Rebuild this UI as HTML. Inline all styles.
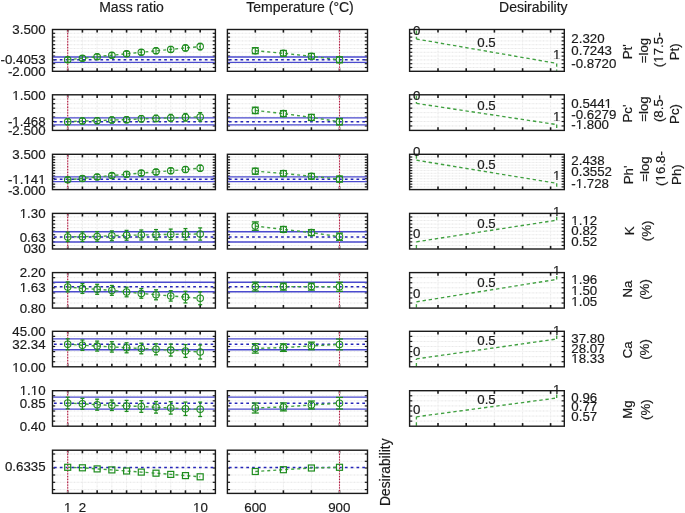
<!DOCTYPE html>
<html><head><meta charset="utf-8"><style>
html,body{margin:0;padding:0;background:#fff;width:685px;height:513px;overflow:hidden}
svg{display:block;will-change:transform;filter:blur(0.3px)}
text{font-family:"Liberation Sans", sans-serif;stroke:#1a1a1a;stroke-width:0.18px}
</style></head><body>
<svg width="685" height="513" viewBox="0 0 685 513" font-family='"Liberation Sans", sans-serif' fill="#1a1a1a">
<rect width="685" height="513" fill="#ffffff"/>
<text x="131.50" y="11.60" text-anchor="middle" font-size="14">Mass ratio</text>
<text x="300.00" y="11.60" text-anchor="middle" font-size="14">Temperature (°C)</text>
<text x="533.30" y="11.60" text-anchor="middle" font-size="14">Desirability</text>
<line x1="53.00" y1="33.30" x2="214.90" y2="33.30" stroke="#f5f5f5" stroke-width="1"/>
<line x1="53.00" y1="33.30" x2="214.90" y2="33.30" stroke="#e8e8e8" stroke-width="1" stroke-dasharray="1,2.5"/>
<line x1="53.00" y1="37.10" x2="214.90" y2="37.10" stroke="#f5f5f5" stroke-width="1"/>
<line x1="53.00" y1="37.10" x2="214.90" y2="37.10" stroke="#e8e8e8" stroke-width="1" stroke-dasharray="1,2.5"/>
<line x1="53.00" y1="40.90" x2="214.90" y2="40.90" stroke="#f5f5f5" stroke-width="1"/>
<line x1="53.00" y1="40.90" x2="214.90" y2="40.90" stroke="#e8e8e8" stroke-width="1" stroke-dasharray="1,2.5"/>
<line x1="53.00" y1="44.70" x2="214.90" y2="44.70" stroke="#f5f5f5" stroke-width="1"/>
<line x1="53.00" y1="44.70" x2="214.90" y2="44.70" stroke="#e8e8e8" stroke-width="1" stroke-dasharray="1,2.5"/>
<line x1="53.00" y1="48.50" x2="214.90" y2="48.50" stroke="#f5f5f5" stroke-width="1"/>
<line x1="53.00" y1="48.50" x2="214.90" y2="48.50" stroke="#e8e8e8" stroke-width="1" stroke-dasharray="1,2.5"/>
<line x1="53.00" y1="52.30" x2="214.90" y2="52.30" stroke="#f5f5f5" stroke-width="1"/>
<line x1="53.00" y1="52.30" x2="214.90" y2="52.30" stroke="#e8e8e8" stroke-width="1" stroke-dasharray="1,2.5"/>
<line x1="53.00" y1="56.10" x2="214.90" y2="56.10" stroke="#f5f5f5" stroke-width="1"/>
<line x1="53.00" y1="56.10" x2="214.90" y2="56.10" stroke="#e8e8e8" stroke-width="1" stroke-dasharray="1,2.5"/>
<line x1="53.00" y1="59.90" x2="214.90" y2="59.90" stroke="#f5f5f5" stroke-width="1"/>
<line x1="53.00" y1="59.90" x2="214.90" y2="59.90" stroke="#e8e8e8" stroke-width="1" stroke-dasharray="1,2.5"/>
<line x1="53.00" y1="63.70" x2="214.90" y2="63.70" stroke="#f5f5f5" stroke-width="1"/>
<line x1="53.00" y1="63.70" x2="214.90" y2="63.70" stroke="#e8e8e8" stroke-width="1" stroke-dasharray="1,2.5"/>
<line x1="53.00" y1="67.50" x2="214.90" y2="67.50" stroke="#f5f5f5" stroke-width="1"/>
<line x1="53.00" y1="67.50" x2="214.90" y2="67.50" stroke="#e8e8e8" stroke-width="1" stroke-dasharray="1,2.5"/>
<line x1="67.70" y1="30.00" x2="67.70" y2="70.80" stroke="#f5f5f5" stroke-width="1"/>
<line x1="67.70" y1="30.00" x2="67.70" y2="70.80" stroke="#e8e8e8" stroke-width="1" stroke-dasharray="1,2.5"/>
<line x1="82.42" y1="30.00" x2="82.42" y2="70.80" stroke="#f5f5f5" stroke-width="1"/>
<line x1="82.42" y1="30.00" x2="82.42" y2="70.80" stroke="#e8e8e8" stroke-width="1" stroke-dasharray="1,2.5"/>
<line x1="97.14" y1="30.00" x2="97.14" y2="70.80" stroke="#f5f5f5" stroke-width="1"/>
<line x1="97.14" y1="30.00" x2="97.14" y2="70.80" stroke="#e8e8e8" stroke-width="1" stroke-dasharray="1,2.5"/>
<line x1="111.86" y1="30.00" x2="111.86" y2="70.80" stroke="#f5f5f5" stroke-width="1"/>
<line x1="111.86" y1="30.00" x2="111.86" y2="70.80" stroke="#e8e8e8" stroke-width="1" stroke-dasharray="1,2.5"/>
<line x1="126.58" y1="30.00" x2="126.58" y2="70.80" stroke="#f5f5f5" stroke-width="1"/>
<line x1="126.58" y1="30.00" x2="126.58" y2="70.80" stroke="#e8e8e8" stroke-width="1" stroke-dasharray="1,2.5"/>
<line x1="141.30" y1="30.00" x2="141.30" y2="70.80" stroke="#f5f5f5" stroke-width="1"/>
<line x1="141.30" y1="30.00" x2="141.30" y2="70.80" stroke="#e8e8e8" stroke-width="1" stroke-dasharray="1,2.5"/>
<line x1="156.02" y1="30.00" x2="156.02" y2="70.80" stroke="#f5f5f5" stroke-width="1"/>
<line x1="156.02" y1="30.00" x2="156.02" y2="70.80" stroke="#e8e8e8" stroke-width="1" stroke-dasharray="1,2.5"/>
<line x1="170.74" y1="30.00" x2="170.74" y2="70.80" stroke="#f5f5f5" stroke-width="1"/>
<line x1="170.74" y1="30.00" x2="170.74" y2="70.80" stroke="#e8e8e8" stroke-width="1" stroke-dasharray="1,2.5"/>
<line x1="185.46" y1="30.00" x2="185.46" y2="70.80" stroke="#f5f5f5" stroke-width="1"/>
<line x1="185.46" y1="30.00" x2="185.46" y2="70.80" stroke="#e8e8e8" stroke-width="1" stroke-dasharray="1,2.5"/>
<line x1="200.18" y1="30.00" x2="200.18" y2="70.80" stroke="#f5f5f5" stroke-width="1"/>
<line x1="200.18" y1="30.00" x2="200.18" y2="70.80" stroke="#e8e8e8" stroke-width="1" stroke-dasharray="1,2.5"/>
<line x1="52.50" y1="33.30" x2="55.20" y2="33.30" stroke="#1a1a1a" stroke-width="1.2"/>
<line x1="212.70" y1="33.30" x2="215.40" y2="33.30" stroke="#1a1a1a" stroke-width="1.2"/>
<line x1="52.50" y1="37.10" x2="55.20" y2="37.10" stroke="#1a1a1a" stroke-width="1.2"/>
<line x1="212.70" y1="37.10" x2="215.40" y2="37.10" stroke="#1a1a1a" stroke-width="1.2"/>
<line x1="52.50" y1="40.90" x2="55.20" y2="40.90" stroke="#1a1a1a" stroke-width="1.2"/>
<line x1="212.70" y1="40.90" x2="215.40" y2="40.90" stroke="#1a1a1a" stroke-width="1.2"/>
<line x1="52.50" y1="44.70" x2="55.20" y2="44.70" stroke="#1a1a1a" stroke-width="1.2"/>
<line x1="212.70" y1="44.70" x2="215.40" y2="44.70" stroke="#1a1a1a" stroke-width="1.2"/>
<line x1="52.50" y1="48.50" x2="55.20" y2="48.50" stroke="#1a1a1a" stroke-width="1.2"/>
<line x1="212.70" y1="48.50" x2="215.40" y2="48.50" stroke="#1a1a1a" stroke-width="1.2"/>
<line x1="52.50" y1="52.30" x2="55.20" y2="52.30" stroke="#1a1a1a" stroke-width="1.2"/>
<line x1="212.70" y1="52.30" x2="215.40" y2="52.30" stroke="#1a1a1a" stroke-width="1.2"/>
<line x1="52.50" y1="56.10" x2="55.20" y2="56.10" stroke="#1a1a1a" stroke-width="1.2"/>
<line x1="212.70" y1="56.10" x2="215.40" y2="56.10" stroke="#1a1a1a" stroke-width="1.2"/>
<line x1="52.50" y1="59.90" x2="55.20" y2="59.90" stroke="#1a1a1a" stroke-width="1.2"/>
<line x1="212.70" y1="59.90" x2="215.40" y2="59.90" stroke="#1a1a1a" stroke-width="1.2"/>
<line x1="52.50" y1="63.70" x2="55.20" y2="63.70" stroke="#1a1a1a" stroke-width="1.2"/>
<line x1="212.70" y1="63.70" x2="215.40" y2="63.70" stroke="#1a1a1a" stroke-width="1.2"/>
<line x1="52.50" y1="67.50" x2="55.20" y2="67.50" stroke="#1a1a1a" stroke-width="1.2"/>
<line x1="212.70" y1="67.50" x2="215.40" y2="67.50" stroke="#1a1a1a" stroke-width="1.2"/>
<line x1="67.70" y1="29.50" x2="67.70" y2="32.60" stroke="#1a1a1a" stroke-width="1.6"/>
<line x1="67.70" y1="68.20" x2="67.70" y2="71.30" stroke="#1a1a1a" stroke-width="1.6"/>
<line x1="82.42" y1="29.50" x2="82.42" y2="32.60" stroke="#1a1a1a" stroke-width="1.6"/>
<line x1="82.42" y1="68.20" x2="82.42" y2="71.30" stroke="#1a1a1a" stroke-width="1.6"/>
<line x1="97.14" y1="29.50" x2="97.14" y2="32.60" stroke="#1a1a1a" stroke-width="1.6"/>
<line x1="97.14" y1="68.20" x2="97.14" y2="71.30" stroke="#1a1a1a" stroke-width="1.6"/>
<line x1="111.86" y1="29.50" x2="111.86" y2="32.60" stroke="#1a1a1a" stroke-width="1.6"/>
<line x1="111.86" y1="68.20" x2="111.86" y2="71.30" stroke="#1a1a1a" stroke-width="1.6"/>
<line x1="126.58" y1="29.50" x2="126.58" y2="32.60" stroke="#1a1a1a" stroke-width="1.6"/>
<line x1="126.58" y1="68.20" x2="126.58" y2="71.30" stroke="#1a1a1a" stroke-width="1.6"/>
<line x1="141.30" y1="29.50" x2="141.30" y2="32.60" stroke="#1a1a1a" stroke-width="1.6"/>
<line x1="141.30" y1="68.20" x2="141.30" y2="71.30" stroke="#1a1a1a" stroke-width="1.6"/>
<line x1="156.02" y1="29.50" x2="156.02" y2="32.60" stroke="#1a1a1a" stroke-width="1.6"/>
<line x1="156.02" y1="68.20" x2="156.02" y2="71.30" stroke="#1a1a1a" stroke-width="1.6"/>
<line x1="170.74" y1="29.50" x2="170.74" y2="32.60" stroke="#1a1a1a" stroke-width="1.6"/>
<line x1="170.74" y1="68.20" x2="170.74" y2="71.30" stroke="#1a1a1a" stroke-width="1.6"/>
<line x1="185.46" y1="29.50" x2="185.46" y2="32.60" stroke="#1a1a1a" stroke-width="1.6"/>
<line x1="185.46" y1="68.20" x2="185.46" y2="71.30" stroke="#1a1a1a" stroke-width="1.6"/>
<line x1="200.18" y1="29.50" x2="200.18" y2="32.60" stroke="#1a1a1a" stroke-width="1.6"/>
<line x1="200.18" y1="68.20" x2="200.18" y2="71.30" stroke="#1a1a1a" stroke-width="1.6"/>
<line x1="53.10" y1="57.00" x2="214.80" y2="57.00" stroke="#4a4ace" stroke-width="1.35"/>
<line x1="53.10" y1="62.40" x2="214.80" y2="62.40" stroke="#4a4ace" stroke-width="1.35"/>
<line x1="54.00" y1="59.70" x2="214.80" y2="59.70" stroke="#2525b8" stroke-width="1.6" stroke-dasharray="2.7,3.1"/>
<line x1="67.70" y1="30.10" x2="67.70" y2="70.70" stroke="#e9b9c6" stroke-width="1.0"/>
<line x1="67.70" y1="30.10" x2="67.70" y2="70.70" stroke="#b01c40" stroke-width="1.1" stroke-dasharray="1.3,1.5"/>
<polyline points="67.70,59.70 82.42,58.30 97.14,56.70 111.86,55.20 126.58,53.80 141.30,52.30 156.02,50.80 170.74,49.40 185.46,47.90 200.18,46.60" fill="none" stroke="#40a040" stroke-width="1.4" stroke-dasharray="3,3"/>
<circle cx="67.70" cy="59.70" r="3.25" fill="none" stroke="#1e8c1e" stroke-width="1.05"/>
<line x1="67.70" y1="57.10" x2="67.70" y2="62.30" stroke="#1e8c1e" stroke-width="1.1"/>
<line x1="65.70" y1="57.10" x2="69.70" y2="57.10" stroke="#1e8c1e" stroke-width="1.3"/>
<line x1="65.70" y1="62.30" x2="69.70" y2="62.30" stroke="#1e8c1e" stroke-width="1.3"/>
<circle cx="82.42" cy="58.30" r="3.25" fill="none" stroke="#1e8c1e" stroke-width="1.05"/>
<line x1="82.42" y1="55.70" x2="82.42" y2="60.90" stroke="#1e8c1e" stroke-width="1.1"/>
<line x1="80.42" y1="55.70" x2="84.42" y2="55.70" stroke="#1e8c1e" stroke-width="1.3"/>
<line x1="80.42" y1="60.90" x2="84.42" y2="60.90" stroke="#1e8c1e" stroke-width="1.3"/>
<circle cx="97.14" cy="56.70" r="3.25" fill="none" stroke="#1e8c1e" stroke-width="1.05"/>
<line x1="97.14" y1="54.10" x2="97.14" y2="59.30" stroke="#1e8c1e" stroke-width="1.1"/>
<line x1="95.14" y1="54.10" x2="99.14" y2="54.10" stroke="#1e8c1e" stroke-width="1.3"/>
<line x1="95.14" y1="59.30" x2="99.14" y2="59.30" stroke="#1e8c1e" stroke-width="1.3"/>
<circle cx="111.86" cy="55.20" r="3.25" fill="none" stroke="#1e8c1e" stroke-width="1.05"/>
<line x1="111.86" y1="52.60" x2="111.86" y2="57.80" stroke="#1e8c1e" stroke-width="1.1"/>
<line x1="109.86" y1="52.60" x2="113.86" y2="52.60" stroke="#1e8c1e" stroke-width="1.3"/>
<line x1="109.86" y1="57.80" x2="113.86" y2="57.80" stroke="#1e8c1e" stroke-width="1.3"/>
<circle cx="126.58" cy="53.80" r="3.25" fill="none" stroke="#1e8c1e" stroke-width="1.05"/>
<line x1="126.58" y1="51.20" x2="126.58" y2="56.40" stroke="#1e8c1e" stroke-width="1.1"/>
<line x1="124.58" y1="51.20" x2="128.58" y2="51.20" stroke="#1e8c1e" stroke-width="1.3"/>
<line x1="124.58" y1="56.40" x2="128.58" y2="56.40" stroke="#1e8c1e" stroke-width="1.3"/>
<circle cx="141.30" cy="52.30" r="3.25" fill="none" stroke="#1e8c1e" stroke-width="1.05"/>
<line x1="141.30" y1="49.60" x2="141.30" y2="55.00" stroke="#1e8c1e" stroke-width="1.1"/>
<line x1="139.30" y1="49.60" x2="143.30" y2="49.60" stroke="#1e8c1e" stroke-width="1.3"/>
<line x1="139.30" y1="55.00" x2="143.30" y2="55.00" stroke="#1e8c1e" stroke-width="1.3"/>
<circle cx="156.02" cy="50.80" r="3.25" fill="none" stroke="#1e8c1e" stroke-width="1.05"/>
<line x1="156.02" y1="48.00" x2="156.02" y2="53.60" stroke="#1e8c1e" stroke-width="1.1"/>
<line x1="154.02" y1="48.00" x2="158.02" y2="48.00" stroke="#1e8c1e" stroke-width="1.3"/>
<line x1="154.02" y1="53.60" x2="158.02" y2="53.60" stroke="#1e8c1e" stroke-width="1.3"/>
<circle cx="170.74" cy="49.40" r="3.25" fill="none" stroke="#1e8c1e" stroke-width="1.05"/>
<line x1="170.74" y1="46.50" x2="170.74" y2="52.30" stroke="#1e8c1e" stroke-width="1.1"/>
<line x1="168.74" y1="46.50" x2="172.74" y2="46.50" stroke="#1e8c1e" stroke-width="1.3"/>
<line x1="168.74" y1="52.30" x2="172.74" y2="52.30" stroke="#1e8c1e" stroke-width="1.3"/>
<circle cx="185.46" cy="47.90" r="3.25" fill="none" stroke="#1e8c1e" stroke-width="1.05"/>
<line x1="185.46" y1="44.90" x2="185.46" y2="50.90" stroke="#1e8c1e" stroke-width="1.1"/>
<line x1="183.46" y1="44.90" x2="187.46" y2="44.90" stroke="#1e8c1e" stroke-width="1.3"/>
<line x1="183.46" y1="50.90" x2="187.46" y2="50.90" stroke="#1e8c1e" stroke-width="1.3"/>
<circle cx="200.18" cy="46.60" r="3.25" fill="none" stroke="#1e8c1e" stroke-width="1.05"/>
<line x1="200.18" y1="43.40" x2="200.18" y2="49.80" stroke="#1e8c1e" stroke-width="1.1"/>
<line x1="198.18" y1="43.40" x2="202.18" y2="43.40" stroke="#1e8c1e" stroke-width="1.3"/>
<line x1="198.18" y1="49.80" x2="202.18" y2="49.80" stroke="#1e8c1e" stroke-width="1.3"/>
<rect x="52.50" y="29.50" width="162.90" height="41.80" fill="none" stroke="#1a1a1a" stroke-width="1.4"/>
<line x1="227.90" y1="33.30" x2="367.00" y2="33.30" stroke="#f5f5f5" stroke-width="1"/>
<line x1="227.90" y1="33.30" x2="367.00" y2="33.30" stroke="#e8e8e8" stroke-width="1" stroke-dasharray="1,2.5"/>
<line x1="227.90" y1="37.10" x2="367.00" y2="37.10" stroke="#f5f5f5" stroke-width="1"/>
<line x1="227.90" y1="37.10" x2="367.00" y2="37.10" stroke="#e8e8e8" stroke-width="1" stroke-dasharray="1,2.5"/>
<line x1="227.90" y1="40.90" x2="367.00" y2="40.90" stroke="#f5f5f5" stroke-width="1"/>
<line x1="227.90" y1="40.90" x2="367.00" y2="40.90" stroke="#e8e8e8" stroke-width="1" stroke-dasharray="1,2.5"/>
<line x1="227.90" y1="44.70" x2="367.00" y2="44.70" stroke="#f5f5f5" stroke-width="1"/>
<line x1="227.90" y1="44.70" x2="367.00" y2="44.70" stroke="#e8e8e8" stroke-width="1" stroke-dasharray="1,2.5"/>
<line x1="227.90" y1="48.50" x2="367.00" y2="48.50" stroke="#f5f5f5" stroke-width="1"/>
<line x1="227.90" y1="48.50" x2="367.00" y2="48.50" stroke="#e8e8e8" stroke-width="1" stroke-dasharray="1,2.5"/>
<line x1="227.90" y1="52.30" x2="367.00" y2="52.30" stroke="#f5f5f5" stroke-width="1"/>
<line x1="227.90" y1="52.30" x2="367.00" y2="52.30" stroke="#e8e8e8" stroke-width="1" stroke-dasharray="1,2.5"/>
<line x1="227.90" y1="56.10" x2="367.00" y2="56.10" stroke="#f5f5f5" stroke-width="1"/>
<line x1="227.90" y1="56.10" x2="367.00" y2="56.10" stroke="#e8e8e8" stroke-width="1" stroke-dasharray="1,2.5"/>
<line x1="227.90" y1="59.90" x2="367.00" y2="59.90" stroke="#f5f5f5" stroke-width="1"/>
<line x1="227.90" y1="59.90" x2="367.00" y2="59.90" stroke="#e8e8e8" stroke-width="1" stroke-dasharray="1,2.5"/>
<line x1="227.90" y1="63.70" x2="367.00" y2="63.70" stroke="#f5f5f5" stroke-width="1"/>
<line x1="227.90" y1="63.70" x2="367.00" y2="63.70" stroke="#e8e8e8" stroke-width="1" stroke-dasharray="1,2.5"/>
<line x1="227.90" y1="67.50" x2="367.00" y2="67.50" stroke="#f5f5f5" stroke-width="1"/>
<line x1="227.90" y1="67.50" x2="367.00" y2="67.50" stroke="#e8e8e8" stroke-width="1" stroke-dasharray="1,2.5"/>
<line x1="255.30" y1="30.00" x2="255.30" y2="70.80" stroke="#f5f5f5" stroke-width="1"/>
<line x1="255.30" y1="30.00" x2="255.30" y2="70.80" stroke="#e8e8e8" stroke-width="1" stroke-dasharray="1,2.5"/>
<line x1="283.40" y1="30.00" x2="283.40" y2="70.80" stroke="#f5f5f5" stroke-width="1"/>
<line x1="283.40" y1="30.00" x2="283.40" y2="70.80" stroke="#e8e8e8" stroke-width="1" stroke-dasharray="1,2.5"/>
<line x1="311.40" y1="30.00" x2="311.40" y2="70.80" stroke="#f5f5f5" stroke-width="1"/>
<line x1="311.40" y1="30.00" x2="311.40" y2="70.80" stroke="#e8e8e8" stroke-width="1" stroke-dasharray="1,2.5"/>
<line x1="339.50" y1="30.00" x2="339.50" y2="70.80" stroke="#f5f5f5" stroke-width="1"/>
<line x1="339.50" y1="30.00" x2="339.50" y2="70.80" stroke="#e8e8e8" stroke-width="1" stroke-dasharray="1,2.5"/>
<line x1="227.40" y1="33.30" x2="230.10" y2="33.30" stroke="#1a1a1a" stroke-width="1.2"/>
<line x1="364.80" y1="33.30" x2="367.50" y2="33.30" stroke="#1a1a1a" stroke-width="1.2"/>
<line x1="227.40" y1="37.10" x2="230.10" y2="37.10" stroke="#1a1a1a" stroke-width="1.2"/>
<line x1="364.80" y1="37.10" x2="367.50" y2="37.10" stroke="#1a1a1a" stroke-width="1.2"/>
<line x1="227.40" y1="40.90" x2="230.10" y2="40.90" stroke="#1a1a1a" stroke-width="1.2"/>
<line x1="364.80" y1="40.90" x2="367.50" y2="40.90" stroke="#1a1a1a" stroke-width="1.2"/>
<line x1="227.40" y1="44.70" x2="230.10" y2="44.70" stroke="#1a1a1a" stroke-width="1.2"/>
<line x1="364.80" y1="44.70" x2="367.50" y2="44.70" stroke="#1a1a1a" stroke-width="1.2"/>
<line x1="227.40" y1="48.50" x2="230.10" y2="48.50" stroke="#1a1a1a" stroke-width="1.2"/>
<line x1="364.80" y1="48.50" x2="367.50" y2="48.50" stroke="#1a1a1a" stroke-width="1.2"/>
<line x1="227.40" y1="52.30" x2="230.10" y2="52.30" stroke="#1a1a1a" stroke-width="1.2"/>
<line x1="364.80" y1="52.30" x2="367.50" y2="52.30" stroke="#1a1a1a" stroke-width="1.2"/>
<line x1="227.40" y1="56.10" x2="230.10" y2="56.10" stroke="#1a1a1a" stroke-width="1.2"/>
<line x1="364.80" y1="56.10" x2="367.50" y2="56.10" stroke="#1a1a1a" stroke-width="1.2"/>
<line x1="227.40" y1="59.90" x2="230.10" y2="59.90" stroke="#1a1a1a" stroke-width="1.2"/>
<line x1="364.80" y1="59.90" x2="367.50" y2="59.90" stroke="#1a1a1a" stroke-width="1.2"/>
<line x1="227.40" y1="63.70" x2="230.10" y2="63.70" stroke="#1a1a1a" stroke-width="1.2"/>
<line x1="364.80" y1="63.70" x2="367.50" y2="63.70" stroke="#1a1a1a" stroke-width="1.2"/>
<line x1="227.40" y1="67.50" x2="230.10" y2="67.50" stroke="#1a1a1a" stroke-width="1.2"/>
<line x1="364.80" y1="67.50" x2="367.50" y2="67.50" stroke="#1a1a1a" stroke-width="1.2"/>
<line x1="255.30" y1="29.50" x2="255.30" y2="32.60" stroke="#1a1a1a" stroke-width="1.6"/>
<line x1="255.30" y1="68.20" x2="255.30" y2="71.30" stroke="#1a1a1a" stroke-width="1.6"/>
<line x1="283.40" y1="29.50" x2="283.40" y2="32.60" stroke="#1a1a1a" stroke-width="1.6"/>
<line x1="283.40" y1="68.20" x2="283.40" y2="71.30" stroke="#1a1a1a" stroke-width="1.6"/>
<line x1="311.40" y1="29.50" x2="311.40" y2="32.60" stroke="#1a1a1a" stroke-width="1.6"/>
<line x1="311.40" y1="68.20" x2="311.40" y2="71.30" stroke="#1a1a1a" stroke-width="1.6"/>
<line x1="339.50" y1="29.50" x2="339.50" y2="32.60" stroke="#1a1a1a" stroke-width="1.6"/>
<line x1="339.50" y1="68.20" x2="339.50" y2="71.30" stroke="#1a1a1a" stroke-width="1.6"/>
<line x1="228.00" y1="57.00" x2="366.90" y2="57.00" stroke="#4a4ace" stroke-width="1.35"/>
<line x1="228.00" y1="62.40" x2="366.90" y2="62.40" stroke="#4a4ace" stroke-width="1.35"/>
<line x1="228.90" y1="59.70" x2="366.90" y2="59.70" stroke="#2525b8" stroke-width="1.6" stroke-dasharray="2.7,3.1"/>
<line x1="339.50" y1="30.10" x2="339.50" y2="70.70" stroke="#e9b9c6" stroke-width="1.0"/>
<line x1="339.50" y1="30.10" x2="339.50" y2="70.70" stroke="#b01c40" stroke-width="1.1" stroke-dasharray="1.3,1.5"/>
<polyline points="255.30,50.70 283.40,53.30 311.40,56.30 339.50,59.80" fill="none" stroke="#40a040" stroke-width="1.4" stroke-dasharray="3,3"/>
<circle cx="255.30" cy="50.70" r="3.25" fill="none" stroke="#1e8c1e" stroke-width="1.05"/>
<line x1="255.30" y1="47.70" x2="255.30" y2="53.70" stroke="#1e8c1e" stroke-width="1.1"/>
<line x1="251.80" y1="47.70" x2="258.80" y2="47.70" stroke="#1e8c1e" stroke-width="1.3"/>
<line x1="251.80" y1="53.70" x2="258.80" y2="53.70" stroke="#1e8c1e" stroke-width="1.3"/>
<circle cx="283.40" cy="53.30" r="3.25" fill="none" stroke="#1e8c1e" stroke-width="1.05"/>
<line x1="283.40" y1="50.50" x2="283.40" y2="56.10" stroke="#1e8c1e" stroke-width="1.1"/>
<line x1="279.90" y1="50.50" x2="286.90" y2="50.50" stroke="#1e8c1e" stroke-width="1.3"/>
<line x1="279.90" y1="56.10" x2="286.90" y2="56.10" stroke="#1e8c1e" stroke-width="1.3"/>
<circle cx="311.40" cy="56.30" r="3.25" fill="none" stroke="#1e8c1e" stroke-width="1.05"/>
<line x1="311.40" y1="53.50" x2="311.40" y2="59.10" stroke="#1e8c1e" stroke-width="1.1"/>
<line x1="307.90" y1="53.50" x2="314.90" y2="53.50" stroke="#1e8c1e" stroke-width="1.3"/>
<line x1="307.90" y1="59.10" x2="314.90" y2="59.10" stroke="#1e8c1e" stroke-width="1.3"/>
<circle cx="339.50" cy="59.80" r="3.25" fill="none" stroke="#1e8c1e" stroke-width="1.05"/>
<line x1="339.50" y1="56.80" x2="339.50" y2="62.80" stroke="#1e8c1e" stroke-width="1.1"/>
<line x1="336.00" y1="56.80" x2="343.00" y2="56.80" stroke="#1e8c1e" stroke-width="1.3"/>
<line x1="336.00" y1="62.80" x2="343.00" y2="62.80" stroke="#1e8c1e" stroke-width="1.3"/>
<rect x="227.40" y="29.50" width="140.10" height="41.80" fill="none" stroke="#1a1a1a" stroke-width="1.4"/>
<text x="45.60" y="34.45" text-anchor="end" font-size="13.3">3.500</text>
<text x="45.60" y="64.15" text-anchor="end" font-size="13.3">-0.4053</text>
<text x="45.60" y="76.35" text-anchor="end" font-size="13.3">-2.000</text>
<line x1="410.10" y1="33.30" x2="563.80" y2="33.30" stroke="#f5f5f5" stroke-width="1"/>
<line x1="410.10" y1="33.30" x2="563.80" y2="33.30" stroke="#e8e8e8" stroke-width="1" stroke-dasharray="1,2.5"/>
<line x1="410.10" y1="37.10" x2="563.80" y2="37.10" stroke="#f5f5f5" stroke-width="1"/>
<line x1="410.10" y1="37.10" x2="563.80" y2="37.10" stroke="#e8e8e8" stroke-width="1" stroke-dasharray="1,2.5"/>
<line x1="410.10" y1="40.90" x2="563.80" y2="40.90" stroke="#f5f5f5" stroke-width="1"/>
<line x1="410.10" y1="40.90" x2="563.80" y2="40.90" stroke="#e8e8e8" stroke-width="1" stroke-dasharray="1,2.5"/>
<line x1="410.10" y1="44.70" x2="563.80" y2="44.70" stroke="#f5f5f5" stroke-width="1"/>
<line x1="410.10" y1="44.70" x2="563.80" y2="44.70" stroke="#e8e8e8" stroke-width="1" stroke-dasharray="1,2.5"/>
<line x1="410.10" y1="48.50" x2="563.80" y2="48.50" stroke="#f5f5f5" stroke-width="1"/>
<line x1="410.10" y1="48.50" x2="563.80" y2="48.50" stroke="#e8e8e8" stroke-width="1" stroke-dasharray="1,2.5"/>
<line x1="410.10" y1="52.30" x2="563.80" y2="52.30" stroke="#f5f5f5" stroke-width="1"/>
<line x1="410.10" y1="52.30" x2="563.80" y2="52.30" stroke="#e8e8e8" stroke-width="1" stroke-dasharray="1,2.5"/>
<line x1="410.10" y1="56.10" x2="563.80" y2="56.10" stroke="#f5f5f5" stroke-width="1"/>
<line x1="410.10" y1="56.10" x2="563.80" y2="56.10" stroke="#e8e8e8" stroke-width="1" stroke-dasharray="1,2.5"/>
<line x1="410.10" y1="59.90" x2="563.80" y2="59.90" stroke="#f5f5f5" stroke-width="1"/>
<line x1="410.10" y1="59.90" x2="563.80" y2="59.90" stroke="#e8e8e8" stroke-width="1" stroke-dasharray="1,2.5"/>
<line x1="410.10" y1="63.70" x2="563.80" y2="63.70" stroke="#f5f5f5" stroke-width="1"/>
<line x1="410.10" y1="63.70" x2="563.80" y2="63.70" stroke="#e8e8e8" stroke-width="1" stroke-dasharray="1,2.5"/>
<line x1="410.10" y1="67.50" x2="563.80" y2="67.50" stroke="#f5f5f5" stroke-width="1"/>
<line x1="410.10" y1="67.50" x2="563.80" y2="67.50" stroke="#e8e8e8" stroke-width="1" stroke-dasharray="1,2.5"/>
<line x1="438.00" y1="30.00" x2="438.00" y2="70.80" stroke="#f5f5f5" stroke-width="1"/>
<line x1="438.00" y1="30.00" x2="438.00" y2="70.80" stroke="#e8e8e8" stroke-width="1" stroke-dasharray="1,2.5"/>
<line x1="466.20" y1="30.00" x2="466.20" y2="70.80" stroke="#f5f5f5" stroke-width="1"/>
<line x1="466.20" y1="30.00" x2="466.20" y2="70.80" stroke="#e8e8e8" stroke-width="1" stroke-dasharray="1,2.5"/>
<line x1="494.40" y1="30.00" x2="494.40" y2="70.80" stroke="#f5f5f5" stroke-width="1"/>
<line x1="494.40" y1="30.00" x2="494.40" y2="70.80" stroke="#e8e8e8" stroke-width="1" stroke-dasharray="1,2.5"/>
<line x1="522.60" y1="30.00" x2="522.60" y2="70.80" stroke="#f5f5f5" stroke-width="1"/>
<line x1="522.60" y1="30.00" x2="522.60" y2="70.80" stroke="#e8e8e8" stroke-width="1" stroke-dasharray="1,2.5"/>
<line x1="550.60" y1="30.00" x2="550.60" y2="70.80" stroke="#f5f5f5" stroke-width="1"/>
<line x1="550.60" y1="30.00" x2="550.60" y2="70.80" stroke="#e8e8e8" stroke-width="1" stroke-dasharray="1,2.5"/>
<line x1="409.60" y1="33.30" x2="412.30" y2="33.30" stroke="#1a1a1a" stroke-width="1.2"/>
<line x1="561.60" y1="33.30" x2="564.30" y2="33.30" stroke="#1a1a1a" stroke-width="1.2"/>
<line x1="409.60" y1="37.10" x2="412.30" y2="37.10" stroke="#1a1a1a" stroke-width="1.2"/>
<line x1="561.60" y1="37.10" x2="564.30" y2="37.10" stroke="#1a1a1a" stroke-width="1.2"/>
<line x1="409.60" y1="40.90" x2="412.30" y2="40.90" stroke="#1a1a1a" stroke-width="1.2"/>
<line x1="561.60" y1="40.90" x2="564.30" y2="40.90" stroke="#1a1a1a" stroke-width="1.2"/>
<line x1="409.60" y1="44.70" x2="412.30" y2="44.70" stroke="#1a1a1a" stroke-width="1.2"/>
<line x1="561.60" y1="44.70" x2="564.30" y2="44.70" stroke="#1a1a1a" stroke-width="1.2"/>
<line x1="409.60" y1="48.50" x2="412.30" y2="48.50" stroke="#1a1a1a" stroke-width="1.2"/>
<line x1="561.60" y1="48.50" x2="564.30" y2="48.50" stroke="#1a1a1a" stroke-width="1.2"/>
<line x1="409.60" y1="52.30" x2="412.30" y2="52.30" stroke="#1a1a1a" stroke-width="1.2"/>
<line x1="561.60" y1="52.30" x2="564.30" y2="52.30" stroke="#1a1a1a" stroke-width="1.2"/>
<line x1="409.60" y1="56.10" x2="412.30" y2="56.10" stroke="#1a1a1a" stroke-width="1.2"/>
<line x1="561.60" y1="56.10" x2="564.30" y2="56.10" stroke="#1a1a1a" stroke-width="1.2"/>
<line x1="409.60" y1="59.90" x2="412.30" y2="59.90" stroke="#1a1a1a" stroke-width="1.2"/>
<line x1="561.60" y1="59.90" x2="564.30" y2="59.90" stroke="#1a1a1a" stroke-width="1.2"/>
<line x1="409.60" y1="63.70" x2="412.30" y2="63.70" stroke="#1a1a1a" stroke-width="1.2"/>
<line x1="561.60" y1="63.70" x2="564.30" y2="63.70" stroke="#1a1a1a" stroke-width="1.2"/>
<line x1="409.60" y1="67.50" x2="412.30" y2="67.50" stroke="#1a1a1a" stroke-width="1.2"/>
<line x1="561.60" y1="67.50" x2="564.30" y2="67.50" stroke="#1a1a1a" stroke-width="1.2"/>
<line x1="438.00" y1="29.50" x2="438.00" y2="32.60" stroke="#1a1a1a" stroke-width="1.6"/>
<line x1="438.00" y1="68.20" x2="438.00" y2="71.30" stroke="#1a1a1a" stroke-width="1.6"/>
<line x1="466.20" y1="29.50" x2="466.20" y2="32.60" stroke="#1a1a1a" stroke-width="1.6"/>
<line x1="466.20" y1="68.20" x2="466.20" y2="71.30" stroke="#1a1a1a" stroke-width="1.6"/>
<line x1="494.40" y1="29.50" x2="494.40" y2="32.60" stroke="#1a1a1a" stroke-width="1.6"/>
<line x1="494.40" y1="68.20" x2="494.40" y2="71.30" stroke="#1a1a1a" stroke-width="1.6"/>
<line x1="522.60" y1="29.50" x2="522.60" y2="32.60" stroke="#1a1a1a" stroke-width="1.6"/>
<line x1="522.60" y1="68.20" x2="522.60" y2="71.30" stroke="#1a1a1a" stroke-width="1.6"/>
<line x1="550.60" y1="29.50" x2="550.60" y2="32.60" stroke="#1a1a1a" stroke-width="1.6"/>
<line x1="550.60" y1="68.20" x2="550.60" y2="71.30" stroke="#1a1a1a" stroke-width="1.6"/>
<line x1="416.40" y1="30.50" x2="416.40" y2="39.00" stroke="#40a040" stroke-width="1.35" stroke-dasharray="3.4,2.8"/>
<line x1="416.40" y1="39.00" x2="556.70" y2="63.40" stroke="#40a040" stroke-width="1.35" stroke-dasharray="3.4,2.8"/>
<line x1="556.70" y1="63.40" x2="556.70" y2="70.80" stroke="#40a040" stroke-width="1.35" stroke-dasharray="3.4,2.8"/>
<rect x="409.60" y="29.50" width="154.70" height="41.80" fill="none" stroke="#1a1a1a" stroke-width="1.4"/>
<text x="416.80" y="35.40" text-anchor="middle" font-size="13.3">0</text>
<text x="486.50" y="47.00" text-anchor="middle" font-size="13.3">0.5</text>
<text x="556.70" y="59.40" text-anchor="middle" font-size="13.3" clip-path="url(#c8)">1</text>
<text x="571.30" y="43.35" text-anchor="start" font-size="13.3">2.320</text>
<text x="571.30" y="55.45" text-anchor="start" font-size="13.3">0.7243</text>
<text x="571.30" y="67.95" text-anchor="start" font-size="13.3">-0.8720</text>
<text transform="translate(632.00,51.80) rotate(-90)" text-anchor="middle" font-size="13.3">Pt'</text>
<text transform="translate(647.90,50.50) rotate(-90)" text-anchor="middle" font-size="13.3">=log</text>
<text transform="translate(663.30,49.80) rotate(-90)" text-anchor="middle" font-size="13.3" clip-path="url(#c14)">(17.5-</text>
<text transform="translate(678.90,51.80) rotate(-90)" text-anchor="middle" font-size="13.3">Pt)</text>
<line x1="53.00" y1="99.25" x2="214.90" y2="99.25" stroke="#f5f5f5" stroke-width="1"/>
<line x1="53.00" y1="99.25" x2="214.90" y2="99.25" stroke="#e8e8e8" stroke-width="1" stroke-dasharray="1,2.5"/>
<line x1="53.00" y1="103.70" x2="214.90" y2="103.70" stroke="#f5f5f5" stroke-width="1"/>
<line x1="53.00" y1="103.70" x2="214.90" y2="103.70" stroke="#e8e8e8" stroke-width="1" stroke-dasharray="1,2.5"/>
<line x1="53.00" y1="108.15" x2="214.90" y2="108.15" stroke="#f5f5f5" stroke-width="1"/>
<line x1="53.00" y1="108.15" x2="214.90" y2="108.15" stroke="#e8e8e8" stroke-width="1" stroke-dasharray="1,2.5"/>
<line x1="53.00" y1="112.60" x2="214.90" y2="112.60" stroke="#f5f5f5" stroke-width="1"/>
<line x1="53.00" y1="112.60" x2="214.90" y2="112.60" stroke="#e8e8e8" stroke-width="1" stroke-dasharray="1,2.5"/>
<line x1="53.00" y1="117.05" x2="214.90" y2="117.05" stroke="#f5f5f5" stroke-width="1"/>
<line x1="53.00" y1="117.05" x2="214.90" y2="117.05" stroke="#e8e8e8" stroke-width="1" stroke-dasharray="1,2.5"/>
<line x1="53.00" y1="121.50" x2="214.90" y2="121.50" stroke="#f5f5f5" stroke-width="1"/>
<line x1="53.00" y1="121.50" x2="214.90" y2="121.50" stroke="#e8e8e8" stroke-width="1" stroke-dasharray="1,2.5"/>
<line x1="53.00" y1="125.95" x2="214.90" y2="125.95" stroke="#f5f5f5" stroke-width="1"/>
<line x1="53.00" y1="125.95" x2="214.90" y2="125.95" stroke="#e8e8e8" stroke-width="1" stroke-dasharray="1,2.5"/>
<line x1="67.70" y1="95.30" x2="67.70" y2="129.90" stroke="#f5f5f5" stroke-width="1"/>
<line x1="67.70" y1="95.30" x2="67.70" y2="129.90" stroke="#e8e8e8" stroke-width="1" stroke-dasharray="1,2.5"/>
<line x1="82.42" y1="95.30" x2="82.42" y2="129.90" stroke="#f5f5f5" stroke-width="1"/>
<line x1="82.42" y1="95.30" x2="82.42" y2="129.90" stroke="#e8e8e8" stroke-width="1" stroke-dasharray="1,2.5"/>
<line x1="97.14" y1="95.30" x2="97.14" y2="129.90" stroke="#f5f5f5" stroke-width="1"/>
<line x1="97.14" y1="95.30" x2="97.14" y2="129.90" stroke="#e8e8e8" stroke-width="1" stroke-dasharray="1,2.5"/>
<line x1="111.86" y1="95.30" x2="111.86" y2="129.90" stroke="#f5f5f5" stroke-width="1"/>
<line x1="111.86" y1="95.30" x2="111.86" y2="129.90" stroke="#e8e8e8" stroke-width="1" stroke-dasharray="1,2.5"/>
<line x1="126.58" y1="95.30" x2="126.58" y2="129.90" stroke="#f5f5f5" stroke-width="1"/>
<line x1="126.58" y1="95.30" x2="126.58" y2="129.90" stroke="#e8e8e8" stroke-width="1" stroke-dasharray="1,2.5"/>
<line x1="141.30" y1="95.30" x2="141.30" y2="129.90" stroke="#f5f5f5" stroke-width="1"/>
<line x1="141.30" y1="95.30" x2="141.30" y2="129.90" stroke="#e8e8e8" stroke-width="1" stroke-dasharray="1,2.5"/>
<line x1="156.02" y1="95.30" x2="156.02" y2="129.90" stroke="#f5f5f5" stroke-width="1"/>
<line x1="156.02" y1="95.30" x2="156.02" y2="129.90" stroke="#e8e8e8" stroke-width="1" stroke-dasharray="1,2.5"/>
<line x1="170.74" y1="95.30" x2="170.74" y2="129.90" stroke="#f5f5f5" stroke-width="1"/>
<line x1="170.74" y1="95.30" x2="170.74" y2="129.90" stroke="#e8e8e8" stroke-width="1" stroke-dasharray="1,2.5"/>
<line x1="185.46" y1="95.30" x2="185.46" y2="129.90" stroke="#f5f5f5" stroke-width="1"/>
<line x1="185.46" y1="95.30" x2="185.46" y2="129.90" stroke="#e8e8e8" stroke-width="1" stroke-dasharray="1,2.5"/>
<line x1="200.18" y1="95.30" x2="200.18" y2="129.90" stroke="#f5f5f5" stroke-width="1"/>
<line x1="200.18" y1="95.30" x2="200.18" y2="129.90" stroke="#e8e8e8" stroke-width="1" stroke-dasharray="1,2.5"/>
<line x1="52.50" y1="99.25" x2="55.20" y2="99.25" stroke="#1a1a1a" stroke-width="1.2"/>
<line x1="212.70" y1="99.25" x2="215.40" y2="99.25" stroke="#1a1a1a" stroke-width="1.2"/>
<line x1="52.50" y1="103.70" x2="55.20" y2="103.70" stroke="#1a1a1a" stroke-width="1.2"/>
<line x1="212.70" y1="103.70" x2="215.40" y2="103.70" stroke="#1a1a1a" stroke-width="1.2"/>
<line x1="52.50" y1="108.15" x2="55.20" y2="108.15" stroke="#1a1a1a" stroke-width="1.2"/>
<line x1="212.70" y1="108.15" x2="215.40" y2="108.15" stroke="#1a1a1a" stroke-width="1.2"/>
<line x1="52.50" y1="112.60" x2="55.20" y2="112.60" stroke="#1a1a1a" stroke-width="1.2"/>
<line x1="212.70" y1="112.60" x2="215.40" y2="112.60" stroke="#1a1a1a" stroke-width="1.2"/>
<line x1="52.50" y1="117.05" x2="55.20" y2="117.05" stroke="#1a1a1a" stroke-width="1.2"/>
<line x1="212.70" y1="117.05" x2="215.40" y2="117.05" stroke="#1a1a1a" stroke-width="1.2"/>
<line x1="52.50" y1="121.50" x2="55.20" y2="121.50" stroke="#1a1a1a" stroke-width="1.2"/>
<line x1="212.70" y1="121.50" x2="215.40" y2="121.50" stroke="#1a1a1a" stroke-width="1.2"/>
<line x1="52.50" y1="125.95" x2="55.20" y2="125.95" stroke="#1a1a1a" stroke-width="1.2"/>
<line x1="212.70" y1="125.95" x2="215.40" y2="125.95" stroke="#1a1a1a" stroke-width="1.2"/>
<line x1="67.70" y1="94.80" x2="67.70" y2="97.90" stroke="#1a1a1a" stroke-width="1.6"/>
<line x1="67.70" y1="127.30" x2="67.70" y2="130.40" stroke="#1a1a1a" stroke-width="1.6"/>
<line x1="82.42" y1="94.80" x2="82.42" y2="97.90" stroke="#1a1a1a" stroke-width="1.6"/>
<line x1="82.42" y1="127.30" x2="82.42" y2="130.40" stroke="#1a1a1a" stroke-width="1.6"/>
<line x1="97.14" y1="94.80" x2="97.14" y2="97.90" stroke="#1a1a1a" stroke-width="1.6"/>
<line x1="97.14" y1="127.30" x2="97.14" y2="130.40" stroke="#1a1a1a" stroke-width="1.6"/>
<line x1="111.86" y1="94.80" x2="111.86" y2="97.90" stroke="#1a1a1a" stroke-width="1.6"/>
<line x1="111.86" y1="127.30" x2="111.86" y2="130.40" stroke="#1a1a1a" stroke-width="1.6"/>
<line x1="126.58" y1="94.80" x2="126.58" y2="97.90" stroke="#1a1a1a" stroke-width="1.6"/>
<line x1="126.58" y1="127.30" x2="126.58" y2="130.40" stroke="#1a1a1a" stroke-width="1.6"/>
<line x1="141.30" y1="94.80" x2="141.30" y2="97.90" stroke="#1a1a1a" stroke-width="1.6"/>
<line x1="141.30" y1="127.30" x2="141.30" y2="130.40" stroke="#1a1a1a" stroke-width="1.6"/>
<line x1="156.02" y1="94.80" x2="156.02" y2="97.90" stroke="#1a1a1a" stroke-width="1.6"/>
<line x1="156.02" y1="127.30" x2="156.02" y2="130.40" stroke="#1a1a1a" stroke-width="1.6"/>
<line x1="170.74" y1="94.80" x2="170.74" y2="97.90" stroke="#1a1a1a" stroke-width="1.6"/>
<line x1="170.74" y1="127.30" x2="170.74" y2="130.40" stroke="#1a1a1a" stroke-width="1.6"/>
<line x1="185.46" y1="94.80" x2="185.46" y2="97.90" stroke="#1a1a1a" stroke-width="1.6"/>
<line x1="185.46" y1="127.30" x2="185.46" y2="130.40" stroke="#1a1a1a" stroke-width="1.6"/>
<line x1="200.18" y1="94.80" x2="200.18" y2="97.90" stroke="#1a1a1a" stroke-width="1.6"/>
<line x1="200.18" y1="127.30" x2="200.18" y2="130.40" stroke="#1a1a1a" stroke-width="1.6"/>
<line x1="53.10" y1="117.90" x2="214.80" y2="117.90" stroke="#4a4ace" stroke-width="1.35"/>
<line x1="53.10" y1="124.90" x2="214.80" y2="124.90" stroke="#4a4ace" stroke-width="1.35"/>
<line x1="54.00" y1="121.70" x2="214.80" y2="121.70" stroke="#2525b8" stroke-width="1.6" stroke-dasharray="2.7,3.1"/>
<line x1="67.70" y1="95.40" x2="67.70" y2="129.80" stroke="#e9b9c6" stroke-width="1.0"/>
<line x1="67.70" y1="95.40" x2="67.70" y2="129.80" stroke="#b01c40" stroke-width="1.1" stroke-dasharray="1.3,1.5"/>
<polyline points="67.70,121.80 82.42,121.00 97.14,120.70 111.86,120.00 126.58,119.70 141.30,118.80 156.02,118.40 170.74,117.90 185.46,117.30 200.18,116.90" fill="none" stroke="#40a040" stroke-width="1.4" stroke-dasharray="3,3"/>
<circle cx="67.70" cy="121.80" r="3.25" fill="none" stroke="#1e8c1e" stroke-width="1.05"/>
<line x1="67.70" y1="118.80" x2="67.70" y2="124.80" stroke="#1e8c1e" stroke-width="1.1"/>
<line x1="65.70" y1="118.80" x2="69.70" y2="118.80" stroke="#1e8c1e" stroke-width="1.3"/>
<line x1="65.70" y1="124.80" x2="69.70" y2="124.80" stroke="#1e8c1e" stroke-width="1.3"/>
<circle cx="82.42" cy="121.00" r="3.25" fill="none" stroke="#1e8c1e" stroke-width="1.05"/>
<line x1="82.42" y1="118.00" x2="82.42" y2="124.00" stroke="#1e8c1e" stroke-width="1.1"/>
<line x1="80.42" y1="118.00" x2="84.42" y2="118.00" stroke="#1e8c1e" stroke-width="1.3"/>
<line x1="80.42" y1="124.00" x2="84.42" y2="124.00" stroke="#1e8c1e" stroke-width="1.3"/>
<circle cx="97.14" cy="120.70" r="3.25" fill="none" stroke="#1e8c1e" stroke-width="1.05"/>
<line x1="97.14" y1="117.70" x2="97.14" y2="123.70" stroke="#1e8c1e" stroke-width="1.1"/>
<line x1="95.14" y1="117.70" x2="99.14" y2="117.70" stroke="#1e8c1e" stroke-width="1.3"/>
<line x1="95.14" y1="123.70" x2="99.14" y2="123.70" stroke="#1e8c1e" stroke-width="1.3"/>
<circle cx="111.86" cy="120.00" r="3.25" fill="none" stroke="#1e8c1e" stroke-width="1.05"/>
<line x1="111.86" y1="117.00" x2="111.86" y2="123.00" stroke="#1e8c1e" stroke-width="1.1"/>
<line x1="109.86" y1="117.00" x2="113.86" y2="117.00" stroke="#1e8c1e" stroke-width="1.3"/>
<line x1="109.86" y1="123.00" x2="113.86" y2="123.00" stroke="#1e8c1e" stroke-width="1.3"/>
<circle cx="126.58" cy="119.70" r="3.25" fill="none" stroke="#1e8c1e" stroke-width="1.05"/>
<line x1="126.58" y1="116.70" x2="126.58" y2="122.70" stroke="#1e8c1e" stroke-width="1.1"/>
<line x1="124.58" y1="116.70" x2="128.58" y2="116.70" stroke="#1e8c1e" stroke-width="1.3"/>
<line x1="124.58" y1="122.70" x2="128.58" y2="122.70" stroke="#1e8c1e" stroke-width="1.3"/>
<circle cx="141.30" cy="118.80" r="3.25" fill="none" stroke="#1e8c1e" stroke-width="1.05"/>
<line x1="141.30" y1="115.60" x2="141.30" y2="122.00" stroke="#1e8c1e" stroke-width="1.1"/>
<line x1="139.30" y1="115.60" x2="143.30" y2="115.60" stroke="#1e8c1e" stroke-width="1.3"/>
<line x1="139.30" y1="122.00" x2="143.30" y2="122.00" stroke="#1e8c1e" stroke-width="1.3"/>
<circle cx="156.02" cy="118.40" r="3.25" fill="none" stroke="#1e8c1e" stroke-width="1.05"/>
<line x1="156.02" y1="115.20" x2="156.02" y2="121.60" stroke="#1e8c1e" stroke-width="1.1"/>
<line x1="154.02" y1="115.20" x2="158.02" y2="115.20" stroke="#1e8c1e" stroke-width="1.3"/>
<line x1="154.02" y1="121.60" x2="158.02" y2="121.60" stroke="#1e8c1e" stroke-width="1.3"/>
<circle cx="170.74" cy="117.90" r="3.25" fill="none" stroke="#1e8c1e" stroke-width="1.05"/>
<line x1="170.74" y1="114.40" x2="170.74" y2="121.40" stroke="#1e8c1e" stroke-width="1.1"/>
<line x1="168.74" y1="114.40" x2="172.74" y2="114.40" stroke="#1e8c1e" stroke-width="1.3"/>
<line x1="168.74" y1="121.40" x2="172.74" y2="121.40" stroke="#1e8c1e" stroke-width="1.3"/>
<circle cx="185.46" cy="117.30" r="3.25" fill="none" stroke="#1e8c1e" stroke-width="1.05"/>
<line x1="185.46" y1="113.50" x2="185.46" y2="121.10" stroke="#1e8c1e" stroke-width="1.1"/>
<line x1="183.46" y1="113.50" x2="187.46" y2="113.50" stroke="#1e8c1e" stroke-width="1.3"/>
<line x1="183.46" y1="121.10" x2="187.46" y2="121.10" stroke="#1e8c1e" stroke-width="1.3"/>
<circle cx="200.18" cy="116.90" r="3.25" fill="none" stroke="#1e8c1e" stroke-width="1.05"/>
<line x1="200.18" y1="112.60" x2="200.18" y2="121.20" stroke="#1e8c1e" stroke-width="1.1"/>
<line x1="198.18" y1="112.60" x2="202.18" y2="112.60" stroke="#1e8c1e" stroke-width="1.3"/>
<line x1="198.18" y1="121.20" x2="202.18" y2="121.20" stroke="#1e8c1e" stroke-width="1.3"/>
<rect x="52.50" y="94.80" width="162.90" height="35.60" fill="none" stroke="#1a1a1a" stroke-width="1.4"/>
<line x1="227.90" y1="99.25" x2="367.00" y2="99.25" stroke="#f5f5f5" stroke-width="1"/>
<line x1="227.90" y1="99.25" x2="367.00" y2="99.25" stroke="#e8e8e8" stroke-width="1" stroke-dasharray="1,2.5"/>
<line x1="227.90" y1="103.70" x2="367.00" y2="103.70" stroke="#f5f5f5" stroke-width="1"/>
<line x1="227.90" y1="103.70" x2="367.00" y2="103.70" stroke="#e8e8e8" stroke-width="1" stroke-dasharray="1,2.5"/>
<line x1="227.90" y1="108.15" x2="367.00" y2="108.15" stroke="#f5f5f5" stroke-width="1"/>
<line x1="227.90" y1="108.15" x2="367.00" y2="108.15" stroke="#e8e8e8" stroke-width="1" stroke-dasharray="1,2.5"/>
<line x1="227.90" y1="112.60" x2="367.00" y2="112.60" stroke="#f5f5f5" stroke-width="1"/>
<line x1="227.90" y1="112.60" x2="367.00" y2="112.60" stroke="#e8e8e8" stroke-width="1" stroke-dasharray="1,2.5"/>
<line x1="227.90" y1="117.05" x2="367.00" y2="117.05" stroke="#f5f5f5" stroke-width="1"/>
<line x1="227.90" y1="117.05" x2="367.00" y2="117.05" stroke="#e8e8e8" stroke-width="1" stroke-dasharray="1,2.5"/>
<line x1="227.90" y1="121.50" x2="367.00" y2="121.50" stroke="#f5f5f5" stroke-width="1"/>
<line x1="227.90" y1="121.50" x2="367.00" y2="121.50" stroke="#e8e8e8" stroke-width="1" stroke-dasharray="1,2.5"/>
<line x1="227.90" y1="125.95" x2="367.00" y2="125.95" stroke="#f5f5f5" stroke-width="1"/>
<line x1="227.90" y1="125.95" x2="367.00" y2="125.95" stroke="#e8e8e8" stroke-width="1" stroke-dasharray="1,2.5"/>
<line x1="255.30" y1="95.30" x2="255.30" y2="129.90" stroke="#f5f5f5" stroke-width="1"/>
<line x1="255.30" y1="95.30" x2="255.30" y2="129.90" stroke="#e8e8e8" stroke-width="1" stroke-dasharray="1,2.5"/>
<line x1="283.40" y1="95.30" x2="283.40" y2="129.90" stroke="#f5f5f5" stroke-width="1"/>
<line x1="283.40" y1="95.30" x2="283.40" y2="129.90" stroke="#e8e8e8" stroke-width="1" stroke-dasharray="1,2.5"/>
<line x1="311.40" y1="95.30" x2="311.40" y2="129.90" stroke="#f5f5f5" stroke-width="1"/>
<line x1="311.40" y1="95.30" x2="311.40" y2="129.90" stroke="#e8e8e8" stroke-width="1" stroke-dasharray="1,2.5"/>
<line x1="339.50" y1="95.30" x2="339.50" y2="129.90" stroke="#f5f5f5" stroke-width="1"/>
<line x1="339.50" y1="95.30" x2="339.50" y2="129.90" stroke="#e8e8e8" stroke-width="1" stroke-dasharray="1,2.5"/>
<line x1="227.40" y1="99.25" x2="230.10" y2="99.25" stroke="#1a1a1a" stroke-width="1.2"/>
<line x1="364.80" y1="99.25" x2="367.50" y2="99.25" stroke="#1a1a1a" stroke-width="1.2"/>
<line x1="227.40" y1="103.70" x2="230.10" y2="103.70" stroke="#1a1a1a" stroke-width="1.2"/>
<line x1="364.80" y1="103.70" x2="367.50" y2="103.70" stroke="#1a1a1a" stroke-width="1.2"/>
<line x1="227.40" y1="108.15" x2="230.10" y2="108.15" stroke="#1a1a1a" stroke-width="1.2"/>
<line x1="364.80" y1="108.15" x2="367.50" y2="108.15" stroke="#1a1a1a" stroke-width="1.2"/>
<line x1="227.40" y1="112.60" x2="230.10" y2="112.60" stroke="#1a1a1a" stroke-width="1.2"/>
<line x1="364.80" y1="112.60" x2="367.50" y2="112.60" stroke="#1a1a1a" stroke-width="1.2"/>
<line x1="227.40" y1="117.05" x2="230.10" y2="117.05" stroke="#1a1a1a" stroke-width="1.2"/>
<line x1="364.80" y1="117.05" x2="367.50" y2="117.05" stroke="#1a1a1a" stroke-width="1.2"/>
<line x1="227.40" y1="121.50" x2="230.10" y2="121.50" stroke="#1a1a1a" stroke-width="1.2"/>
<line x1="364.80" y1="121.50" x2="367.50" y2="121.50" stroke="#1a1a1a" stroke-width="1.2"/>
<line x1="227.40" y1="125.95" x2="230.10" y2="125.95" stroke="#1a1a1a" stroke-width="1.2"/>
<line x1="364.80" y1="125.95" x2="367.50" y2="125.95" stroke="#1a1a1a" stroke-width="1.2"/>
<line x1="255.30" y1="94.80" x2="255.30" y2="97.90" stroke="#1a1a1a" stroke-width="1.6"/>
<line x1="255.30" y1="127.30" x2="255.30" y2="130.40" stroke="#1a1a1a" stroke-width="1.6"/>
<line x1="283.40" y1="94.80" x2="283.40" y2="97.90" stroke="#1a1a1a" stroke-width="1.6"/>
<line x1="283.40" y1="127.30" x2="283.40" y2="130.40" stroke="#1a1a1a" stroke-width="1.6"/>
<line x1="311.40" y1="94.80" x2="311.40" y2="97.90" stroke="#1a1a1a" stroke-width="1.6"/>
<line x1="311.40" y1="127.30" x2="311.40" y2="130.40" stroke="#1a1a1a" stroke-width="1.6"/>
<line x1="339.50" y1="94.80" x2="339.50" y2="97.90" stroke="#1a1a1a" stroke-width="1.6"/>
<line x1="339.50" y1="127.30" x2="339.50" y2="130.40" stroke="#1a1a1a" stroke-width="1.6"/>
<line x1="228.00" y1="117.90" x2="366.90" y2="117.90" stroke="#4a4ace" stroke-width="1.35"/>
<line x1="228.00" y1="124.90" x2="366.90" y2="124.90" stroke="#4a4ace" stroke-width="1.35"/>
<line x1="228.90" y1="121.70" x2="366.90" y2="121.70" stroke="#2525b8" stroke-width="1.6" stroke-dasharray="2.7,3.1"/>
<line x1="339.50" y1="95.40" x2="339.50" y2="129.80" stroke="#e9b9c6" stroke-width="1.0"/>
<line x1="339.50" y1="95.40" x2="339.50" y2="129.80" stroke="#b01c40" stroke-width="1.1" stroke-dasharray="1.3,1.5"/>
<polyline points="255.30,110.40 283.40,113.60 311.40,117.40 339.50,121.70" fill="none" stroke="#40a040" stroke-width="1.4" stroke-dasharray="3,3"/>
<circle cx="255.30" cy="110.40" r="3.25" fill="none" stroke="#1e8c1e" stroke-width="1.05"/>
<line x1="255.30" y1="107.20" x2="255.30" y2="113.60" stroke="#1e8c1e" stroke-width="1.1"/>
<line x1="251.80" y1="107.20" x2="258.80" y2="107.20" stroke="#1e8c1e" stroke-width="1.3"/>
<line x1="251.80" y1="113.60" x2="258.80" y2="113.60" stroke="#1e8c1e" stroke-width="1.3"/>
<circle cx="283.40" cy="113.60" r="3.25" fill="none" stroke="#1e8c1e" stroke-width="1.05"/>
<line x1="283.40" y1="110.60" x2="283.40" y2="116.60" stroke="#1e8c1e" stroke-width="1.1"/>
<line x1="279.90" y1="110.60" x2="286.90" y2="110.60" stroke="#1e8c1e" stroke-width="1.3"/>
<line x1="279.90" y1="116.60" x2="286.90" y2="116.60" stroke="#1e8c1e" stroke-width="1.3"/>
<circle cx="311.40" cy="117.40" r="3.25" fill="none" stroke="#1e8c1e" stroke-width="1.05"/>
<line x1="311.40" y1="114.40" x2="311.40" y2="120.40" stroke="#1e8c1e" stroke-width="1.1"/>
<line x1="307.90" y1="114.40" x2="314.90" y2="114.40" stroke="#1e8c1e" stroke-width="1.3"/>
<line x1="307.90" y1="120.40" x2="314.90" y2="120.40" stroke="#1e8c1e" stroke-width="1.3"/>
<circle cx="339.50" cy="121.70" r="3.25" fill="none" stroke="#1e8c1e" stroke-width="1.05"/>
<line x1="339.50" y1="118.50" x2="339.50" y2="124.90" stroke="#1e8c1e" stroke-width="1.1"/>
<line x1="336.00" y1="118.50" x2="343.00" y2="118.50" stroke="#1e8c1e" stroke-width="1.3"/>
<line x1="336.00" y1="124.90" x2="343.00" y2="124.90" stroke="#1e8c1e" stroke-width="1.3"/>
<rect x="227.40" y="94.80" width="140.10" height="35.60" fill="none" stroke="#1a1a1a" stroke-width="1.4"/>
<text x="45.60" y="99.95" text-anchor="end" font-size="13.3" clip-path="url(#c16)">1.500</text>
<text x="45.60" y="125.65" text-anchor="end" font-size="13.3" clip-path="url(#c17)">-1.468</text>
<text x="45.60" y="135.15" text-anchor="end" font-size="13.3">-2.500</text>
<line x1="410.10" y1="99.25" x2="563.80" y2="99.25" stroke="#f5f5f5" stroke-width="1"/>
<line x1="410.10" y1="99.25" x2="563.80" y2="99.25" stroke="#e8e8e8" stroke-width="1" stroke-dasharray="1,2.5"/>
<line x1="410.10" y1="103.70" x2="563.80" y2="103.70" stroke="#f5f5f5" stroke-width="1"/>
<line x1="410.10" y1="103.70" x2="563.80" y2="103.70" stroke="#e8e8e8" stroke-width="1" stroke-dasharray="1,2.5"/>
<line x1="410.10" y1="108.15" x2="563.80" y2="108.15" stroke="#f5f5f5" stroke-width="1"/>
<line x1="410.10" y1="108.15" x2="563.80" y2="108.15" stroke="#e8e8e8" stroke-width="1" stroke-dasharray="1,2.5"/>
<line x1="410.10" y1="112.60" x2="563.80" y2="112.60" stroke="#f5f5f5" stroke-width="1"/>
<line x1="410.10" y1="112.60" x2="563.80" y2="112.60" stroke="#e8e8e8" stroke-width="1" stroke-dasharray="1,2.5"/>
<line x1="410.10" y1="117.05" x2="563.80" y2="117.05" stroke="#f5f5f5" stroke-width="1"/>
<line x1="410.10" y1="117.05" x2="563.80" y2="117.05" stroke="#e8e8e8" stroke-width="1" stroke-dasharray="1,2.5"/>
<line x1="410.10" y1="121.50" x2="563.80" y2="121.50" stroke="#f5f5f5" stroke-width="1"/>
<line x1="410.10" y1="121.50" x2="563.80" y2="121.50" stroke="#e8e8e8" stroke-width="1" stroke-dasharray="1,2.5"/>
<line x1="410.10" y1="125.95" x2="563.80" y2="125.95" stroke="#f5f5f5" stroke-width="1"/>
<line x1="410.10" y1="125.95" x2="563.80" y2="125.95" stroke="#e8e8e8" stroke-width="1" stroke-dasharray="1,2.5"/>
<line x1="438.00" y1="95.30" x2="438.00" y2="129.90" stroke="#f5f5f5" stroke-width="1"/>
<line x1="438.00" y1="95.30" x2="438.00" y2="129.90" stroke="#e8e8e8" stroke-width="1" stroke-dasharray="1,2.5"/>
<line x1="466.20" y1="95.30" x2="466.20" y2="129.90" stroke="#f5f5f5" stroke-width="1"/>
<line x1="466.20" y1="95.30" x2="466.20" y2="129.90" stroke="#e8e8e8" stroke-width="1" stroke-dasharray="1,2.5"/>
<line x1="494.40" y1="95.30" x2="494.40" y2="129.90" stroke="#f5f5f5" stroke-width="1"/>
<line x1="494.40" y1="95.30" x2="494.40" y2="129.90" stroke="#e8e8e8" stroke-width="1" stroke-dasharray="1,2.5"/>
<line x1="522.60" y1="95.30" x2="522.60" y2="129.90" stroke="#f5f5f5" stroke-width="1"/>
<line x1="522.60" y1="95.30" x2="522.60" y2="129.90" stroke="#e8e8e8" stroke-width="1" stroke-dasharray="1,2.5"/>
<line x1="550.60" y1="95.30" x2="550.60" y2="129.90" stroke="#f5f5f5" stroke-width="1"/>
<line x1="550.60" y1="95.30" x2="550.60" y2="129.90" stroke="#e8e8e8" stroke-width="1" stroke-dasharray="1,2.5"/>
<line x1="409.60" y1="99.25" x2="412.30" y2="99.25" stroke="#1a1a1a" stroke-width="1.2"/>
<line x1="561.60" y1="99.25" x2="564.30" y2="99.25" stroke="#1a1a1a" stroke-width="1.2"/>
<line x1="409.60" y1="103.70" x2="412.30" y2="103.70" stroke="#1a1a1a" stroke-width="1.2"/>
<line x1="561.60" y1="103.70" x2="564.30" y2="103.70" stroke="#1a1a1a" stroke-width="1.2"/>
<line x1="409.60" y1="108.15" x2="412.30" y2="108.15" stroke="#1a1a1a" stroke-width="1.2"/>
<line x1="561.60" y1="108.15" x2="564.30" y2="108.15" stroke="#1a1a1a" stroke-width="1.2"/>
<line x1="409.60" y1="112.60" x2="412.30" y2="112.60" stroke="#1a1a1a" stroke-width="1.2"/>
<line x1="561.60" y1="112.60" x2="564.30" y2="112.60" stroke="#1a1a1a" stroke-width="1.2"/>
<line x1="409.60" y1="117.05" x2="412.30" y2="117.05" stroke="#1a1a1a" stroke-width="1.2"/>
<line x1="561.60" y1="117.05" x2="564.30" y2="117.05" stroke="#1a1a1a" stroke-width="1.2"/>
<line x1="409.60" y1="121.50" x2="412.30" y2="121.50" stroke="#1a1a1a" stroke-width="1.2"/>
<line x1="561.60" y1="121.50" x2="564.30" y2="121.50" stroke="#1a1a1a" stroke-width="1.2"/>
<line x1="409.60" y1="125.95" x2="412.30" y2="125.95" stroke="#1a1a1a" stroke-width="1.2"/>
<line x1="561.60" y1="125.95" x2="564.30" y2="125.95" stroke="#1a1a1a" stroke-width="1.2"/>
<line x1="438.00" y1="94.80" x2="438.00" y2="97.90" stroke="#1a1a1a" stroke-width="1.6"/>
<line x1="438.00" y1="127.30" x2="438.00" y2="130.40" stroke="#1a1a1a" stroke-width="1.6"/>
<line x1="466.20" y1="94.80" x2="466.20" y2="97.90" stroke="#1a1a1a" stroke-width="1.6"/>
<line x1="466.20" y1="127.30" x2="466.20" y2="130.40" stroke="#1a1a1a" stroke-width="1.6"/>
<line x1="494.40" y1="94.80" x2="494.40" y2="97.90" stroke="#1a1a1a" stroke-width="1.6"/>
<line x1="494.40" y1="127.30" x2="494.40" y2="130.40" stroke="#1a1a1a" stroke-width="1.6"/>
<line x1="522.60" y1="94.80" x2="522.60" y2="97.90" stroke="#1a1a1a" stroke-width="1.6"/>
<line x1="522.60" y1="127.30" x2="522.60" y2="130.40" stroke="#1a1a1a" stroke-width="1.6"/>
<line x1="550.60" y1="94.80" x2="550.60" y2="97.90" stroke="#1a1a1a" stroke-width="1.6"/>
<line x1="550.60" y1="127.30" x2="550.60" y2="130.40" stroke="#1a1a1a" stroke-width="1.6"/>
<line x1="416.40" y1="95.80" x2="416.40" y2="103.40" stroke="#40a040" stroke-width="1.35" stroke-dasharray="3.4,2.8"/>
<line x1="416.40" y1="103.40" x2="556.70" y2="124.60" stroke="#40a040" stroke-width="1.35" stroke-dasharray="3.4,2.8"/>
<line x1="556.70" y1="124.60" x2="556.70" y2="129.90" stroke="#40a040" stroke-width="1.35" stroke-dasharray="3.4,2.8"/>
<rect x="409.60" y="94.80" width="154.70" height="35.60" fill="none" stroke="#1a1a1a" stroke-width="1.4"/>
<text x="416.80" y="100.10" text-anchor="middle" font-size="13.3">0</text>
<text x="486.50" y="110.00" text-anchor="middle" font-size="13.3">0.5</text>
<text x="556.70" y="121.40" text-anchor="middle" font-size="13.3" clip-path="url(#c21)">1</text>
<text x="571.30" y="107.75" text-anchor="start" font-size="13.3" clip-path="url(#c22)">0.5441</text>
<text x="571.30" y="119.05" text-anchor="start" font-size="13.3">-0.6279</text>
<text x="571.30" y="129.05" text-anchor="start" font-size="13.3" clip-path="url(#c24)">-1.800</text>
<text transform="translate(632.00,113.50) rotate(-90)" text-anchor="middle" font-size="13.3">Pc'</text>
<text transform="translate(647.90,109.00) rotate(-90)" text-anchor="middle" font-size="13.3">=log</text>
<text transform="translate(663.30,108.40) rotate(-90)" text-anchor="middle" font-size="13.3">(8.5-</text>
<text transform="translate(678.90,114.00) rotate(-90)" text-anchor="middle" font-size="13.3">Pc)</text>
<line x1="53.00" y1="157.02" x2="214.90" y2="157.02" stroke="#f5f5f5" stroke-width="1"/>
<line x1="53.00" y1="157.02" x2="214.90" y2="157.02" stroke="#e8e8e8" stroke-width="1" stroke-dasharray="1,2.5"/>
<line x1="53.00" y1="159.73" x2="214.90" y2="159.73" stroke="#f5f5f5" stroke-width="1"/>
<line x1="53.00" y1="159.73" x2="214.90" y2="159.73" stroke="#e8e8e8" stroke-width="1" stroke-dasharray="1,2.5"/>
<line x1="53.00" y1="162.45" x2="214.90" y2="162.45" stroke="#f5f5f5" stroke-width="1"/>
<line x1="53.00" y1="162.45" x2="214.90" y2="162.45" stroke="#e8e8e8" stroke-width="1" stroke-dasharray="1,2.5"/>
<line x1="53.00" y1="165.16" x2="214.90" y2="165.16" stroke="#f5f5f5" stroke-width="1"/>
<line x1="53.00" y1="165.16" x2="214.90" y2="165.16" stroke="#e8e8e8" stroke-width="1" stroke-dasharray="1,2.5"/>
<line x1="53.00" y1="167.88" x2="214.90" y2="167.88" stroke="#f5f5f5" stroke-width="1"/>
<line x1="53.00" y1="167.88" x2="214.90" y2="167.88" stroke="#e8e8e8" stroke-width="1" stroke-dasharray="1,2.5"/>
<line x1="53.00" y1="170.59" x2="214.90" y2="170.59" stroke="#f5f5f5" stroke-width="1"/>
<line x1="53.00" y1="170.59" x2="214.90" y2="170.59" stroke="#e8e8e8" stroke-width="1" stroke-dasharray="1,2.5"/>
<line x1="53.00" y1="173.31" x2="214.90" y2="173.31" stroke="#f5f5f5" stroke-width="1"/>
<line x1="53.00" y1="173.31" x2="214.90" y2="173.31" stroke="#e8e8e8" stroke-width="1" stroke-dasharray="1,2.5"/>
<line x1="53.00" y1="176.02" x2="214.90" y2="176.02" stroke="#f5f5f5" stroke-width="1"/>
<line x1="53.00" y1="176.02" x2="214.90" y2="176.02" stroke="#e8e8e8" stroke-width="1" stroke-dasharray="1,2.5"/>
<line x1="53.00" y1="178.74" x2="214.90" y2="178.74" stroke="#f5f5f5" stroke-width="1"/>
<line x1="53.00" y1="178.74" x2="214.90" y2="178.74" stroke="#e8e8e8" stroke-width="1" stroke-dasharray="1,2.5"/>
<line x1="53.00" y1="181.45" x2="214.90" y2="181.45" stroke="#f5f5f5" stroke-width="1"/>
<line x1="53.00" y1="181.45" x2="214.90" y2="181.45" stroke="#e8e8e8" stroke-width="1" stroke-dasharray="1,2.5"/>
<line x1="53.00" y1="184.17" x2="214.90" y2="184.17" stroke="#f5f5f5" stroke-width="1"/>
<line x1="53.00" y1="184.17" x2="214.90" y2="184.17" stroke="#e8e8e8" stroke-width="1" stroke-dasharray="1,2.5"/>
<line x1="53.00" y1="186.88" x2="214.90" y2="186.88" stroke="#f5f5f5" stroke-width="1"/>
<line x1="53.00" y1="186.88" x2="214.90" y2="186.88" stroke="#e8e8e8" stroke-width="1" stroke-dasharray="1,2.5"/>
<line x1="67.70" y1="154.80" x2="67.70" y2="189.10" stroke="#f5f5f5" stroke-width="1"/>
<line x1="67.70" y1="154.80" x2="67.70" y2="189.10" stroke="#e8e8e8" stroke-width="1" stroke-dasharray="1,2.5"/>
<line x1="82.42" y1="154.80" x2="82.42" y2="189.10" stroke="#f5f5f5" stroke-width="1"/>
<line x1="82.42" y1="154.80" x2="82.42" y2="189.10" stroke="#e8e8e8" stroke-width="1" stroke-dasharray="1,2.5"/>
<line x1="97.14" y1="154.80" x2="97.14" y2="189.10" stroke="#f5f5f5" stroke-width="1"/>
<line x1="97.14" y1="154.80" x2="97.14" y2="189.10" stroke="#e8e8e8" stroke-width="1" stroke-dasharray="1,2.5"/>
<line x1="111.86" y1="154.80" x2="111.86" y2="189.10" stroke="#f5f5f5" stroke-width="1"/>
<line x1="111.86" y1="154.80" x2="111.86" y2="189.10" stroke="#e8e8e8" stroke-width="1" stroke-dasharray="1,2.5"/>
<line x1="126.58" y1="154.80" x2="126.58" y2="189.10" stroke="#f5f5f5" stroke-width="1"/>
<line x1="126.58" y1="154.80" x2="126.58" y2="189.10" stroke="#e8e8e8" stroke-width="1" stroke-dasharray="1,2.5"/>
<line x1="141.30" y1="154.80" x2="141.30" y2="189.10" stroke="#f5f5f5" stroke-width="1"/>
<line x1="141.30" y1="154.80" x2="141.30" y2="189.10" stroke="#e8e8e8" stroke-width="1" stroke-dasharray="1,2.5"/>
<line x1="156.02" y1="154.80" x2="156.02" y2="189.10" stroke="#f5f5f5" stroke-width="1"/>
<line x1="156.02" y1="154.80" x2="156.02" y2="189.10" stroke="#e8e8e8" stroke-width="1" stroke-dasharray="1,2.5"/>
<line x1="170.74" y1="154.80" x2="170.74" y2="189.10" stroke="#f5f5f5" stroke-width="1"/>
<line x1="170.74" y1="154.80" x2="170.74" y2="189.10" stroke="#e8e8e8" stroke-width="1" stroke-dasharray="1,2.5"/>
<line x1="185.46" y1="154.80" x2="185.46" y2="189.10" stroke="#f5f5f5" stroke-width="1"/>
<line x1="185.46" y1="154.80" x2="185.46" y2="189.10" stroke="#e8e8e8" stroke-width="1" stroke-dasharray="1,2.5"/>
<line x1="200.18" y1="154.80" x2="200.18" y2="189.10" stroke="#f5f5f5" stroke-width="1"/>
<line x1="200.18" y1="154.80" x2="200.18" y2="189.10" stroke="#e8e8e8" stroke-width="1" stroke-dasharray="1,2.5"/>
<line x1="52.50" y1="157.02" x2="55.20" y2="157.02" stroke="#1a1a1a" stroke-width="1.2"/>
<line x1="212.70" y1="157.02" x2="215.40" y2="157.02" stroke="#1a1a1a" stroke-width="1.2"/>
<line x1="52.50" y1="159.73" x2="55.20" y2="159.73" stroke="#1a1a1a" stroke-width="1.2"/>
<line x1="212.70" y1="159.73" x2="215.40" y2="159.73" stroke="#1a1a1a" stroke-width="1.2"/>
<line x1="52.50" y1="162.45" x2="55.20" y2="162.45" stroke="#1a1a1a" stroke-width="1.2"/>
<line x1="212.70" y1="162.45" x2="215.40" y2="162.45" stroke="#1a1a1a" stroke-width="1.2"/>
<line x1="52.50" y1="165.16" x2="55.20" y2="165.16" stroke="#1a1a1a" stroke-width="1.2"/>
<line x1="212.70" y1="165.16" x2="215.40" y2="165.16" stroke="#1a1a1a" stroke-width="1.2"/>
<line x1="52.50" y1="167.88" x2="55.20" y2="167.88" stroke="#1a1a1a" stroke-width="1.2"/>
<line x1="212.70" y1="167.88" x2="215.40" y2="167.88" stroke="#1a1a1a" stroke-width="1.2"/>
<line x1="52.50" y1="170.59" x2="55.20" y2="170.59" stroke="#1a1a1a" stroke-width="1.2"/>
<line x1="212.70" y1="170.59" x2="215.40" y2="170.59" stroke="#1a1a1a" stroke-width="1.2"/>
<line x1="52.50" y1="173.31" x2="55.20" y2="173.31" stroke="#1a1a1a" stroke-width="1.2"/>
<line x1="212.70" y1="173.31" x2="215.40" y2="173.31" stroke="#1a1a1a" stroke-width="1.2"/>
<line x1="52.50" y1="176.02" x2="55.20" y2="176.02" stroke="#1a1a1a" stroke-width="1.2"/>
<line x1="212.70" y1="176.02" x2="215.40" y2="176.02" stroke="#1a1a1a" stroke-width="1.2"/>
<line x1="52.50" y1="178.74" x2="55.20" y2="178.74" stroke="#1a1a1a" stroke-width="1.2"/>
<line x1="212.70" y1="178.74" x2="215.40" y2="178.74" stroke="#1a1a1a" stroke-width="1.2"/>
<line x1="52.50" y1="181.45" x2="55.20" y2="181.45" stroke="#1a1a1a" stroke-width="1.2"/>
<line x1="212.70" y1="181.45" x2="215.40" y2="181.45" stroke="#1a1a1a" stroke-width="1.2"/>
<line x1="52.50" y1="184.17" x2="55.20" y2="184.17" stroke="#1a1a1a" stroke-width="1.2"/>
<line x1="212.70" y1="184.17" x2="215.40" y2="184.17" stroke="#1a1a1a" stroke-width="1.2"/>
<line x1="52.50" y1="186.88" x2="55.20" y2="186.88" stroke="#1a1a1a" stroke-width="1.2"/>
<line x1="212.70" y1="186.88" x2="215.40" y2="186.88" stroke="#1a1a1a" stroke-width="1.2"/>
<line x1="67.70" y1="154.30" x2="67.70" y2="157.40" stroke="#1a1a1a" stroke-width="1.6"/>
<line x1="67.70" y1="186.50" x2="67.70" y2="189.60" stroke="#1a1a1a" stroke-width="1.6"/>
<line x1="82.42" y1="154.30" x2="82.42" y2="157.40" stroke="#1a1a1a" stroke-width="1.6"/>
<line x1="82.42" y1="186.50" x2="82.42" y2="189.60" stroke="#1a1a1a" stroke-width="1.6"/>
<line x1="97.14" y1="154.30" x2="97.14" y2="157.40" stroke="#1a1a1a" stroke-width="1.6"/>
<line x1="97.14" y1="186.50" x2="97.14" y2="189.60" stroke="#1a1a1a" stroke-width="1.6"/>
<line x1="111.86" y1="154.30" x2="111.86" y2="157.40" stroke="#1a1a1a" stroke-width="1.6"/>
<line x1="111.86" y1="186.50" x2="111.86" y2="189.60" stroke="#1a1a1a" stroke-width="1.6"/>
<line x1="126.58" y1="154.30" x2="126.58" y2="157.40" stroke="#1a1a1a" stroke-width="1.6"/>
<line x1="126.58" y1="186.50" x2="126.58" y2="189.60" stroke="#1a1a1a" stroke-width="1.6"/>
<line x1="141.30" y1="154.30" x2="141.30" y2="157.40" stroke="#1a1a1a" stroke-width="1.6"/>
<line x1="141.30" y1="186.50" x2="141.30" y2="189.60" stroke="#1a1a1a" stroke-width="1.6"/>
<line x1="156.02" y1="154.30" x2="156.02" y2="157.40" stroke="#1a1a1a" stroke-width="1.6"/>
<line x1="156.02" y1="186.50" x2="156.02" y2="189.60" stroke="#1a1a1a" stroke-width="1.6"/>
<line x1="170.74" y1="154.30" x2="170.74" y2="157.40" stroke="#1a1a1a" stroke-width="1.6"/>
<line x1="170.74" y1="186.50" x2="170.74" y2="189.60" stroke="#1a1a1a" stroke-width="1.6"/>
<line x1="185.46" y1="154.30" x2="185.46" y2="157.40" stroke="#1a1a1a" stroke-width="1.6"/>
<line x1="185.46" y1="186.50" x2="185.46" y2="189.60" stroke="#1a1a1a" stroke-width="1.6"/>
<line x1="200.18" y1="154.30" x2="200.18" y2="157.40" stroke="#1a1a1a" stroke-width="1.6"/>
<line x1="200.18" y1="186.50" x2="200.18" y2="189.60" stroke="#1a1a1a" stroke-width="1.6"/>
<line x1="53.10" y1="176.90" x2="214.80" y2="176.90" stroke="#4a4ace" stroke-width="1.35"/>
<line x1="53.10" y1="181.60" x2="214.80" y2="181.60" stroke="#4a4ace" stroke-width="1.35"/>
<line x1="54.00" y1="179.30" x2="214.80" y2="179.30" stroke="#2525b8" stroke-width="1.6" stroke-dasharray="2.7,3.1"/>
<line x1="67.70" y1="154.90" x2="67.70" y2="189.00" stroke="#e9b9c6" stroke-width="1.0"/>
<line x1="67.70" y1="154.90" x2="67.70" y2="189.00" stroke="#b01c40" stroke-width="1.1" stroke-dasharray="1.3,1.5"/>
<polyline points="67.70,179.80 82.42,178.50 97.14,176.90 111.86,175.60 126.58,174.30 141.30,173.10 156.02,172.00 170.74,170.80 185.46,169.50 200.18,168.20" fill="none" stroke="#40a040" stroke-width="1.4" stroke-dasharray="3,3"/>
<circle cx="67.70" cy="179.80" r="3.25" fill="none" stroke="#1e8c1e" stroke-width="1.05"/>
<line x1="67.70" y1="177.20" x2="67.70" y2="182.40" stroke="#1e8c1e" stroke-width="1.1"/>
<line x1="65.70" y1="177.20" x2="69.70" y2="177.20" stroke="#1e8c1e" stroke-width="1.3"/>
<line x1="65.70" y1="182.40" x2="69.70" y2="182.40" stroke="#1e8c1e" stroke-width="1.3"/>
<circle cx="82.42" cy="178.50" r="3.25" fill="none" stroke="#1e8c1e" stroke-width="1.05"/>
<line x1="82.42" y1="175.90" x2="82.42" y2="181.10" stroke="#1e8c1e" stroke-width="1.1"/>
<line x1="80.42" y1="175.90" x2="84.42" y2="175.90" stroke="#1e8c1e" stroke-width="1.3"/>
<line x1="80.42" y1="181.10" x2="84.42" y2="181.10" stroke="#1e8c1e" stroke-width="1.3"/>
<circle cx="97.14" cy="176.90" r="3.25" fill="none" stroke="#1e8c1e" stroke-width="1.05"/>
<line x1="97.14" y1="174.30" x2="97.14" y2="179.50" stroke="#1e8c1e" stroke-width="1.1"/>
<line x1="95.14" y1="174.30" x2="99.14" y2="174.30" stroke="#1e8c1e" stroke-width="1.3"/>
<line x1="95.14" y1="179.50" x2="99.14" y2="179.50" stroke="#1e8c1e" stroke-width="1.3"/>
<circle cx="111.86" cy="175.60" r="3.25" fill="none" stroke="#1e8c1e" stroke-width="1.05"/>
<line x1="111.86" y1="173.00" x2="111.86" y2="178.20" stroke="#1e8c1e" stroke-width="1.1"/>
<line x1="109.86" y1="173.00" x2="113.86" y2="173.00" stroke="#1e8c1e" stroke-width="1.3"/>
<line x1="109.86" y1="178.20" x2="113.86" y2="178.20" stroke="#1e8c1e" stroke-width="1.3"/>
<circle cx="126.58" cy="174.30" r="3.25" fill="none" stroke="#1e8c1e" stroke-width="1.05"/>
<line x1="126.58" y1="171.70" x2="126.58" y2="176.90" stroke="#1e8c1e" stroke-width="1.1"/>
<line x1="124.58" y1="171.70" x2="128.58" y2="171.70" stroke="#1e8c1e" stroke-width="1.3"/>
<line x1="124.58" y1="176.90" x2="128.58" y2="176.90" stroke="#1e8c1e" stroke-width="1.3"/>
<circle cx="141.30" cy="173.10" r="3.25" fill="none" stroke="#1e8c1e" stroke-width="1.05"/>
<line x1="141.30" y1="170.50" x2="141.30" y2="175.70" stroke="#1e8c1e" stroke-width="1.1"/>
<line x1="139.30" y1="170.50" x2="143.30" y2="170.50" stroke="#1e8c1e" stroke-width="1.3"/>
<line x1="139.30" y1="175.70" x2="143.30" y2="175.70" stroke="#1e8c1e" stroke-width="1.3"/>
<circle cx="156.02" cy="172.00" r="3.25" fill="none" stroke="#1e8c1e" stroke-width="1.05"/>
<line x1="156.02" y1="169.30" x2="156.02" y2="174.70" stroke="#1e8c1e" stroke-width="1.1"/>
<line x1="154.02" y1="169.30" x2="158.02" y2="169.30" stroke="#1e8c1e" stroke-width="1.3"/>
<line x1="154.02" y1="174.70" x2="158.02" y2="174.70" stroke="#1e8c1e" stroke-width="1.3"/>
<circle cx="170.74" cy="170.80" r="3.25" fill="none" stroke="#1e8c1e" stroke-width="1.05"/>
<line x1="170.74" y1="168.00" x2="170.74" y2="173.60" stroke="#1e8c1e" stroke-width="1.1"/>
<line x1="168.74" y1="168.00" x2="172.74" y2="168.00" stroke="#1e8c1e" stroke-width="1.3"/>
<line x1="168.74" y1="173.60" x2="172.74" y2="173.60" stroke="#1e8c1e" stroke-width="1.3"/>
<circle cx="185.46" cy="169.50" r="3.25" fill="none" stroke="#1e8c1e" stroke-width="1.05"/>
<line x1="185.46" y1="166.60" x2="185.46" y2="172.40" stroke="#1e8c1e" stroke-width="1.1"/>
<line x1="183.46" y1="166.60" x2="187.46" y2="166.60" stroke="#1e8c1e" stroke-width="1.3"/>
<line x1="183.46" y1="172.40" x2="187.46" y2="172.40" stroke="#1e8c1e" stroke-width="1.3"/>
<circle cx="200.18" cy="168.20" r="3.25" fill="none" stroke="#1e8c1e" stroke-width="1.05"/>
<line x1="200.18" y1="165.20" x2="200.18" y2="171.20" stroke="#1e8c1e" stroke-width="1.1"/>
<line x1="198.18" y1="165.20" x2="202.18" y2="165.20" stroke="#1e8c1e" stroke-width="1.3"/>
<line x1="198.18" y1="171.20" x2="202.18" y2="171.20" stroke="#1e8c1e" stroke-width="1.3"/>
<rect x="52.50" y="154.30" width="162.90" height="35.30" fill="none" stroke="#1a1a1a" stroke-width="1.4"/>
<line x1="227.90" y1="157.02" x2="367.00" y2="157.02" stroke="#f5f5f5" stroke-width="1"/>
<line x1="227.90" y1="157.02" x2="367.00" y2="157.02" stroke="#e8e8e8" stroke-width="1" stroke-dasharray="1,2.5"/>
<line x1="227.90" y1="159.73" x2="367.00" y2="159.73" stroke="#f5f5f5" stroke-width="1"/>
<line x1="227.90" y1="159.73" x2="367.00" y2="159.73" stroke="#e8e8e8" stroke-width="1" stroke-dasharray="1,2.5"/>
<line x1="227.90" y1="162.45" x2="367.00" y2="162.45" stroke="#f5f5f5" stroke-width="1"/>
<line x1="227.90" y1="162.45" x2="367.00" y2="162.45" stroke="#e8e8e8" stroke-width="1" stroke-dasharray="1,2.5"/>
<line x1="227.90" y1="165.16" x2="367.00" y2="165.16" stroke="#f5f5f5" stroke-width="1"/>
<line x1="227.90" y1="165.16" x2="367.00" y2="165.16" stroke="#e8e8e8" stroke-width="1" stroke-dasharray="1,2.5"/>
<line x1="227.90" y1="167.88" x2="367.00" y2="167.88" stroke="#f5f5f5" stroke-width="1"/>
<line x1="227.90" y1="167.88" x2="367.00" y2="167.88" stroke="#e8e8e8" stroke-width="1" stroke-dasharray="1,2.5"/>
<line x1="227.90" y1="170.59" x2="367.00" y2="170.59" stroke="#f5f5f5" stroke-width="1"/>
<line x1="227.90" y1="170.59" x2="367.00" y2="170.59" stroke="#e8e8e8" stroke-width="1" stroke-dasharray="1,2.5"/>
<line x1="227.90" y1="173.31" x2="367.00" y2="173.31" stroke="#f5f5f5" stroke-width="1"/>
<line x1="227.90" y1="173.31" x2="367.00" y2="173.31" stroke="#e8e8e8" stroke-width="1" stroke-dasharray="1,2.5"/>
<line x1="227.90" y1="176.02" x2="367.00" y2="176.02" stroke="#f5f5f5" stroke-width="1"/>
<line x1="227.90" y1="176.02" x2="367.00" y2="176.02" stroke="#e8e8e8" stroke-width="1" stroke-dasharray="1,2.5"/>
<line x1="227.90" y1="178.74" x2="367.00" y2="178.74" stroke="#f5f5f5" stroke-width="1"/>
<line x1="227.90" y1="178.74" x2="367.00" y2="178.74" stroke="#e8e8e8" stroke-width="1" stroke-dasharray="1,2.5"/>
<line x1="227.90" y1="181.45" x2="367.00" y2="181.45" stroke="#f5f5f5" stroke-width="1"/>
<line x1="227.90" y1="181.45" x2="367.00" y2="181.45" stroke="#e8e8e8" stroke-width="1" stroke-dasharray="1,2.5"/>
<line x1="227.90" y1="184.17" x2="367.00" y2="184.17" stroke="#f5f5f5" stroke-width="1"/>
<line x1="227.90" y1="184.17" x2="367.00" y2="184.17" stroke="#e8e8e8" stroke-width="1" stroke-dasharray="1,2.5"/>
<line x1="227.90" y1="186.88" x2="367.00" y2="186.88" stroke="#f5f5f5" stroke-width="1"/>
<line x1="227.90" y1="186.88" x2="367.00" y2="186.88" stroke="#e8e8e8" stroke-width="1" stroke-dasharray="1,2.5"/>
<line x1="255.30" y1="154.80" x2="255.30" y2="189.10" stroke="#f5f5f5" stroke-width="1"/>
<line x1="255.30" y1="154.80" x2="255.30" y2="189.10" stroke="#e8e8e8" stroke-width="1" stroke-dasharray="1,2.5"/>
<line x1="283.40" y1="154.80" x2="283.40" y2="189.10" stroke="#f5f5f5" stroke-width="1"/>
<line x1="283.40" y1="154.80" x2="283.40" y2="189.10" stroke="#e8e8e8" stroke-width="1" stroke-dasharray="1,2.5"/>
<line x1="311.40" y1="154.80" x2="311.40" y2="189.10" stroke="#f5f5f5" stroke-width="1"/>
<line x1="311.40" y1="154.80" x2="311.40" y2="189.10" stroke="#e8e8e8" stroke-width="1" stroke-dasharray="1,2.5"/>
<line x1="339.50" y1="154.80" x2="339.50" y2="189.10" stroke="#f5f5f5" stroke-width="1"/>
<line x1="339.50" y1="154.80" x2="339.50" y2="189.10" stroke="#e8e8e8" stroke-width="1" stroke-dasharray="1,2.5"/>
<line x1="227.40" y1="157.02" x2="230.10" y2="157.02" stroke="#1a1a1a" stroke-width="1.2"/>
<line x1="364.80" y1="157.02" x2="367.50" y2="157.02" stroke="#1a1a1a" stroke-width="1.2"/>
<line x1="227.40" y1="159.73" x2="230.10" y2="159.73" stroke="#1a1a1a" stroke-width="1.2"/>
<line x1="364.80" y1="159.73" x2="367.50" y2="159.73" stroke="#1a1a1a" stroke-width="1.2"/>
<line x1="227.40" y1="162.45" x2="230.10" y2="162.45" stroke="#1a1a1a" stroke-width="1.2"/>
<line x1="364.80" y1="162.45" x2="367.50" y2="162.45" stroke="#1a1a1a" stroke-width="1.2"/>
<line x1="227.40" y1="165.16" x2="230.10" y2="165.16" stroke="#1a1a1a" stroke-width="1.2"/>
<line x1="364.80" y1="165.16" x2="367.50" y2="165.16" stroke="#1a1a1a" stroke-width="1.2"/>
<line x1="227.40" y1="167.88" x2="230.10" y2="167.88" stroke="#1a1a1a" stroke-width="1.2"/>
<line x1="364.80" y1="167.88" x2="367.50" y2="167.88" stroke="#1a1a1a" stroke-width="1.2"/>
<line x1="227.40" y1="170.59" x2="230.10" y2="170.59" stroke="#1a1a1a" stroke-width="1.2"/>
<line x1="364.80" y1="170.59" x2="367.50" y2="170.59" stroke="#1a1a1a" stroke-width="1.2"/>
<line x1="227.40" y1="173.31" x2="230.10" y2="173.31" stroke="#1a1a1a" stroke-width="1.2"/>
<line x1="364.80" y1="173.31" x2="367.50" y2="173.31" stroke="#1a1a1a" stroke-width="1.2"/>
<line x1="227.40" y1="176.02" x2="230.10" y2="176.02" stroke="#1a1a1a" stroke-width="1.2"/>
<line x1="364.80" y1="176.02" x2="367.50" y2="176.02" stroke="#1a1a1a" stroke-width="1.2"/>
<line x1="227.40" y1="178.74" x2="230.10" y2="178.74" stroke="#1a1a1a" stroke-width="1.2"/>
<line x1="364.80" y1="178.74" x2="367.50" y2="178.74" stroke="#1a1a1a" stroke-width="1.2"/>
<line x1="227.40" y1="181.45" x2="230.10" y2="181.45" stroke="#1a1a1a" stroke-width="1.2"/>
<line x1="364.80" y1="181.45" x2="367.50" y2="181.45" stroke="#1a1a1a" stroke-width="1.2"/>
<line x1="227.40" y1="184.17" x2="230.10" y2="184.17" stroke="#1a1a1a" stroke-width="1.2"/>
<line x1="364.80" y1="184.17" x2="367.50" y2="184.17" stroke="#1a1a1a" stroke-width="1.2"/>
<line x1="227.40" y1="186.88" x2="230.10" y2="186.88" stroke="#1a1a1a" stroke-width="1.2"/>
<line x1="364.80" y1="186.88" x2="367.50" y2="186.88" stroke="#1a1a1a" stroke-width="1.2"/>
<line x1="255.30" y1="154.30" x2="255.30" y2="157.40" stroke="#1a1a1a" stroke-width="1.6"/>
<line x1="255.30" y1="186.50" x2="255.30" y2="189.60" stroke="#1a1a1a" stroke-width="1.6"/>
<line x1="283.40" y1="154.30" x2="283.40" y2="157.40" stroke="#1a1a1a" stroke-width="1.6"/>
<line x1="283.40" y1="186.50" x2="283.40" y2="189.60" stroke="#1a1a1a" stroke-width="1.6"/>
<line x1="311.40" y1="154.30" x2="311.40" y2="157.40" stroke="#1a1a1a" stroke-width="1.6"/>
<line x1="311.40" y1="186.50" x2="311.40" y2="189.60" stroke="#1a1a1a" stroke-width="1.6"/>
<line x1="339.50" y1="154.30" x2="339.50" y2="157.40" stroke="#1a1a1a" stroke-width="1.6"/>
<line x1="339.50" y1="186.50" x2="339.50" y2="189.60" stroke="#1a1a1a" stroke-width="1.6"/>
<line x1="228.00" y1="176.90" x2="366.90" y2="176.90" stroke="#4a4ace" stroke-width="1.35"/>
<line x1="228.00" y1="181.60" x2="366.90" y2="181.60" stroke="#4a4ace" stroke-width="1.35"/>
<line x1="228.90" y1="179.30" x2="366.90" y2="179.30" stroke="#2525b8" stroke-width="1.6" stroke-dasharray="2.7,3.1"/>
<line x1="339.50" y1="154.90" x2="339.50" y2="189.00" stroke="#e9b9c6" stroke-width="1.0"/>
<line x1="339.50" y1="154.90" x2="339.50" y2="189.00" stroke="#b01c40" stroke-width="1.1" stroke-dasharray="1.3,1.5"/>
<polyline points="255.30,171.20 283.40,173.40 311.40,176.30 339.50,179.10" fill="none" stroke="#40a040" stroke-width="1.4" stroke-dasharray="3,3"/>
<circle cx="255.30" cy="171.20" r="3.25" fill="none" stroke="#1e8c1e" stroke-width="1.05"/>
<line x1="255.30" y1="168.20" x2="255.30" y2="174.20" stroke="#1e8c1e" stroke-width="1.1"/>
<line x1="251.80" y1="168.20" x2="258.80" y2="168.20" stroke="#1e8c1e" stroke-width="1.3"/>
<line x1="251.80" y1="174.20" x2="258.80" y2="174.20" stroke="#1e8c1e" stroke-width="1.3"/>
<circle cx="283.40" cy="173.40" r="3.25" fill="none" stroke="#1e8c1e" stroke-width="1.05"/>
<line x1="283.40" y1="170.60" x2="283.40" y2="176.20" stroke="#1e8c1e" stroke-width="1.1"/>
<line x1="279.90" y1="170.60" x2="286.90" y2="170.60" stroke="#1e8c1e" stroke-width="1.3"/>
<line x1="279.90" y1="176.20" x2="286.90" y2="176.20" stroke="#1e8c1e" stroke-width="1.3"/>
<circle cx="311.40" cy="176.30" r="3.25" fill="none" stroke="#1e8c1e" stroke-width="1.05"/>
<line x1="311.40" y1="173.50" x2="311.40" y2="179.10" stroke="#1e8c1e" stroke-width="1.1"/>
<line x1="307.90" y1="173.50" x2="314.90" y2="173.50" stroke="#1e8c1e" stroke-width="1.3"/>
<line x1="307.90" y1="179.10" x2="314.90" y2="179.10" stroke="#1e8c1e" stroke-width="1.3"/>
<circle cx="339.50" cy="179.10" r="3.25" fill="none" stroke="#1e8c1e" stroke-width="1.05"/>
<line x1="339.50" y1="176.10" x2="339.50" y2="182.10" stroke="#1e8c1e" stroke-width="1.1"/>
<line x1="336.00" y1="176.10" x2="343.00" y2="176.10" stroke="#1e8c1e" stroke-width="1.3"/>
<line x1="336.00" y1="182.10" x2="343.00" y2="182.10" stroke="#1e8c1e" stroke-width="1.3"/>
<rect x="227.40" y="154.30" width="140.10" height="35.30" fill="none" stroke="#1a1a1a" stroke-width="1.4"/>
<text x="45.60" y="159.05" text-anchor="end" font-size="13.3">3.500</text>
<text x="45.60" y="184.15" text-anchor="end" font-size="13.3" clip-path="url(#c30)">-1.141</text>
<text x="45.60" y="194.75" text-anchor="end" font-size="13.3">-3.000</text>
<line x1="410.10" y1="157.02" x2="563.80" y2="157.02" stroke="#f5f5f5" stroke-width="1"/>
<line x1="410.10" y1="157.02" x2="563.80" y2="157.02" stroke="#e8e8e8" stroke-width="1" stroke-dasharray="1,2.5"/>
<line x1="410.10" y1="159.73" x2="563.80" y2="159.73" stroke="#f5f5f5" stroke-width="1"/>
<line x1="410.10" y1="159.73" x2="563.80" y2="159.73" stroke="#e8e8e8" stroke-width="1" stroke-dasharray="1,2.5"/>
<line x1="410.10" y1="162.45" x2="563.80" y2="162.45" stroke="#f5f5f5" stroke-width="1"/>
<line x1="410.10" y1="162.45" x2="563.80" y2="162.45" stroke="#e8e8e8" stroke-width="1" stroke-dasharray="1,2.5"/>
<line x1="410.10" y1="165.16" x2="563.80" y2="165.16" stroke="#f5f5f5" stroke-width="1"/>
<line x1="410.10" y1="165.16" x2="563.80" y2="165.16" stroke="#e8e8e8" stroke-width="1" stroke-dasharray="1,2.5"/>
<line x1="410.10" y1="167.88" x2="563.80" y2="167.88" stroke="#f5f5f5" stroke-width="1"/>
<line x1="410.10" y1="167.88" x2="563.80" y2="167.88" stroke="#e8e8e8" stroke-width="1" stroke-dasharray="1,2.5"/>
<line x1="410.10" y1="170.59" x2="563.80" y2="170.59" stroke="#f5f5f5" stroke-width="1"/>
<line x1="410.10" y1="170.59" x2="563.80" y2="170.59" stroke="#e8e8e8" stroke-width="1" stroke-dasharray="1,2.5"/>
<line x1="410.10" y1="173.31" x2="563.80" y2="173.31" stroke="#f5f5f5" stroke-width="1"/>
<line x1="410.10" y1="173.31" x2="563.80" y2="173.31" stroke="#e8e8e8" stroke-width="1" stroke-dasharray="1,2.5"/>
<line x1="410.10" y1="176.02" x2="563.80" y2="176.02" stroke="#f5f5f5" stroke-width="1"/>
<line x1="410.10" y1="176.02" x2="563.80" y2="176.02" stroke="#e8e8e8" stroke-width="1" stroke-dasharray="1,2.5"/>
<line x1="410.10" y1="178.74" x2="563.80" y2="178.74" stroke="#f5f5f5" stroke-width="1"/>
<line x1="410.10" y1="178.74" x2="563.80" y2="178.74" stroke="#e8e8e8" stroke-width="1" stroke-dasharray="1,2.5"/>
<line x1="410.10" y1="181.45" x2="563.80" y2="181.45" stroke="#f5f5f5" stroke-width="1"/>
<line x1="410.10" y1="181.45" x2="563.80" y2="181.45" stroke="#e8e8e8" stroke-width="1" stroke-dasharray="1,2.5"/>
<line x1="410.10" y1="184.17" x2="563.80" y2="184.17" stroke="#f5f5f5" stroke-width="1"/>
<line x1="410.10" y1="184.17" x2="563.80" y2="184.17" stroke="#e8e8e8" stroke-width="1" stroke-dasharray="1,2.5"/>
<line x1="410.10" y1="186.88" x2="563.80" y2="186.88" stroke="#f5f5f5" stroke-width="1"/>
<line x1="410.10" y1="186.88" x2="563.80" y2="186.88" stroke="#e8e8e8" stroke-width="1" stroke-dasharray="1,2.5"/>
<line x1="438.00" y1="154.80" x2="438.00" y2="189.10" stroke="#f5f5f5" stroke-width="1"/>
<line x1="438.00" y1="154.80" x2="438.00" y2="189.10" stroke="#e8e8e8" stroke-width="1" stroke-dasharray="1,2.5"/>
<line x1="466.20" y1="154.80" x2="466.20" y2="189.10" stroke="#f5f5f5" stroke-width="1"/>
<line x1="466.20" y1="154.80" x2="466.20" y2="189.10" stroke="#e8e8e8" stroke-width="1" stroke-dasharray="1,2.5"/>
<line x1="494.40" y1="154.80" x2="494.40" y2="189.10" stroke="#f5f5f5" stroke-width="1"/>
<line x1="494.40" y1="154.80" x2="494.40" y2="189.10" stroke="#e8e8e8" stroke-width="1" stroke-dasharray="1,2.5"/>
<line x1="522.60" y1="154.80" x2="522.60" y2="189.10" stroke="#f5f5f5" stroke-width="1"/>
<line x1="522.60" y1="154.80" x2="522.60" y2="189.10" stroke="#e8e8e8" stroke-width="1" stroke-dasharray="1,2.5"/>
<line x1="550.60" y1="154.80" x2="550.60" y2="189.10" stroke="#f5f5f5" stroke-width="1"/>
<line x1="550.60" y1="154.80" x2="550.60" y2="189.10" stroke="#e8e8e8" stroke-width="1" stroke-dasharray="1,2.5"/>
<line x1="409.60" y1="157.02" x2="412.30" y2="157.02" stroke="#1a1a1a" stroke-width="1.2"/>
<line x1="561.60" y1="157.02" x2="564.30" y2="157.02" stroke="#1a1a1a" stroke-width="1.2"/>
<line x1="409.60" y1="159.73" x2="412.30" y2="159.73" stroke="#1a1a1a" stroke-width="1.2"/>
<line x1="561.60" y1="159.73" x2="564.30" y2="159.73" stroke="#1a1a1a" stroke-width="1.2"/>
<line x1="409.60" y1="162.45" x2="412.30" y2="162.45" stroke="#1a1a1a" stroke-width="1.2"/>
<line x1="561.60" y1="162.45" x2="564.30" y2="162.45" stroke="#1a1a1a" stroke-width="1.2"/>
<line x1="409.60" y1="165.16" x2="412.30" y2="165.16" stroke="#1a1a1a" stroke-width="1.2"/>
<line x1="561.60" y1="165.16" x2="564.30" y2="165.16" stroke="#1a1a1a" stroke-width="1.2"/>
<line x1="409.60" y1="167.88" x2="412.30" y2="167.88" stroke="#1a1a1a" stroke-width="1.2"/>
<line x1="561.60" y1="167.88" x2="564.30" y2="167.88" stroke="#1a1a1a" stroke-width="1.2"/>
<line x1="409.60" y1="170.59" x2="412.30" y2="170.59" stroke="#1a1a1a" stroke-width="1.2"/>
<line x1="561.60" y1="170.59" x2="564.30" y2="170.59" stroke="#1a1a1a" stroke-width="1.2"/>
<line x1="409.60" y1="173.31" x2="412.30" y2="173.31" stroke="#1a1a1a" stroke-width="1.2"/>
<line x1="561.60" y1="173.31" x2="564.30" y2="173.31" stroke="#1a1a1a" stroke-width="1.2"/>
<line x1="409.60" y1="176.02" x2="412.30" y2="176.02" stroke="#1a1a1a" stroke-width="1.2"/>
<line x1="561.60" y1="176.02" x2="564.30" y2="176.02" stroke="#1a1a1a" stroke-width="1.2"/>
<line x1="409.60" y1="178.74" x2="412.30" y2="178.74" stroke="#1a1a1a" stroke-width="1.2"/>
<line x1="561.60" y1="178.74" x2="564.30" y2="178.74" stroke="#1a1a1a" stroke-width="1.2"/>
<line x1="409.60" y1="181.45" x2="412.30" y2="181.45" stroke="#1a1a1a" stroke-width="1.2"/>
<line x1="561.60" y1="181.45" x2="564.30" y2="181.45" stroke="#1a1a1a" stroke-width="1.2"/>
<line x1="409.60" y1="184.17" x2="412.30" y2="184.17" stroke="#1a1a1a" stroke-width="1.2"/>
<line x1="561.60" y1="184.17" x2="564.30" y2="184.17" stroke="#1a1a1a" stroke-width="1.2"/>
<line x1="409.60" y1="186.88" x2="412.30" y2="186.88" stroke="#1a1a1a" stroke-width="1.2"/>
<line x1="561.60" y1="186.88" x2="564.30" y2="186.88" stroke="#1a1a1a" stroke-width="1.2"/>
<line x1="438.00" y1="154.30" x2="438.00" y2="157.40" stroke="#1a1a1a" stroke-width="1.6"/>
<line x1="438.00" y1="186.50" x2="438.00" y2="189.60" stroke="#1a1a1a" stroke-width="1.6"/>
<line x1="466.20" y1="154.30" x2="466.20" y2="157.40" stroke="#1a1a1a" stroke-width="1.6"/>
<line x1="466.20" y1="186.50" x2="466.20" y2="189.60" stroke="#1a1a1a" stroke-width="1.6"/>
<line x1="494.40" y1="154.30" x2="494.40" y2="157.40" stroke="#1a1a1a" stroke-width="1.6"/>
<line x1="494.40" y1="186.50" x2="494.40" y2="189.60" stroke="#1a1a1a" stroke-width="1.6"/>
<line x1="522.60" y1="154.30" x2="522.60" y2="157.40" stroke="#1a1a1a" stroke-width="1.6"/>
<line x1="522.60" y1="186.50" x2="522.60" y2="189.60" stroke="#1a1a1a" stroke-width="1.6"/>
<line x1="550.60" y1="154.30" x2="550.60" y2="157.40" stroke="#1a1a1a" stroke-width="1.6"/>
<line x1="550.60" y1="186.50" x2="550.60" y2="189.60" stroke="#1a1a1a" stroke-width="1.6"/>
<line x1="416.40" y1="155.30" x2="416.40" y2="160.20" stroke="#40a040" stroke-width="1.35" stroke-dasharray="3.4,2.8"/>
<line x1="416.40" y1="160.20" x2="556.70" y2="183.30" stroke="#40a040" stroke-width="1.35" stroke-dasharray="3.4,2.8"/>
<line x1="556.70" y1="183.30" x2="556.70" y2="189.10" stroke="#40a040" stroke-width="1.35" stroke-dasharray="3.4,2.8"/>
<rect x="409.60" y="154.30" width="154.70" height="35.30" fill="none" stroke="#1a1a1a" stroke-width="1.4"/>
<text x="416.80" y="155.90" text-anchor="middle" font-size="13.3">0</text>
<text x="486.50" y="168.60" text-anchor="middle" font-size="13.3">0.5</text>
<text x="556.70" y="179.70" text-anchor="middle" font-size="13.3" clip-path="url(#c34)">1</text>
<text x="571.30" y="164.55" text-anchor="start" font-size="13.3">2.438</text>
<text x="571.30" y="176.15" text-anchor="start" font-size="13.3">0.3552</text>
<text x="571.30" y="187.75" text-anchor="start" font-size="13.3" clip-path="url(#c37)">-1.728</text>
<text transform="translate(632.80,174.90) rotate(-90)" text-anchor="middle" font-size="13.3">Ph'</text>
<text transform="translate(648.80,169.00) rotate(-90)" text-anchor="middle" font-size="13.3">=log</text>
<text transform="translate(664.80,168.50) rotate(-90)" text-anchor="middle" font-size="13.3" clip-path="url(#c40)">(16.8-</text>
<text transform="translate(680.80,174.60) rotate(-90)" text-anchor="middle" font-size="13.3">Ph)</text>
<line x1="53.00" y1="216.96" x2="214.90" y2="216.96" stroke="#f5f5f5" stroke-width="1"/>
<line x1="53.00" y1="216.96" x2="214.90" y2="216.96" stroke="#e8e8e8" stroke-width="1" stroke-dasharray="1,2.5"/>
<line x1="53.00" y1="220.52" x2="214.90" y2="220.52" stroke="#f5f5f5" stroke-width="1"/>
<line x1="53.00" y1="220.52" x2="214.90" y2="220.52" stroke="#e8e8e8" stroke-width="1" stroke-dasharray="1,2.5"/>
<line x1="53.00" y1="224.08" x2="214.90" y2="224.08" stroke="#f5f5f5" stroke-width="1"/>
<line x1="53.00" y1="224.08" x2="214.90" y2="224.08" stroke="#e8e8e8" stroke-width="1" stroke-dasharray="1,2.5"/>
<line x1="53.00" y1="227.64" x2="214.90" y2="227.64" stroke="#f5f5f5" stroke-width="1"/>
<line x1="53.00" y1="227.64" x2="214.90" y2="227.64" stroke="#e8e8e8" stroke-width="1" stroke-dasharray="1,2.5"/>
<line x1="53.00" y1="231.20" x2="214.90" y2="231.20" stroke="#f5f5f5" stroke-width="1"/>
<line x1="53.00" y1="231.20" x2="214.90" y2="231.20" stroke="#e8e8e8" stroke-width="1" stroke-dasharray="1,2.5"/>
<line x1="53.00" y1="234.76" x2="214.90" y2="234.76" stroke="#f5f5f5" stroke-width="1"/>
<line x1="53.00" y1="234.76" x2="214.90" y2="234.76" stroke="#e8e8e8" stroke-width="1" stroke-dasharray="1,2.5"/>
<line x1="53.00" y1="238.32" x2="214.90" y2="238.32" stroke="#f5f5f5" stroke-width="1"/>
<line x1="53.00" y1="238.32" x2="214.90" y2="238.32" stroke="#e8e8e8" stroke-width="1" stroke-dasharray="1,2.5"/>
<line x1="53.00" y1="241.88" x2="214.90" y2="241.88" stroke="#f5f5f5" stroke-width="1"/>
<line x1="53.00" y1="241.88" x2="214.90" y2="241.88" stroke="#e8e8e8" stroke-width="1" stroke-dasharray="1,2.5"/>
<line x1="53.00" y1="245.44" x2="214.90" y2="245.44" stroke="#f5f5f5" stroke-width="1"/>
<line x1="53.00" y1="245.44" x2="214.90" y2="245.44" stroke="#e8e8e8" stroke-width="1" stroke-dasharray="1,2.5"/>
<line x1="67.70" y1="213.90" x2="67.70" y2="248.50" stroke="#f5f5f5" stroke-width="1"/>
<line x1="67.70" y1="213.90" x2="67.70" y2="248.50" stroke="#e8e8e8" stroke-width="1" stroke-dasharray="1,2.5"/>
<line x1="82.42" y1="213.90" x2="82.42" y2="248.50" stroke="#f5f5f5" stroke-width="1"/>
<line x1="82.42" y1="213.90" x2="82.42" y2="248.50" stroke="#e8e8e8" stroke-width="1" stroke-dasharray="1,2.5"/>
<line x1="97.14" y1="213.90" x2="97.14" y2="248.50" stroke="#f5f5f5" stroke-width="1"/>
<line x1="97.14" y1="213.90" x2="97.14" y2="248.50" stroke="#e8e8e8" stroke-width="1" stroke-dasharray="1,2.5"/>
<line x1="111.86" y1="213.90" x2="111.86" y2="248.50" stroke="#f5f5f5" stroke-width="1"/>
<line x1="111.86" y1="213.90" x2="111.86" y2="248.50" stroke="#e8e8e8" stroke-width="1" stroke-dasharray="1,2.5"/>
<line x1="126.58" y1="213.90" x2="126.58" y2="248.50" stroke="#f5f5f5" stroke-width="1"/>
<line x1="126.58" y1="213.90" x2="126.58" y2="248.50" stroke="#e8e8e8" stroke-width="1" stroke-dasharray="1,2.5"/>
<line x1="141.30" y1="213.90" x2="141.30" y2="248.50" stroke="#f5f5f5" stroke-width="1"/>
<line x1="141.30" y1="213.90" x2="141.30" y2="248.50" stroke="#e8e8e8" stroke-width="1" stroke-dasharray="1,2.5"/>
<line x1="156.02" y1="213.90" x2="156.02" y2="248.50" stroke="#f5f5f5" stroke-width="1"/>
<line x1="156.02" y1="213.90" x2="156.02" y2="248.50" stroke="#e8e8e8" stroke-width="1" stroke-dasharray="1,2.5"/>
<line x1="170.74" y1="213.90" x2="170.74" y2="248.50" stroke="#f5f5f5" stroke-width="1"/>
<line x1="170.74" y1="213.90" x2="170.74" y2="248.50" stroke="#e8e8e8" stroke-width="1" stroke-dasharray="1,2.5"/>
<line x1="185.46" y1="213.90" x2="185.46" y2="248.50" stroke="#f5f5f5" stroke-width="1"/>
<line x1="185.46" y1="213.90" x2="185.46" y2="248.50" stroke="#e8e8e8" stroke-width="1" stroke-dasharray="1,2.5"/>
<line x1="200.18" y1="213.90" x2="200.18" y2="248.50" stroke="#f5f5f5" stroke-width="1"/>
<line x1="200.18" y1="213.90" x2="200.18" y2="248.50" stroke="#e8e8e8" stroke-width="1" stroke-dasharray="1,2.5"/>
<line x1="52.50" y1="216.96" x2="55.20" y2="216.96" stroke="#1a1a1a" stroke-width="1.2"/>
<line x1="212.70" y1="216.96" x2="215.40" y2="216.96" stroke="#1a1a1a" stroke-width="1.2"/>
<line x1="52.50" y1="220.52" x2="55.20" y2="220.52" stroke="#1a1a1a" stroke-width="1.2"/>
<line x1="212.70" y1="220.52" x2="215.40" y2="220.52" stroke="#1a1a1a" stroke-width="1.2"/>
<line x1="52.50" y1="224.08" x2="55.20" y2="224.08" stroke="#1a1a1a" stroke-width="1.2"/>
<line x1="212.70" y1="224.08" x2="215.40" y2="224.08" stroke="#1a1a1a" stroke-width="1.2"/>
<line x1="52.50" y1="227.64" x2="55.20" y2="227.64" stroke="#1a1a1a" stroke-width="1.2"/>
<line x1="212.70" y1="227.64" x2="215.40" y2="227.64" stroke="#1a1a1a" stroke-width="1.2"/>
<line x1="52.50" y1="231.20" x2="55.20" y2="231.20" stroke="#1a1a1a" stroke-width="1.2"/>
<line x1="212.70" y1="231.20" x2="215.40" y2="231.20" stroke="#1a1a1a" stroke-width="1.2"/>
<line x1="52.50" y1="234.76" x2="55.20" y2="234.76" stroke="#1a1a1a" stroke-width="1.2"/>
<line x1="212.70" y1="234.76" x2="215.40" y2="234.76" stroke="#1a1a1a" stroke-width="1.2"/>
<line x1="52.50" y1="238.32" x2="55.20" y2="238.32" stroke="#1a1a1a" stroke-width="1.2"/>
<line x1="212.70" y1="238.32" x2="215.40" y2="238.32" stroke="#1a1a1a" stroke-width="1.2"/>
<line x1="52.50" y1="241.88" x2="55.20" y2="241.88" stroke="#1a1a1a" stroke-width="1.2"/>
<line x1="212.70" y1="241.88" x2="215.40" y2="241.88" stroke="#1a1a1a" stroke-width="1.2"/>
<line x1="52.50" y1="245.44" x2="55.20" y2="245.44" stroke="#1a1a1a" stroke-width="1.2"/>
<line x1="212.70" y1="245.44" x2="215.40" y2="245.44" stroke="#1a1a1a" stroke-width="1.2"/>
<line x1="67.70" y1="213.40" x2="67.70" y2="216.50" stroke="#1a1a1a" stroke-width="1.6"/>
<line x1="67.70" y1="245.90" x2="67.70" y2="249.00" stroke="#1a1a1a" stroke-width="1.6"/>
<line x1="82.42" y1="213.40" x2="82.42" y2="216.50" stroke="#1a1a1a" stroke-width="1.6"/>
<line x1="82.42" y1="245.90" x2="82.42" y2="249.00" stroke="#1a1a1a" stroke-width="1.6"/>
<line x1="97.14" y1="213.40" x2="97.14" y2="216.50" stroke="#1a1a1a" stroke-width="1.6"/>
<line x1="97.14" y1="245.90" x2="97.14" y2="249.00" stroke="#1a1a1a" stroke-width="1.6"/>
<line x1="111.86" y1="213.40" x2="111.86" y2="216.50" stroke="#1a1a1a" stroke-width="1.6"/>
<line x1="111.86" y1="245.90" x2="111.86" y2="249.00" stroke="#1a1a1a" stroke-width="1.6"/>
<line x1="126.58" y1="213.40" x2="126.58" y2="216.50" stroke="#1a1a1a" stroke-width="1.6"/>
<line x1="126.58" y1="245.90" x2="126.58" y2="249.00" stroke="#1a1a1a" stroke-width="1.6"/>
<line x1="141.30" y1="213.40" x2="141.30" y2="216.50" stroke="#1a1a1a" stroke-width="1.6"/>
<line x1="141.30" y1="245.90" x2="141.30" y2="249.00" stroke="#1a1a1a" stroke-width="1.6"/>
<line x1="156.02" y1="213.40" x2="156.02" y2="216.50" stroke="#1a1a1a" stroke-width="1.6"/>
<line x1="156.02" y1="245.90" x2="156.02" y2="249.00" stroke="#1a1a1a" stroke-width="1.6"/>
<line x1="170.74" y1="213.40" x2="170.74" y2="216.50" stroke="#1a1a1a" stroke-width="1.6"/>
<line x1="170.74" y1="245.90" x2="170.74" y2="249.00" stroke="#1a1a1a" stroke-width="1.6"/>
<line x1="185.46" y1="213.40" x2="185.46" y2="216.50" stroke="#1a1a1a" stroke-width="1.6"/>
<line x1="185.46" y1="245.90" x2="185.46" y2="249.00" stroke="#1a1a1a" stroke-width="1.6"/>
<line x1="200.18" y1="213.40" x2="200.18" y2="216.50" stroke="#1a1a1a" stroke-width="1.6"/>
<line x1="200.18" y1="245.90" x2="200.18" y2="249.00" stroke="#1a1a1a" stroke-width="1.6"/>
<line x1="53.10" y1="231.70" x2="214.80" y2="231.70" stroke="#4a4ace" stroke-width="1.35"/>
<line x1="53.10" y1="242.00" x2="214.80" y2="242.00" stroke="#4a4ace" stroke-width="1.35"/>
<line x1="54.00" y1="237.00" x2="214.80" y2="237.00" stroke="#2525b8" stroke-width="1.6" stroke-dasharray="2.7,3.1"/>
<line x1="67.70" y1="214.00" x2="67.70" y2="248.40" stroke="#e9b9c6" stroke-width="1.0"/>
<line x1="67.70" y1="214.00" x2="67.70" y2="248.40" stroke="#b01c40" stroke-width="1.1" stroke-dasharray="1.3,1.5"/>
<polyline points="67.70,236.90 82.42,236.70 97.14,236.40 111.86,235.80 126.58,235.30 141.30,235.00 156.02,234.70 170.74,234.40 185.46,234.20 200.18,234.00" fill="none" stroke="#40a040" stroke-width="1.4" stroke-dasharray="3,3"/>
<circle cx="67.70" cy="236.90" r="3.25" fill="none" stroke="#1e8c1e" stroke-width="1.05"/>
<line x1="67.70" y1="232.20" x2="67.70" y2="241.60" stroke="#1e8c1e" stroke-width="1.1"/>
<line x1="65.70" y1="232.20" x2="69.70" y2="232.20" stroke="#1e8c1e" stroke-width="1.3"/>
<line x1="65.70" y1="241.60" x2="69.70" y2="241.60" stroke="#1e8c1e" stroke-width="1.3"/>
<circle cx="82.42" cy="236.70" r="3.25" fill="none" stroke="#1e8c1e" stroke-width="1.05"/>
<line x1="82.42" y1="231.90" x2="82.42" y2="241.50" stroke="#1e8c1e" stroke-width="1.1"/>
<line x1="80.42" y1="231.90" x2="84.42" y2="231.90" stroke="#1e8c1e" stroke-width="1.3"/>
<line x1="80.42" y1="241.50" x2="84.42" y2="241.50" stroke="#1e8c1e" stroke-width="1.3"/>
<circle cx="97.14" cy="236.40" r="3.25" fill="none" stroke="#1e8c1e" stroke-width="1.05"/>
<line x1="97.14" y1="231.60" x2="97.14" y2="241.20" stroke="#1e8c1e" stroke-width="1.1"/>
<line x1="95.14" y1="231.60" x2="99.14" y2="231.60" stroke="#1e8c1e" stroke-width="1.3"/>
<line x1="95.14" y1="241.20" x2="99.14" y2="241.20" stroke="#1e8c1e" stroke-width="1.3"/>
<circle cx="111.86" cy="235.80" r="3.25" fill="none" stroke="#1e8c1e" stroke-width="1.05"/>
<line x1="111.86" y1="230.90" x2="111.86" y2="240.70" stroke="#1e8c1e" stroke-width="1.1"/>
<line x1="109.86" y1="230.90" x2="113.86" y2="230.90" stroke="#1e8c1e" stroke-width="1.3"/>
<line x1="109.86" y1="240.70" x2="113.86" y2="240.70" stroke="#1e8c1e" stroke-width="1.3"/>
<circle cx="126.58" cy="235.30" r="3.25" fill="none" stroke="#1e8c1e" stroke-width="1.05"/>
<line x1="126.58" y1="230.40" x2="126.58" y2="240.20" stroke="#1e8c1e" stroke-width="1.1"/>
<line x1="124.58" y1="230.40" x2="128.58" y2="230.40" stroke="#1e8c1e" stroke-width="1.3"/>
<line x1="124.58" y1="240.20" x2="128.58" y2="240.20" stroke="#1e8c1e" stroke-width="1.3"/>
<circle cx="141.30" cy="235.00" r="3.25" fill="none" stroke="#1e8c1e" stroke-width="1.05"/>
<line x1="141.30" y1="230.00" x2="141.30" y2="240.00" stroke="#1e8c1e" stroke-width="1.1"/>
<line x1="139.30" y1="230.00" x2="143.30" y2="230.00" stroke="#1e8c1e" stroke-width="1.3"/>
<line x1="139.30" y1="240.00" x2="143.30" y2="240.00" stroke="#1e8c1e" stroke-width="1.3"/>
<circle cx="156.02" cy="234.70" r="3.25" fill="none" stroke="#1e8c1e" stroke-width="1.05"/>
<line x1="156.02" y1="229.60" x2="156.02" y2="239.80" stroke="#1e8c1e" stroke-width="1.1"/>
<line x1="154.02" y1="229.60" x2="158.02" y2="229.60" stroke="#1e8c1e" stroke-width="1.3"/>
<line x1="154.02" y1="239.80" x2="158.02" y2="239.80" stroke="#1e8c1e" stroke-width="1.3"/>
<circle cx="170.74" cy="234.40" r="3.25" fill="none" stroke="#1e8c1e" stroke-width="1.05"/>
<line x1="170.74" y1="229.10" x2="170.74" y2="239.70" stroke="#1e8c1e" stroke-width="1.1"/>
<line x1="168.74" y1="229.10" x2="172.74" y2="229.10" stroke="#1e8c1e" stroke-width="1.3"/>
<line x1="168.74" y1="239.70" x2="172.74" y2="239.70" stroke="#1e8c1e" stroke-width="1.3"/>
<circle cx="185.46" cy="234.20" r="3.25" fill="none" stroke="#1e8c1e" stroke-width="1.05"/>
<line x1="185.46" y1="228.60" x2="185.46" y2="239.80" stroke="#1e8c1e" stroke-width="1.1"/>
<line x1="183.46" y1="228.60" x2="187.46" y2="228.60" stroke="#1e8c1e" stroke-width="1.3"/>
<line x1="183.46" y1="239.80" x2="187.46" y2="239.80" stroke="#1e8c1e" stroke-width="1.3"/>
<circle cx="200.18" cy="234.00" r="3.25" fill="none" stroke="#1e8c1e" stroke-width="1.05"/>
<line x1="200.18" y1="227.90" x2="200.18" y2="240.10" stroke="#1e8c1e" stroke-width="1.1"/>
<line x1="198.18" y1="227.90" x2="202.18" y2="227.90" stroke="#1e8c1e" stroke-width="1.3"/>
<line x1="198.18" y1="240.10" x2="202.18" y2="240.10" stroke="#1e8c1e" stroke-width="1.3"/>
<rect x="52.50" y="213.40" width="162.90" height="35.60" fill="none" stroke="#1a1a1a" stroke-width="1.4"/>
<line x1="227.90" y1="216.96" x2="367.00" y2="216.96" stroke="#f5f5f5" stroke-width="1"/>
<line x1="227.90" y1="216.96" x2="367.00" y2="216.96" stroke="#e8e8e8" stroke-width="1" stroke-dasharray="1,2.5"/>
<line x1="227.90" y1="220.52" x2="367.00" y2="220.52" stroke="#f5f5f5" stroke-width="1"/>
<line x1="227.90" y1="220.52" x2="367.00" y2="220.52" stroke="#e8e8e8" stroke-width="1" stroke-dasharray="1,2.5"/>
<line x1="227.90" y1="224.08" x2="367.00" y2="224.08" stroke="#f5f5f5" stroke-width="1"/>
<line x1="227.90" y1="224.08" x2="367.00" y2="224.08" stroke="#e8e8e8" stroke-width="1" stroke-dasharray="1,2.5"/>
<line x1="227.90" y1="227.64" x2="367.00" y2="227.64" stroke="#f5f5f5" stroke-width="1"/>
<line x1="227.90" y1="227.64" x2="367.00" y2="227.64" stroke="#e8e8e8" stroke-width="1" stroke-dasharray="1,2.5"/>
<line x1="227.90" y1="231.20" x2="367.00" y2="231.20" stroke="#f5f5f5" stroke-width="1"/>
<line x1="227.90" y1="231.20" x2="367.00" y2="231.20" stroke="#e8e8e8" stroke-width="1" stroke-dasharray="1,2.5"/>
<line x1="227.90" y1="234.76" x2="367.00" y2="234.76" stroke="#f5f5f5" stroke-width="1"/>
<line x1="227.90" y1="234.76" x2="367.00" y2="234.76" stroke="#e8e8e8" stroke-width="1" stroke-dasharray="1,2.5"/>
<line x1="227.90" y1="238.32" x2="367.00" y2="238.32" stroke="#f5f5f5" stroke-width="1"/>
<line x1="227.90" y1="238.32" x2="367.00" y2="238.32" stroke="#e8e8e8" stroke-width="1" stroke-dasharray="1,2.5"/>
<line x1="227.90" y1="241.88" x2="367.00" y2="241.88" stroke="#f5f5f5" stroke-width="1"/>
<line x1="227.90" y1="241.88" x2="367.00" y2="241.88" stroke="#e8e8e8" stroke-width="1" stroke-dasharray="1,2.5"/>
<line x1="227.90" y1="245.44" x2="367.00" y2="245.44" stroke="#f5f5f5" stroke-width="1"/>
<line x1="227.90" y1="245.44" x2="367.00" y2="245.44" stroke="#e8e8e8" stroke-width="1" stroke-dasharray="1,2.5"/>
<line x1="255.30" y1="213.90" x2="255.30" y2="248.50" stroke="#f5f5f5" stroke-width="1"/>
<line x1="255.30" y1="213.90" x2="255.30" y2="248.50" stroke="#e8e8e8" stroke-width="1" stroke-dasharray="1,2.5"/>
<line x1="283.40" y1="213.90" x2="283.40" y2="248.50" stroke="#f5f5f5" stroke-width="1"/>
<line x1="283.40" y1="213.90" x2="283.40" y2="248.50" stroke="#e8e8e8" stroke-width="1" stroke-dasharray="1,2.5"/>
<line x1="311.40" y1="213.90" x2="311.40" y2="248.50" stroke="#f5f5f5" stroke-width="1"/>
<line x1="311.40" y1="213.90" x2="311.40" y2="248.50" stroke="#e8e8e8" stroke-width="1" stroke-dasharray="1,2.5"/>
<line x1="339.50" y1="213.90" x2="339.50" y2="248.50" stroke="#f5f5f5" stroke-width="1"/>
<line x1="339.50" y1="213.90" x2="339.50" y2="248.50" stroke="#e8e8e8" stroke-width="1" stroke-dasharray="1,2.5"/>
<line x1="227.40" y1="216.96" x2="230.10" y2="216.96" stroke="#1a1a1a" stroke-width="1.2"/>
<line x1="364.80" y1="216.96" x2="367.50" y2="216.96" stroke="#1a1a1a" stroke-width="1.2"/>
<line x1="227.40" y1="220.52" x2="230.10" y2="220.52" stroke="#1a1a1a" stroke-width="1.2"/>
<line x1="364.80" y1="220.52" x2="367.50" y2="220.52" stroke="#1a1a1a" stroke-width="1.2"/>
<line x1="227.40" y1="224.08" x2="230.10" y2="224.08" stroke="#1a1a1a" stroke-width="1.2"/>
<line x1="364.80" y1="224.08" x2="367.50" y2="224.08" stroke="#1a1a1a" stroke-width="1.2"/>
<line x1="227.40" y1="227.64" x2="230.10" y2="227.64" stroke="#1a1a1a" stroke-width="1.2"/>
<line x1="364.80" y1="227.64" x2="367.50" y2="227.64" stroke="#1a1a1a" stroke-width="1.2"/>
<line x1="227.40" y1="231.20" x2="230.10" y2="231.20" stroke="#1a1a1a" stroke-width="1.2"/>
<line x1="364.80" y1="231.20" x2="367.50" y2="231.20" stroke="#1a1a1a" stroke-width="1.2"/>
<line x1="227.40" y1="234.76" x2="230.10" y2="234.76" stroke="#1a1a1a" stroke-width="1.2"/>
<line x1="364.80" y1="234.76" x2="367.50" y2="234.76" stroke="#1a1a1a" stroke-width="1.2"/>
<line x1="227.40" y1="238.32" x2="230.10" y2="238.32" stroke="#1a1a1a" stroke-width="1.2"/>
<line x1="364.80" y1="238.32" x2="367.50" y2="238.32" stroke="#1a1a1a" stroke-width="1.2"/>
<line x1="227.40" y1="241.88" x2="230.10" y2="241.88" stroke="#1a1a1a" stroke-width="1.2"/>
<line x1="364.80" y1="241.88" x2="367.50" y2="241.88" stroke="#1a1a1a" stroke-width="1.2"/>
<line x1="227.40" y1="245.44" x2="230.10" y2="245.44" stroke="#1a1a1a" stroke-width="1.2"/>
<line x1="364.80" y1="245.44" x2="367.50" y2="245.44" stroke="#1a1a1a" stroke-width="1.2"/>
<line x1="255.30" y1="213.40" x2="255.30" y2="216.50" stroke="#1a1a1a" stroke-width="1.6"/>
<line x1="255.30" y1="245.90" x2="255.30" y2="249.00" stroke="#1a1a1a" stroke-width="1.6"/>
<line x1="283.40" y1="213.40" x2="283.40" y2="216.50" stroke="#1a1a1a" stroke-width="1.6"/>
<line x1="283.40" y1="245.90" x2="283.40" y2="249.00" stroke="#1a1a1a" stroke-width="1.6"/>
<line x1="311.40" y1="213.40" x2="311.40" y2="216.50" stroke="#1a1a1a" stroke-width="1.6"/>
<line x1="311.40" y1="245.90" x2="311.40" y2="249.00" stroke="#1a1a1a" stroke-width="1.6"/>
<line x1="339.50" y1="213.40" x2="339.50" y2="216.50" stroke="#1a1a1a" stroke-width="1.6"/>
<line x1="339.50" y1="245.90" x2="339.50" y2="249.00" stroke="#1a1a1a" stroke-width="1.6"/>
<line x1="228.00" y1="231.70" x2="366.90" y2="231.70" stroke="#4a4ace" stroke-width="1.35"/>
<line x1="228.00" y1="242.00" x2="366.90" y2="242.00" stroke="#4a4ace" stroke-width="1.35"/>
<line x1="228.90" y1="237.00" x2="366.90" y2="237.00" stroke="#2525b8" stroke-width="1.6" stroke-dasharray="2.7,3.1"/>
<line x1="339.50" y1="214.00" x2="339.50" y2="248.40" stroke="#e9b9c6" stroke-width="1.0"/>
<line x1="339.50" y1="214.00" x2="339.50" y2="248.40" stroke="#b01c40" stroke-width="1.1" stroke-dasharray="1.3,1.5"/>
<polyline points="255.30,226.10 283.40,229.40 311.40,232.60 339.50,236.70" fill="none" stroke="#40a040" stroke-width="1.4" stroke-dasharray="3,3"/>
<circle cx="255.30" cy="226.10" r="3.25" fill="none" stroke="#1e8c1e" stroke-width="1.05"/>
<line x1="255.30" y1="221.90" x2="255.30" y2="230.30" stroke="#1e8c1e" stroke-width="1.1"/>
<line x1="251.80" y1="221.90" x2="258.80" y2="221.90" stroke="#1e8c1e" stroke-width="1.3"/>
<line x1="251.80" y1="230.30" x2="258.80" y2="230.30" stroke="#1e8c1e" stroke-width="1.3"/>
<circle cx="283.40" cy="229.40" r="3.25" fill="none" stroke="#1e8c1e" stroke-width="1.05"/>
<line x1="283.40" y1="226.50" x2="283.40" y2="232.30" stroke="#1e8c1e" stroke-width="1.1"/>
<line x1="279.90" y1="226.50" x2="286.90" y2="226.50" stroke="#1e8c1e" stroke-width="1.3"/>
<line x1="279.90" y1="232.30" x2="286.90" y2="232.30" stroke="#1e8c1e" stroke-width="1.3"/>
<circle cx="311.40" cy="232.60" r="3.25" fill="none" stroke="#1e8c1e" stroke-width="1.05"/>
<line x1="311.40" y1="229.60" x2="311.40" y2="235.60" stroke="#1e8c1e" stroke-width="1.1"/>
<line x1="307.90" y1="229.60" x2="314.90" y2="229.60" stroke="#1e8c1e" stroke-width="1.3"/>
<line x1="307.90" y1="235.60" x2="314.90" y2="235.60" stroke="#1e8c1e" stroke-width="1.3"/>
<circle cx="339.50" cy="236.70" r="3.25" fill="none" stroke="#1e8c1e" stroke-width="1.05"/>
<line x1="339.50" y1="233.10" x2="339.50" y2="240.30" stroke="#1e8c1e" stroke-width="1.1"/>
<line x1="336.00" y1="233.10" x2="343.00" y2="233.10" stroke="#1e8c1e" stroke-width="1.3"/>
<line x1="336.00" y1="240.30" x2="343.00" y2="240.30" stroke="#1e8c1e" stroke-width="1.3"/>
<rect x="227.40" y="213.40" width="140.10" height="35.60" fill="none" stroke="#1a1a1a" stroke-width="1.4"/>
<text x="45.60" y="218.05" text-anchor="end" font-size="13.3" clip-path="url(#c42)">1.30</text>
<text x="45.60" y="241.75" text-anchor="end" font-size="13.3">0.63</text>
<text x="45.60" y="253.15" text-anchor="end" font-size="13.3">030</text>
<line x1="410.10" y1="216.96" x2="563.80" y2="216.96" stroke="#f5f5f5" stroke-width="1"/>
<line x1="410.10" y1="216.96" x2="563.80" y2="216.96" stroke="#e8e8e8" stroke-width="1" stroke-dasharray="1,2.5"/>
<line x1="410.10" y1="220.52" x2="563.80" y2="220.52" stroke="#f5f5f5" stroke-width="1"/>
<line x1="410.10" y1="220.52" x2="563.80" y2="220.52" stroke="#e8e8e8" stroke-width="1" stroke-dasharray="1,2.5"/>
<line x1="410.10" y1="224.08" x2="563.80" y2="224.08" stroke="#f5f5f5" stroke-width="1"/>
<line x1="410.10" y1="224.08" x2="563.80" y2="224.08" stroke="#e8e8e8" stroke-width="1" stroke-dasharray="1,2.5"/>
<line x1="410.10" y1="227.64" x2="563.80" y2="227.64" stroke="#f5f5f5" stroke-width="1"/>
<line x1="410.10" y1="227.64" x2="563.80" y2="227.64" stroke="#e8e8e8" stroke-width="1" stroke-dasharray="1,2.5"/>
<line x1="410.10" y1="231.20" x2="563.80" y2="231.20" stroke="#f5f5f5" stroke-width="1"/>
<line x1="410.10" y1="231.20" x2="563.80" y2="231.20" stroke="#e8e8e8" stroke-width="1" stroke-dasharray="1,2.5"/>
<line x1="410.10" y1="234.76" x2="563.80" y2="234.76" stroke="#f5f5f5" stroke-width="1"/>
<line x1="410.10" y1="234.76" x2="563.80" y2="234.76" stroke="#e8e8e8" stroke-width="1" stroke-dasharray="1,2.5"/>
<line x1="410.10" y1="238.32" x2="563.80" y2="238.32" stroke="#f5f5f5" stroke-width="1"/>
<line x1="410.10" y1="238.32" x2="563.80" y2="238.32" stroke="#e8e8e8" stroke-width="1" stroke-dasharray="1,2.5"/>
<line x1="410.10" y1="241.88" x2="563.80" y2="241.88" stroke="#f5f5f5" stroke-width="1"/>
<line x1="410.10" y1="241.88" x2="563.80" y2="241.88" stroke="#e8e8e8" stroke-width="1" stroke-dasharray="1,2.5"/>
<line x1="410.10" y1="245.44" x2="563.80" y2="245.44" stroke="#f5f5f5" stroke-width="1"/>
<line x1="410.10" y1="245.44" x2="563.80" y2="245.44" stroke="#e8e8e8" stroke-width="1" stroke-dasharray="1,2.5"/>
<line x1="438.00" y1="213.90" x2="438.00" y2="248.50" stroke="#f5f5f5" stroke-width="1"/>
<line x1="438.00" y1="213.90" x2="438.00" y2="248.50" stroke="#e8e8e8" stroke-width="1" stroke-dasharray="1,2.5"/>
<line x1="466.20" y1="213.90" x2="466.20" y2="248.50" stroke="#f5f5f5" stroke-width="1"/>
<line x1="466.20" y1="213.90" x2="466.20" y2="248.50" stroke="#e8e8e8" stroke-width="1" stroke-dasharray="1,2.5"/>
<line x1="494.40" y1="213.90" x2="494.40" y2="248.50" stroke="#f5f5f5" stroke-width="1"/>
<line x1="494.40" y1="213.90" x2="494.40" y2="248.50" stroke="#e8e8e8" stroke-width="1" stroke-dasharray="1,2.5"/>
<line x1="522.60" y1="213.90" x2="522.60" y2="248.50" stroke="#f5f5f5" stroke-width="1"/>
<line x1="522.60" y1="213.90" x2="522.60" y2="248.50" stroke="#e8e8e8" stroke-width="1" stroke-dasharray="1,2.5"/>
<line x1="550.60" y1="213.90" x2="550.60" y2="248.50" stroke="#f5f5f5" stroke-width="1"/>
<line x1="550.60" y1="213.90" x2="550.60" y2="248.50" stroke="#e8e8e8" stroke-width="1" stroke-dasharray="1,2.5"/>
<line x1="409.60" y1="216.96" x2="412.30" y2="216.96" stroke="#1a1a1a" stroke-width="1.2"/>
<line x1="561.60" y1="216.96" x2="564.30" y2="216.96" stroke="#1a1a1a" stroke-width="1.2"/>
<line x1="409.60" y1="220.52" x2="412.30" y2="220.52" stroke="#1a1a1a" stroke-width="1.2"/>
<line x1="561.60" y1="220.52" x2="564.30" y2="220.52" stroke="#1a1a1a" stroke-width="1.2"/>
<line x1="409.60" y1="224.08" x2="412.30" y2="224.08" stroke="#1a1a1a" stroke-width="1.2"/>
<line x1="561.60" y1="224.08" x2="564.30" y2="224.08" stroke="#1a1a1a" stroke-width="1.2"/>
<line x1="409.60" y1="227.64" x2="412.30" y2="227.64" stroke="#1a1a1a" stroke-width="1.2"/>
<line x1="561.60" y1="227.64" x2="564.30" y2="227.64" stroke="#1a1a1a" stroke-width="1.2"/>
<line x1="409.60" y1="231.20" x2="412.30" y2="231.20" stroke="#1a1a1a" stroke-width="1.2"/>
<line x1="561.60" y1="231.20" x2="564.30" y2="231.20" stroke="#1a1a1a" stroke-width="1.2"/>
<line x1="409.60" y1="234.76" x2="412.30" y2="234.76" stroke="#1a1a1a" stroke-width="1.2"/>
<line x1="561.60" y1="234.76" x2="564.30" y2="234.76" stroke="#1a1a1a" stroke-width="1.2"/>
<line x1="409.60" y1="238.32" x2="412.30" y2="238.32" stroke="#1a1a1a" stroke-width="1.2"/>
<line x1="561.60" y1="238.32" x2="564.30" y2="238.32" stroke="#1a1a1a" stroke-width="1.2"/>
<line x1="409.60" y1="241.88" x2="412.30" y2="241.88" stroke="#1a1a1a" stroke-width="1.2"/>
<line x1="561.60" y1="241.88" x2="564.30" y2="241.88" stroke="#1a1a1a" stroke-width="1.2"/>
<line x1="409.60" y1="245.44" x2="412.30" y2="245.44" stroke="#1a1a1a" stroke-width="1.2"/>
<line x1="561.60" y1="245.44" x2="564.30" y2="245.44" stroke="#1a1a1a" stroke-width="1.2"/>
<line x1="438.00" y1="213.40" x2="438.00" y2="216.50" stroke="#1a1a1a" stroke-width="1.6"/>
<line x1="438.00" y1="245.90" x2="438.00" y2="249.00" stroke="#1a1a1a" stroke-width="1.6"/>
<line x1="466.20" y1="213.40" x2="466.20" y2="216.50" stroke="#1a1a1a" stroke-width="1.6"/>
<line x1="466.20" y1="245.90" x2="466.20" y2="249.00" stroke="#1a1a1a" stroke-width="1.6"/>
<line x1="494.40" y1="213.40" x2="494.40" y2="216.50" stroke="#1a1a1a" stroke-width="1.6"/>
<line x1="494.40" y1="245.90" x2="494.40" y2="249.00" stroke="#1a1a1a" stroke-width="1.6"/>
<line x1="522.60" y1="213.40" x2="522.60" y2="216.50" stroke="#1a1a1a" stroke-width="1.6"/>
<line x1="522.60" y1="245.90" x2="522.60" y2="249.00" stroke="#1a1a1a" stroke-width="1.6"/>
<line x1="550.60" y1="213.40" x2="550.60" y2="216.50" stroke="#1a1a1a" stroke-width="1.6"/>
<line x1="550.60" y1="245.90" x2="550.60" y2="249.00" stroke="#1a1a1a" stroke-width="1.6"/>
<line x1="416.40" y1="248.50" x2="416.40" y2="241.80" stroke="#40a040" stroke-width="1.35" stroke-dasharray="3.4,2.8"/>
<line x1="416.40" y1="241.80" x2="556.70" y2="220.20" stroke="#40a040" stroke-width="1.35" stroke-dasharray="3.4,2.8"/>
<line x1="556.70" y1="220.20" x2="556.70" y2="214.40" stroke="#40a040" stroke-width="1.35" stroke-dasharray="3.4,2.8"/>
<rect x="409.60" y="213.40" width="154.70" height="35.60" fill="none" stroke="#1a1a1a" stroke-width="1.4"/>
<text x="416.80" y="238.20" text-anchor="middle" font-size="13.3">0</text>
<text x="486.50" y="227.50" text-anchor="middle" font-size="13.3">0.5</text>
<text x="556.70" y="216.10" text-anchor="middle" font-size="13.3" clip-path="url(#c47)">1</text>
<text x="571.30" y="224.55" text-anchor="start" font-size="13.3" clip-path="url(#c48)">1.12</text>
<text x="571.30" y="235.25" text-anchor="start" font-size="13.3">0.82</text>
<text x="571.30" y="245.95" text-anchor="start" font-size="13.3">0.52</text>
<text transform="translate(633.60,230.80) rotate(-90)" text-anchor="middle" font-size="13.3">K</text>
<text transform="translate(650.80,230.80) rotate(-90)" text-anchor="middle" font-size="13.3">(%)</text>
<line x1="53.00" y1="277.67" x2="214.90" y2="277.67" stroke="#f5f5f5" stroke-width="1"/>
<line x1="53.00" y1="277.67" x2="214.90" y2="277.67" stroke="#e8e8e8" stroke-width="1" stroke-dasharray="1,2.5"/>
<line x1="53.00" y1="282.74" x2="214.90" y2="282.74" stroke="#f5f5f5" stroke-width="1"/>
<line x1="53.00" y1="282.74" x2="214.90" y2="282.74" stroke="#e8e8e8" stroke-width="1" stroke-dasharray="1,2.5"/>
<line x1="53.00" y1="287.81" x2="214.90" y2="287.81" stroke="#f5f5f5" stroke-width="1"/>
<line x1="53.00" y1="287.81" x2="214.90" y2="287.81" stroke="#e8e8e8" stroke-width="1" stroke-dasharray="1,2.5"/>
<line x1="53.00" y1="292.89" x2="214.90" y2="292.89" stroke="#f5f5f5" stroke-width="1"/>
<line x1="53.00" y1="292.89" x2="214.90" y2="292.89" stroke="#e8e8e8" stroke-width="1" stroke-dasharray="1,2.5"/>
<line x1="53.00" y1="297.96" x2="214.90" y2="297.96" stroke="#f5f5f5" stroke-width="1"/>
<line x1="53.00" y1="297.96" x2="214.90" y2="297.96" stroke="#e8e8e8" stroke-width="1" stroke-dasharray="1,2.5"/>
<line x1="53.00" y1="303.03" x2="214.90" y2="303.03" stroke="#f5f5f5" stroke-width="1"/>
<line x1="53.00" y1="303.03" x2="214.90" y2="303.03" stroke="#e8e8e8" stroke-width="1" stroke-dasharray="1,2.5"/>
<line x1="67.70" y1="273.10" x2="67.70" y2="307.60" stroke="#f5f5f5" stroke-width="1"/>
<line x1="67.70" y1="273.10" x2="67.70" y2="307.60" stroke="#e8e8e8" stroke-width="1" stroke-dasharray="1,2.5"/>
<line x1="82.42" y1="273.10" x2="82.42" y2="307.60" stroke="#f5f5f5" stroke-width="1"/>
<line x1="82.42" y1="273.10" x2="82.42" y2="307.60" stroke="#e8e8e8" stroke-width="1" stroke-dasharray="1,2.5"/>
<line x1="97.14" y1="273.10" x2="97.14" y2="307.60" stroke="#f5f5f5" stroke-width="1"/>
<line x1="97.14" y1="273.10" x2="97.14" y2="307.60" stroke="#e8e8e8" stroke-width="1" stroke-dasharray="1,2.5"/>
<line x1="111.86" y1="273.10" x2="111.86" y2="307.60" stroke="#f5f5f5" stroke-width="1"/>
<line x1="111.86" y1="273.10" x2="111.86" y2="307.60" stroke="#e8e8e8" stroke-width="1" stroke-dasharray="1,2.5"/>
<line x1="126.58" y1="273.10" x2="126.58" y2="307.60" stroke="#f5f5f5" stroke-width="1"/>
<line x1="126.58" y1="273.10" x2="126.58" y2="307.60" stroke="#e8e8e8" stroke-width="1" stroke-dasharray="1,2.5"/>
<line x1="141.30" y1="273.10" x2="141.30" y2="307.60" stroke="#f5f5f5" stroke-width="1"/>
<line x1="141.30" y1="273.10" x2="141.30" y2="307.60" stroke="#e8e8e8" stroke-width="1" stroke-dasharray="1,2.5"/>
<line x1="156.02" y1="273.10" x2="156.02" y2="307.60" stroke="#f5f5f5" stroke-width="1"/>
<line x1="156.02" y1="273.10" x2="156.02" y2="307.60" stroke="#e8e8e8" stroke-width="1" stroke-dasharray="1,2.5"/>
<line x1="170.74" y1="273.10" x2="170.74" y2="307.60" stroke="#f5f5f5" stroke-width="1"/>
<line x1="170.74" y1="273.10" x2="170.74" y2="307.60" stroke="#e8e8e8" stroke-width="1" stroke-dasharray="1,2.5"/>
<line x1="185.46" y1="273.10" x2="185.46" y2="307.60" stroke="#f5f5f5" stroke-width="1"/>
<line x1="185.46" y1="273.10" x2="185.46" y2="307.60" stroke="#e8e8e8" stroke-width="1" stroke-dasharray="1,2.5"/>
<line x1="200.18" y1="273.10" x2="200.18" y2="307.60" stroke="#f5f5f5" stroke-width="1"/>
<line x1="200.18" y1="273.10" x2="200.18" y2="307.60" stroke="#e8e8e8" stroke-width="1" stroke-dasharray="1,2.5"/>
<line x1="52.50" y1="277.67" x2="55.20" y2="277.67" stroke="#1a1a1a" stroke-width="1.2"/>
<line x1="212.70" y1="277.67" x2="215.40" y2="277.67" stroke="#1a1a1a" stroke-width="1.2"/>
<line x1="52.50" y1="282.74" x2="55.20" y2="282.74" stroke="#1a1a1a" stroke-width="1.2"/>
<line x1="212.70" y1="282.74" x2="215.40" y2="282.74" stroke="#1a1a1a" stroke-width="1.2"/>
<line x1="52.50" y1="287.81" x2="55.20" y2="287.81" stroke="#1a1a1a" stroke-width="1.2"/>
<line x1="212.70" y1="287.81" x2="215.40" y2="287.81" stroke="#1a1a1a" stroke-width="1.2"/>
<line x1="52.50" y1="292.89" x2="55.20" y2="292.89" stroke="#1a1a1a" stroke-width="1.2"/>
<line x1="212.70" y1="292.89" x2="215.40" y2="292.89" stroke="#1a1a1a" stroke-width="1.2"/>
<line x1="52.50" y1="297.96" x2="55.20" y2="297.96" stroke="#1a1a1a" stroke-width="1.2"/>
<line x1="212.70" y1="297.96" x2="215.40" y2="297.96" stroke="#1a1a1a" stroke-width="1.2"/>
<line x1="52.50" y1="303.03" x2="55.20" y2="303.03" stroke="#1a1a1a" stroke-width="1.2"/>
<line x1="212.70" y1="303.03" x2="215.40" y2="303.03" stroke="#1a1a1a" stroke-width="1.2"/>
<line x1="67.70" y1="272.60" x2="67.70" y2="275.70" stroke="#1a1a1a" stroke-width="1.6"/>
<line x1="67.70" y1="305.00" x2="67.70" y2="308.10" stroke="#1a1a1a" stroke-width="1.6"/>
<line x1="82.42" y1="272.60" x2="82.42" y2="275.70" stroke="#1a1a1a" stroke-width="1.6"/>
<line x1="82.42" y1="305.00" x2="82.42" y2="308.10" stroke="#1a1a1a" stroke-width="1.6"/>
<line x1="97.14" y1="272.60" x2="97.14" y2="275.70" stroke="#1a1a1a" stroke-width="1.6"/>
<line x1="97.14" y1="305.00" x2="97.14" y2="308.10" stroke="#1a1a1a" stroke-width="1.6"/>
<line x1="111.86" y1="272.60" x2="111.86" y2="275.70" stroke="#1a1a1a" stroke-width="1.6"/>
<line x1="111.86" y1="305.00" x2="111.86" y2="308.10" stroke="#1a1a1a" stroke-width="1.6"/>
<line x1="126.58" y1="272.60" x2="126.58" y2="275.70" stroke="#1a1a1a" stroke-width="1.6"/>
<line x1="126.58" y1="305.00" x2="126.58" y2="308.10" stroke="#1a1a1a" stroke-width="1.6"/>
<line x1="141.30" y1="272.60" x2="141.30" y2="275.70" stroke="#1a1a1a" stroke-width="1.6"/>
<line x1="141.30" y1="305.00" x2="141.30" y2="308.10" stroke="#1a1a1a" stroke-width="1.6"/>
<line x1="156.02" y1="272.60" x2="156.02" y2="275.70" stroke="#1a1a1a" stroke-width="1.6"/>
<line x1="156.02" y1="305.00" x2="156.02" y2="308.10" stroke="#1a1a1a" stroke-width="1.6"/>
<line x1="170.74" y1="272.60" x2="170.74" y2="275.70" stroke="#1a1a1a" stroke-width="1.6"/>
<line x1="170.74" y1="305.00" x2="170.74" y2="308.10" stroke="#1a1a1a" stroke-width="1.6"/>
<line x1="185.46" y1="272.60" x2="185.46" y2="275.70" stroke="#1a1a1a" stroke-width="1.6"/>
<line x1="185.46" y1="305.00" x2="185.46" y2="308.10" stroke="#1a1a1a" stroke-width="1.6"/>
<line x1="200.18" y1="272.60" x2="200.18" y2="275.70" stroke="#1a1a1a" stroke-width="1.6"/>
<line x1="200.18" y1="305.00" x2="200.18" y2="308.10" stroke="#1a1a1a" stroke-width="1.6"/>
<line x1="53.10" y1="282.20" x2="214.80" y2="282.20" stroke="#4a4ace" stroke-width="1.35"/>
<line x1="53.10" y1="291.70" x2="214.80" y2="291.70" stroke="#4a4ace" stroke-width="1.35"/>
<line x1="54.00" y1="286.80" x2="214.80" y2="286.80" stroke="#2525b8" stroke-width="1.6" stroke-dasharray="2.7,3.1"/>
<line x1="67.70" y1="273.20" x2="67.70" y2="307.50" stroke="#e9b9c6" stroke-width="1.0"/>
<line x1="67.70" y1="273.20" x2="67.70" y2="307.50" stroke="#b01c40" stroke-width="1.1" stroke-dasharray="1.3,1.5"/>
<polyline points="67.70,286.90 82.42,288.50 97.14,289.30 111.86,290.40 126.58,292.00 141.30,293.40 156.02,294.80 170.74,295.90 185.46,297.10 200.18,298.30" fill="none" stroke="#40a040" stroke-width="1.4" stroke-dasharray="3,3"/>
<circle cx="67.70" cy="286.90" r="3.25" fill="none" stroke="#1e8c1e" stroke-width="1.05"/>
<line x1="67.70" y1="281.90" x2="67.70" y2="291.90" stroke="#1e8c1e" stroke-width="1.1"/>
<line x1="65.70" y1="281.90" x2="69.70" y2="281.90" stroke="#1e8c1e" stroke-width="1.3"/>
<line x1="65.70" y1="291.90" x2="69.70" y2="291.90" stroke="#1e8c1e" stroke-width="1.3"/>
<circle cx="82.42" cy="288.50" r="3.25" fill="none" stroke="#1e8c1e" stroke-width="1.05"/>
<line x1="82.42" y1="283.60" x2="82.42" y2="293.40" stroke="#1e8c1e" stroke-width="1.1"/>
<line x1="80.42" y1="283.60" x2="84.42" y2="283.60" stroke="#1e8c1e" stroke-width="1.3"/>
<line x1="80.42" y1="293.40" x2="84.42" y2="293.40" stroke="#1e8c1e" stroke-width="1.3"/>
<circle cx="97.14" cy="289.30" r="3.25" fill="none" stroke="#1e8c1e" stroke-width="1.05"/>
<line x1="97.14" y1="284.30" x2="97.14" y2="294.30" stroke="#1e8c1e" stroke-width="1.1"/>
<line x1="95.14" y1="284.30" x2="99.14" y2="284.30" stroke="#1e8c1e" stroke-width="1.3"/>
<line x1="95.14" y1="294.30" x2="99.14" y2="294.30" stroke="#1e8c1e" stroke-width="1.3"/>
<circle cx="111.86" cy="290.40" r="3.25" fill="none" stroke="#1e8c1e" stroke-width="1.05"/>
<line x1="111.86" y1="285.50" x2="111.86" y2="295.30" stroke="#1e8c1e" stroke-width="1.1"/>
<line x1="109.86" y1="285.50" x2="113.86" y2="285.50" stroke="#1e8c1e" stroke-width="1.3"/>
<line x1="109.86" y1="295.30" x2="113.86" y2="295.30" stroke="#1e8c1e" stroke-width="1.3"/>
<circle cx="126.58" cy="292.00" r="3.25" fill="none" stroke="#1e8c1e" stroke-width="1.05"/>
<line x1="126.58" y1="287.20" x2="126.58" y2="296.80" stroke="#1e8c1e" stroke-width="1.1"/>
<line x1="124.58" y1="287.20" x2="128.58" y2="287.20" stroke="#1e8c1e" stroke-width="1.3"/>
<line x1="124.58" y1="296.80" x2="128.58" y2="296.80" stroke="#1e8c1e" stroke-width="1.3"/>
<circle cx="141.30" cy="293.40" r="3.25" fill="none" stroke="#1e8c1e" stroke-width="1.05"/>
<line x1="141.30" y1="288.60" x2="141.30" y2="298.20" stroke="#1e8c1e" stroke-width="1.1"/>
<line x1="139.30" y1="288.60" x2="143.30" y2="288.60" stroke="#1e8c1e" stroke-width="1.3"/>
<line x1="139.30" y1="298.20" x2="143.30" y2="298.20" stroke="#1e8c1e" stroke-width="1.3"/>
<circle cx="156.02" cy="294.80" r="3.25" fill="none" stroke="#1e8c1e" stroke-width="1.05"/>
<line x1="156.02" y1="289.80" x2="156.02" y2="299.80" stroke="#1e8c1e" stroke-width="1.1"/>
<line x1="154.02" y1="289.80" x2="158.02" y2="289.80" stroke="#1e8c1e" stroke-width="1.3"/>
<line x1="154.02" y1="299.80" x2="158.02" y2="299.80" stroke="#1e8c1e" stroke-width="1.3"/>
<circle cx="170.74" cy="295.90" r="3.25" fill="none" stroke="#1e8c1e" stroke-width="1.05"/>
<line x1="170.74" y1="290.70" x2="170.74" y2="301.10" stroke="#1e8c1e" stroke-width="1.1"/>
<line x1="168.74" y1="290.70" x2="172.74" y2="290.70" stroke="#1e8c1e" stroke-width="1.3"/>
<line x1="168.74" y1="301.10" x2="172.74" y2="301.10" stroke="#1e8c1e" stroke-width="1.3"/>
<circle cx="185.46" cy="297.10" r="3.25" fill="none" stroke="#1e8c1e" stroke-width="1.05"/>
<line x1="185.46" y1="291.30" x2="185.46" y2="302.90" stroke="#1e8c1e" stroke-width="1.1"/>
<line x1="183.46" y1="291.30" x2="187.46" y2="291.30" stroke="#1e8c1e" stroke-width="1.3"/>
<line x1="183.46" y1="302.90" x2="187.46" y2="302.90" stroke="#1e8c1e" stroke-width="1.3"/>
<circle cx="200.18" cy="298.30" r="3.25" fill="none" stroke="#1e8c1e" stroke-width="1.05"/>
<line x1="200.18" y1="291.90" x2="200.18" y2="304.70" stroke="#1e8c1e" stroke-width="1.1"/>
<line x1="198.18" y1="291.90" x2="202.18" y2="291.90" stroke="#1e8c1e" stroke-width="1.3"/>
<line x1="198.18" y1="304.70" x2="202.18" y2="304.70" stroke="#1e8c1e" stroke-width="1.3"/>
<rect x="52.50" y="272.60" width="162.90" height="35.50" fill="none" stroke="#1a1a1a" stroke-width="1.4"/>
<line x1="227.90" y1="277.67" x2="367.00" y2="277.67" stroke="#f5f5f5" stroke-width="1"/>
<line x1="227.90" y1="277.67" x2="367.00" y2="277.67" stroke="#e8e8e8" stroke-width="1" stroke-dasharray="1,2.5"/>
<line x1="227.90" y1="282.74" x2="367.00" y2="282.74" stroke="#f5f5f5" stroke-width="1"/>
<line x1="227.90" y1="282.74" x2="367.00" y2="282.74" stroke="#e8e8e8" stroke-width="1" stroke-dasharray="1,2.5"/>
<line x1="227.90" y1="287.81" x2="367.00" y2="287.81" stroke="#f5f5f5" stroke-width="1"/>
<line x1="227.90" y1="287.81" x2="367.00" y2="287.81" stroke="#e8e8e8" stroke-width="1" stroke-dasharray="1,2.5"/>
<line x1="227.90" y1="292.89" x2="367.00" y2="292.89" stroke="#f5f5f5" stroke-width="1"/>
<line x1="227.90" y1="292.89" x2="367.00" y2="292.89" stroke="#e8e8e8" stroke-width="1" stroke-dasharray="1,2.5"/>
<line x1="227.90" y1="297.96" x2="367.00" y2="297.96" stroke="#f5f5f5" stroke-width="1"/>
<line x1="227.90" y1="297.96" x2="367.00" y2="297.96" stroke="#e8e8e8" stroke-width="1" stroke-dasharray="1,2.5"/>
<line x1="227.90" y1="303.03" x2="367.00" y2="303.03" stroke="#f5f5f5" stroke-width="1"/>
<line x1="227.90" y1="303.03" x2="367.00" y2="303.03" stroke="#e8e8e8" stroke-width="1" stroke-dasharray="1,2.5"/>
<line x1="255.30" y1="273.10" x2="255.30" y2="307.60" stroke="#f5f5f5" stroke-width="1"/>
<line x1="255.30" y1="273.10" x2="255.30" y2="307.60" stroke="#e8e8e8" stroke-width="1" stroke-dasharray="1,2.5"/>
<line x1="283.40" y1="273.10" x2="283.40" y2="307.60" stroke="#f5f5f5" stroke-width="1"/>
<line x1="283.40" y1="273.10" x2="283.40" y2="307.60" stroke="#e8e8e8" stroke-width="1" stroke-dasharray="1,2.5"/>
<line x1="311.40" y1="273.10" x2="311.40" y2="307.60" stroke="#f5f5f5" stroke-width="1"/>
<line x1="311.40" y1="273.10" x2="311.40" y2="307.60" stroke="#e8e8e8" stroke-width="1" stroke-dasharray="1,2.5"/>
<line x1="339.50" y1="273.10" x2="339.50" y2="307.60" stroke="#f5f5f5" stroke-width="1"/>
<line x1="339.50" y1="273.10" x2="339.50" y2="307.60" stroke="#e8e8e8" stroke-width="1" stroke-dasharray="1,2.5"/>
<line x1="227.40" y1="277.67" x2="230.10" y2="277.67" stroke="#1a1a1a" stroke-width="1.2"/>
<line x1="364.80" y1="277.67" x2="367.50" y2="277.67" stroke="#1a1a1a" stroke-width="1.2"/>
<line x1="227.40" y1="282.74" x2="230.10" y2="282.74" stroke="#1a1a1a" stroke-width="1.2"/>
<line x1="364.80" y1="282.74" x2="367.50" y2="282.74" stroke="#1a1a1a" stroke-width="1.2"/>
<line x1="227.40" y1="287.81" x2="230.10" y2="287.81" stroke="#1a1a1a" stroke-width="1.2"/>
<line x1="364.80" y1="287.81" x2="367.50" y2="287.81" stroke="#1a1a1a" stroke-width="1.2"/>
<line x1="227.40" y1="292.89" x2="230.10" y2="292.89" stroke="#1a1a1a" stroke-width="1.2"/>
<line x1="364.80" y1="292.89" x2="367.50" y2="292.89" stroke="#1a1a1a" stroke-width="1.2"/>
<line x1="227.40" y1="297.96" x2="230.10" y2="297.96" stroke="#1a1a1a" stroke-width="1.2"/>
<line x1="364.80" y1="297.96" x2="367.50" y2="297.96" stroke="#1a1a1a" stroke-width="1.2"/>
<line x1="227.40" y1="303.03" x2="230.10" y2="303.03" stroke="#1a1a1a" stroke-width="1.2"/>
<line x1="364.80" y1="303.03" x2="367.50" y2="303.03" stroke="#1a1a1a" stroke-width="1.2"/>
<line x1="255.30" y1="272.60" x2="255.30" y2="275.70" stroke="#1a1a1a" stroke-width="1.6"/>
<line x1="255.30" y1="305.00" x2="255.30" y2="308.10" stroke="#1a1a1a" stroke-width="1.6"/>
<line x1="283.40" y1="272.60" x2="283.40" y2="275.70" stroke="#1a1a1a" stroke-width="1.6"/>
<line x1="283.40" y1="305.00" x2="283.40" y2="308.10" stroke="#1a1a1a" stroke-width="1.6"/>
<line x1="311.40" y1="272.60" x2="311.40" y2="275.70" stroke="#1a1a1a" stroke-width="1.6"/>
<line x1="311.40" y1="305.00" x2="311.40" y2="308.10" stroke="#1a1a1a" stroke-width="1.6"/>
<line x1="339.50" y1="272.60" x2="339.50" y2="275.70" stroke="#1a1a1a" stroke-width="1.6"/>
<line x1="339.50" y1="305.00" x2="339.50" y2="308.10" stroke="#1a1a1a" stroke-width="1.6"/>
<line x1="228.00" y1="282.20" x2="366.90" y2="282.20" stroke="#4a4ace" stroke-width="1.35"/>
<line x1="228.00" y1="291.70" x2="366.90" y2="291.70" stroke="#4a4ace" stroke-width="1.35"/>
<line x1="228.90" y1="286.80" x2="366.90" y2="286.80" stroke="#2525b8" stroke-width="1.6" stroke-dasharray="2.7,3.1"/>
<line x1="339.50" y1="273.20" x2="339.50" y2="307.50" stroke="#e9b9c6" stroke-width="1.0"/>
<line x1="339.50" y1="273.20" x2="339.50" y2="307.50" stroke="#b01c40" stroke-width="1.1" stroke-dasharray="1.3,1.5"/>
<polyline points="255.30,286.60 283.40,286.60 311.40,286.60 339.50,286.80" fill="none" stroke="#40a040" stroke-width="1.4" stroke-dasharray="3,3"/>
<circle cx="255.30" cy="286.60" r="3.25" fill="none" stroke="#1e8c1e" stroke-width="1.05"/>
<line x1="255.30" y1="282.20" x2="255.30" y2="291.00" stroke="#1e8c1e" stroke-width="1.1"/>
<line x1="251.80" y1="282.20" x2="258.80" y2="282.20" stroke="#1e8c1e" stroke-width="1.3"/>
<line x1="251.80" y1="291.00" x2="258.80" y2="291.00" stroke="#1e8c1e" stroke-width="1.3"/>
<circle cx="283.40" cy="286.60" r="3.25" fill="none" stroke="#1e8c1e" stroke-width="1.05"/>
<line x1="283.40" y1="283.10" x2="283.40" y2="290.10" stroke="#1e8c1e" stroke-width="1.1"/>
<line x1="279.90" y1="283.10" x2="286.90" y2="283.10" stroke="#1e8c1e" stroke-width="1.3"/>
<line x1="279.90" y1="290.10" x2="286.90" y2="290.10" stroke="#1e8c1e" stroke-width="1.3"/>
<circle cx="311.40" cy="286.60" r="3.25" fill="none" stroke="#1e8c1e" stroke-width="1.05"/>
<line x1="311.40" y1="283.10" x2="311.40" y2="290.10" stroke="#1e8c1e" stroke-width="1.1"/>
<line x1="307.90" y1="283.10" x2="314.90" y2="283.10" stroke="#1e8c1e" stroke-width="1.3"/>
<line x1="307.90" y1="290.10" x2="314.90" y2="290.10" stroke="#1e8c1e" stroke-width="1.3"/>
<circle cx="339.50" cy="286.80" r="3.25" fill="none" stroke="#1e8c1e" stroke-width="1.05"/>
<line x1="339.50" y1="282.30" x2="339.50" y2="291.30" stroke="#1e8c1e" stroke-width="1.1"/>
<line x1="336.00" y1="282.30" x2="343.00" y2="282.30" stroke="#1e8c1e" stroke-width="1.3"/>
<line x1="336.00" y1="291.30" x2="343.00" y2="291.30" stroke="#1e8c1e" stroke-width="1.3"/>
<rect x="227.40" y="272.60" width="140.10" height="35.50" fill="none" stroke="#1a1a1a" stroke-width="1.4"/>
<text x="45.60" y="277.25" text-anchor="end" font-size="13.3">2.20</text>
<text x="45.60" y="291.75" text-anchor="end" font-size="13.3" clip-path="url(#c54)">1.63</text>
<text x="45.60" y="312.75" text-anchor="end" font-size="13.3">0.80</text>
<line x1="410.10" y1="277.67" x2="563.80" y2="277.67" stroke="#f5f5f5" stroke-width="1"/>
<line x1="410.10" y1="277.67" x2="563.80" y2="277.67" stroke="#e8e8e8" stroke-width="1" stroke-dasharray="1,2.5"/>
<line x1="410.10" y1="282.74" x2="563.80" y2="282.74" stroke="#f5f5f5" stroke-width="1"/>
<line x1="410.10" y1="282.74" x2="563.80" y2="282.74" stroke="#e8e8e8" stroke-width="1" stroke-dasharray="1,2.5"/>
<line x1="410.10" y1="287.81" x2="563.80" y2="287.81" stroke="#f5f5f5" stroke-width="1"/>
<line x1="410.10" y1="287.81" x2="563.80" y2="287.81" stroke="#e8e8e8" stroke-width="1" stroke-dasharray="1,2.5"/>
<line x1="410.10" y1="292.89" x2="563.80" y2="292.89" stroke="#f5f5f5" stroke-width="1"/>
<line x1="410.10" y1="292.89" x2="563.80" y2="292.89" stroke="#e8e8e8" stroke-width="1" stroke-dasharray="1,2.5"/>
<line x1="410.10" y1="297.96" x2="563.80" y2="297.96" stroke="#f5f5f5" stroke-width="1"/>
<line x1="410.10" y1="297.96" x2="563.80" y2="297.96" stroke="#e8e8e8" stroke-width="1" stroke-dasharray="1,2.5"/>
<line x1="410.10" y1="303.03" x2="563.80" y2="303.03" stroke="#f5f5f5" stroke-width="1"/>
<line x1="410.10" y1="303.03" x2="563.80" y2="303.03" stroke="#e8e8e8" stroke-width="1" stroke-dasharray="1,2.5"/>
<line x1="438.00" y1="273.10" x2="438.00" y2="307.60" stroke="#f5f5f5" stroke-width="1"/>
<line x1="438.00" y1="273.10" x2="438.00" y2="307.60" stroke="#e8e8e8" stroke-width="1" stroke-dasharray="1,2.5"/>
<line x1="466.20" y1="273.10" x2="466.20" y2="307.60" stroke="#f5f5f5" stroke-width="1"/>
<line x1="466.20" y1="273.10" x2="466.20" y2="307.60" stroke="#e8e8e8" stroke-width="1" stroke-dasharray="1,2.5"/>
<line x1="494.40" y1="273.10" x2="494.40" y2="307.60" stroke="#f5f5f5" stroke-width="1"/>
<line x1="494.40" y1="273.10" x2="494.40" y2="307.60" stroke="#e8e8e8" stroke-width="1" stroke-dasharray="1,2.5"/>
<line x1="522.60" y1="273.10" x2="522.60" y2="307.60" stroke="#f5f5f5" stroke-width="1"/>
<line x1="522.60" y1="273.10" x2="522.60" y2="307.60" stroke="#e8e8e8" stroke-width="1" stroke-dasharray="1,2.5"/>
<line x1="550.60" y1="273.10" x2="550.60" y2="307.60" stroke="#f5f5f5" stroke-width="1"/>
<line x1="550.60" y1="273.10" x2="550.60" y2="307.60" stroke="#e8e8e8" stroke-width="1" stroke-dasharray="1,2.5"/>
<line x1="409.60" y1="277.67" x2="412.30" y2="277.67" stroke="#1a1a1a" stroke-width="1.2"/>
<line x1="561.60" y1="277.67" x2="564.30" y2="277.67" stroke="#1a1a1a" stroke-width="1.2"/>
<line x1="409.60" y1="282.74" x2="412.30" y2="282.74" stroke="#1a1a1a" stroke-width="1.2"/>
<line x1="561.60" y1="282.74" x2="564.30" y2="282.74" stroke="#1a1a1a" stroke-width="1.2"/>
<line x1="409.60" y1="287.81" x2="412.30" y2="287.81" stroke="#1a1a1a" stroke-width="1.2"/>
<line x1="561.60" y1="287.81" x2="564.30" y2="287.81" stroke="#1a1a1a" stroke-width="1.2"/>
<line x1="409.60" y1="292.89" x2="412.30" y2="292.89" stroke="#1a1a1a" stroke-width="1.2"/>
<line x1="561.60" y1="292.89" x2="564.30" y2="292.89" stroke="#1a1a1a" stroke-width="1.2"/>
<line x1="409.60" y1="297.96" x2="412.30" y2="297.96" stroke="#1a1a1a" stroke-width="1.2"/>
<line x1="561.60" y1="297.96" x2="564.30" y2="297.96" stroke="#1a1a1a" stroke-width="1.2"/>
<line x1="409.60" y1="303.03" x2="412.30" y2="303.03" stroke="#1a1a1a" stroke-width="1.2"/>
<line x1="561.60" y1="303.03" x2="564.30" y2="303.03" stroke="#1a1a1a" stroke-width="1.2"/>
<line x1="438.00" y1="272.60" x2="438.00" y2="275.70" stroke="#1a1a1a" stroke-width="1.6"/>
<line x1="438.00" y1="305.00" x2="438.00" y2="308.10" stroke="#1a1a1a" stroke-width="1.6"/>
<line x1="466.20" y1="272.60" x2="466.20" y2="275.70" stroke="#1a1a1a" stroke-width="1.6"/>
<line x1="466.20" y1="305.00" x2="466.20" y2="308.10" stroke="#1a1a1a" stroke-width="1.6"/>
<line x1="494.40" y1="272.60" x2="494.40" y2="275.70" stroke="#1a1a1a" stroke-width="1.6"/>
<line x1="494.40" y1="305.00" x2="494.40" y2="308.10" stroke="#1a1a1a" stroke-width="1.6"/>
<line x1="522.60" y1="272.60" x2="522.60" y2="275.70" stroke="#1a1a1a" stroke-width="1.6"/>
<line x1="522.60" y1="305.00" x2="522.60" y2="308.10" stroke="#1a1a1a" stroke-width="1.6"/>
<line x1="550.60" y1="272.60" x2="550.60" y2="275.70" stroke="#1a1a1a" stroke-width="1.6"/>
<line x1="550.60" y1="305.00" x2="550.60" y2="308.10" stroke="#1a1a1a" stroke-width="1.6"/>
<line x1="416.40" y1="307.60" x2="416.40" y2="301.80" stroke="#40a040" stroke-width="1.35" stroke-dasharray="3.4,2.8"/>
<line x1="416.40" y1="301.80" x2="556.70" y2="279.40" stroke="#40a040" stroke-width="1.35" stroke-dasharray="3.4,2.8"/>
<line x1="556.70" y1="279.40" x2="556.70" y2="273.60" stroke="#40a040" stroke-width="1.35" stroke-dasharray="3.4,2.8"/>
<rect x="409.60" y="272.60" width="154.70" height="35.50" fill="none" stroke="#1a1a1a" stroke-width="1.4"/>
<text x="416.80" y="298.20" text-anchor="middle" font-size="13.3">0</text>
<text x="486.50" y="287.00" text-anchor="middle" font-size="13.3">0.5</text>
<text x="556.70" y="275.20" text-anchor="middle" font-size="13.3" clip-path="url(#c58)">1</text>
<text x="571.30" y="283.75" text-anchor="start" font-size="13.3" clip-path="url(#c59)">1.96</text>
<text x="571.30" y="294.85" text-anchor="start" font-size="13.3" clip-path="url(#c60)">1.50</text>
<text x="571.30" y="306.15" text-anchor="start" font-size="13.3" clip-path="url(#c61)">1.05</text>
<text transform="translate(632.40,289.00) rotate(-90)" text-anchor="middle" font-size="13.3">Na</text>
<text transform="translate(649.00,289.50) rotate(-90)" text-anchor="middle" font-size="13.3">(%)</text>
<line x1="53.00" y1="336.37" x2="214.90" y2="336.37" stroke="#f5f5f5" stroke-width="1"/>
<line x1="53.00" y1="336.37" x2="214.90" y2="336.37" stroke="#e8e8e8" stroke-width="1" stroke-dasharray="1,2.5"/>
<line x1="53.00" y1="341.44" x2="214.90" y2="341.44" stroke="#f5f5f5" stroke-width="1"/>
<line x1="53.00" y1="341.44" x2="214.90" y2="341.44" stroke="#e8e8e8" stroke-width="1" stroke-dasharray="1,2.5"/>
<line x1="53.00" y1="346.51" x2="214.90" y2="346.51" stroke="#f5f5f5" stroke-width="1"/>
<line x1="53.00" y1="346.51" x2="214.90" y2="346.51" stroke="#e8e8e8" stroke-width="1" stroke-dasharray="1,2.5"/>
<line x1="53.00" y1="351.59" x2="214.90" y2="351.59" stroke="#f5f5f5" stroke-width="1"/>
<line x1="53.00" y1="351.59" x2="214.90" y2="351.59" stroke="#e8e8e8" stroke-width="1" stroke-dasharray="1,2.5"/>
<line x1="53.00" y1="356.66" x2="214.90" y2="356.66" stroke="#f5f5f5" stroke-width="1"/>
<line x1="53.00" y1="356.66" x2="214.90" y2="356.66" stroke="#e8e8e8" stroke-width="1" stroke-dasharray="1,2.5"/>
<line x1="53.00" y1="361.73" x2="214.90" y2="361.73" stroke="#f5f5f5" stroke-width="1"/>
<line x1="53.00" y1="361.73" x2="214.90" y2="361.73" stroke="#e8e8e8" stroke-width="1" stroke-dasharray="1,2.5"/>
<line x1="67.70" y1="331.80" x2="67.70" y2="366.30" stroke="#f5f5f5" stroke-width="1"/>
<line x1="67.70" y1="331.80" x2="67.70" y2="366.30" stroke="#e8e8e8" stroke-width="1" stroke-dasharray="1,2.5"/>
<line x1="82.42" y1="331.80" x2="82.42" y2="366.30" stroke="#f5f5f5" stroke-width="1"/>
<line x1="82.42" y1="331.80" x2="82.42" y2="366.30" stroke="#e8e8e8" stroke-width="1" stroke-dasharray="1,2.5"/>
<line x1="97.14" y1="331.80" x2="97.14" y2="366.30" stroke="#f5f5f5" stroke-width="1"/>
<line x1="97.14" y1="331.80" x2="97.14" y2="366.30" stroke="#e8e8e8" stroke-width="1" stroke-dasharray="1,2.5"/>
<line x1="111.86" y1="331.80" x2="111.86" y2="366.30" stroke="#f5f5f5" stroke-width="1"/>
<line x1="111.86" y1="331.80" x2="111.86" y2="366.30" stroke="#e8e8e8" stroke-width="1" stroke-dasharray="1,2.5"/>
<line x1="126.58" y1="331.80" x2="126.58" y2="366.30" stroke="#f5f5f5" stroke-width="1"/>
<line x1="126.58" y1="331.80" x2="126.58" y2="366.30" stroke="#e8e8e8" stroke-width="1" stroke-dasharray="1,2.5"/>
<line x1="141.30" y1="331.80" x2="141.30" y2="366.30" stroke="#f5f5f5" stroke-width="1"/>
<line x1="141.30" y1="331.80" x2="141.30" y2="366.30" stroke="#e8e8e8" stroke-width="1" stroke-dasharray="1,2.5"/>
<line x1="156.02" y1="331.80" x2="156.02" y2="366.30" stroke="#f5f5f5" stroke-width="1"/>
<line x1="156.02" y1="331.80" x2="156.02" y2="366.30" stroke="#e8e8e8" stroke-width="1" stroke-dasharray="1,2.5"/>
<line x1="170.74" y1="331.80" x2="170.74" y2="366.30" stroke="#f5f5f5" stroke-width="1"/>
<line x1="170.74" y1="331.80" x2="170.74" y2="366.30" stroke="#e8e8e8" stroke-width="1" stroke-dasharray="1,2.5"/>
<line x1="185.46" y1="331.80" x2="185.46" y2="366.30" stroke="#f5f5f5" stroke-width="1"/>
<line x1="185.46" y1="331.80" x2="185.46" y2="366.30" stroke="#e8e8e8" stroke-width="1" stroke-dasharray="1,2.5"/>
<line x1="200.18" y1="331.80" x2="200.18" y2="366.30" stroke="#f5f5f5" stroke-width="1"/>
<line x1="200.18" y1="331.80" x2="200.18" y2="366.30" stroke="#e8e8e8" stroke-width="1" stroke-dasharray="1,2.5"/>
<line x1="52.50" y1="336.37" x2="55.20" y2="336.37" stroke="#1a1a1a" stroke-width="1.2"/>
<line x1="212.70" y1="336.37" x2="215.40" y2="336.37" stroke="#1a1a1a" stroke-width="1.2"/>
<line x1="52.50" y1="341.44" x2="55.20" y2="341.44" stroke="#1a1a1a" stroke-width="1.2"/>
<line x1="212.70" y1="341.44" x2="215.40" y2="341.44" stroke="#1a1a1a" stroke-width="1.2"/>
<line x1="52.50" y1="346.51" x2="55.20" y2="346.51" stroke="#1a1a1a" stroke-width="1.2"/>
<line x1="212.70" y1="346.51" x2="215.40" y2="346.51" stroke="#1a1a1a" stroke-width="1.2"/>
<line x1="52.50" y1="351.59" x2="55.20" y2="351.59" stroke="#1a1a1a" stroke-width="1.2"/>
<line x1="212.70" y1="351.59" x2="215.40" y2="351.59" stroke="#1a1a1a" stroke-width="1.2"/>
<line x1="52.50" y1="356.66" x2="55.20" y2="356.66" stroke="#1a1a1a" stroke-width="1.2"/>
<line x1="212.70" y1="356.66" x2="215.40" y2="356.66" stroke="#1a1a1a" stroke-width="1.2"/>
<line x1="52.50" y1="361.73" x2="55.20" y2="361.73" stroke="#1a1a1a" stroke-width="1.2"/>
<line x1="212.70" y1="361.73" x2="215.40" y2="361.73" stroke="#1a1a1a" stroke-width="1.2"/>
<line x1="67.70" y1="331.30" x2="67.70" y2="334.40" stroke="#1a1a1a" stroke-width="1.6"/>
<line x1="67.70" y1="363.70" x2="67.70" y2="366.80" stroke="#1a1a1a" stroke-width="1.6"/>
<line x1="82.42" y1="331.30" x2="82.42" y2="334.40" stroke="#1a1a1a" stroke-width="1.6"/>
<line x1="82.42" y1="363.70" x2="82.42" y2="366.80" stroke="#1a1a1a" stroke-width="1.6"/>
<line x1="97.14" y1="331.30" x2="97.14" y2="334.40" stroke="#1a1a1a" stroke-width="1.6"/>
<line x1="97.14" y1="363.70" x2="97.14" y2="366.80" stroke="#1a1a1a" stroke-width="1.6"/>
<line x1="111.86" y1="331.30" x2="111.86" y2="334.40" stroke="#1a1a1a" stroke-width="1.6"/>
<line x1="111.86" y1="363.70" x2="111.86" y2="366.80" stroke="#1a1a1a" stroke-width="1.6"/>
<line x1="126.58" y1="331.30" x2="126.58" y2="334.40" stroke="#1a1a1a" stroke-width="1.6"/>
<line x1="126.58" y1="363.70" x2="126.58" y2="366.80" stroke="#1a1a1a" stroke-width="1.6"/>
<line x1="141.30" y1="331.30" x2="141.30" y2="334.40" stroke="#1a1a1a" stroke-width="1.6"/>
<line x1="141.30" y1="363.70" x2="141.30" y2="366.80" stroke="#1a1a1a" stroke-width="1.6"/>
<line x1="156.02" y1="331.30" x2="156.02" y2="334.40" stroke="#1a1a1a" stroke-width="1.6"/>
<line x1="156.02" y1="363.70" x2="156.02" y2="366.80" stroke="#1a1a1a" stroke-width="1.6"/>
<line x1="170.74" y1="331.30" x2="170.74" y2="334.40" stroke="#1a1a1a" stroke-width="1.6"/>
<line x1="170.74" y1="363.70" x2="170.74" y2="366.80" stroke="#1a1a1a" stroke-width="1.6"/>
<line x1="185.46" y1="331.30" x2="185.46" y2="334.40" stroke="#1a1a1a" stroke-width="1.6"/>
<line x1="185.46" y1="363.70" x2="185.46" y2="366.80" stroke="#1a1a1a" stroke-width="1.6"/>
<line x1="200.18" y1="331.30" x2="200.18" y2="334.40" stroke="#1a1a1a" stroke-width="1.6"/>
<line x1="200.18" y1="363.70" x2="200.18" y2="366.80" stroke="#1a1a1a" stroke-width="1.6"/>
<line x1="53.10" y1="338.80" x2="214.80" y2="338.80" stroke="#4a4ace" stroke-width="1.35"/>
<line x1="53.10" y1="349.70" x2="214.80" y2="349.70" stroke="#4a4ace" stroke-width="1.35"/>
<line x1="54.00" y1="344.20" x2="214.80" y2="344.20" stroke="#2525b8" stroke-width="1.6" stroke-dasharray="2.7,3.1"/>
<line x1="67.70" y1="331.90" x2="67.70" y2="366.20" stroke="#e9b9c6" stroke-width="1.0"/>
<line x1="67.70" y1="331.90" x2="67.70" y2="366.20" stroke="#b01c40" stroke-width="1.1" stroke-dasharray="1.3,1.5"/>
<polyline points="67.70,344.30 82.42,345.20 97.14,346.10 111.86,346.90 126.58,347.80 141.30,348.50 156.02,349.30 170.74,350.10 185.46,351.00 200.18,352.00" fill="none" stroke="#40a040" stroke-width="1.4" stroke-dasharray="3,3"/>
<circle cx="67.70" cy="344.30" r="3.25" fill="none" stroke="#1e8c1e" stroke-width="1.05"/>
<line x1="67.70" y1="338.80" x2="67.70" y2="349.80" stroke="#1e8c1e" stroke-width="1.1"/>
<line x1="65.70" y1="338.80" x2="69.70" y2="338.80" stroke="#1e8c1e" stroke-width="1.3"/>
<line x1="65.70" y1="349.80" x2="69.70" y2="349.80" stroke="#1e8c1e" stroke-width="1.3"/>
<circle cx="82.42" cy="345.20" r="3.25" fill="none" stroke="#1e8c1e" stroke-width="1.05"/>
<line x1="82.42" y1="340.00" x2="82.42" y2="350.40" stroke="#1e8c1e" stroke-width="1.1"/>
<line x1="80.42" y1="340.00" x2="84.42" y2="340.00" stroke="#1e8c1e" stroke-width="1.3"/>
<line x1="80.42" y1="350.40" x2="84.42" y2="350.40" stroke="#1e8c1e" stroke-width="1.3"/>
<circle cx="97.14" cy="346.10" r="3.25" fill="none" stroke="#1e8c1e" stroke-width="1.05"/>
<line x1="97.14" y1="341.10" x2="97.14" y2="351.10" stroke="#1e8c1e" stroke-width="1.1"/>
<line x1="95.14" y1="341.10" x2="99.14" y2="341.10" stroke="#1e8c1e" stroke-width="1.3"/>
<line x1="95.14" y1="351.10" x2="99.14" y2="351.10" stroke="#1e8c1e" stroke-width="1.3"/>
<circle cx="111.86" cy="346.90" r="3.25" fill="none" stroke="#1e8c1e" stroke-width="1.05"/>
<line x1="111.86" y1="341.70" x2="111.86" y2="352.10" stroke="#1e8c1e" stroke-width="1.1"/>
<line x1="109.86" y1="341.70" x2="113.86" y2="341.70" stroke="#1e8c1e" stroke-width="1.3"/>
<line x1="109.86" y1="352.10" x2="113.86" y2="352.10" stroke="#1e8c1e" stroke-width="1.3"/>
<circle cx="126.58" cy="347.80" r="3.25" fill="none" stroke="#1e8c1e" stroke-width="1.05"/>
<line x1="126.58" y1="342.80" x2="126.58" y2="352.80" stroke="#1e8c1e" stroke-width="1.1"/>
<line x1="124.58" y1="342.80" x2="128.58" y2="342.80" stroke="#1e8c1e" stroke-width="1.3"/>
<line x1="124.58" y1="352.80" x2="128.58" y2="352.80" stroke="#1e8c1e" stroke-width="1.3"/>
<circle cx="141.30" cy="348.50" r="3.25" fill="none" stroke="#1e8c1e" stroke-width="1.05"/>
<line x1="141.30" y1="343.20" x2="141.30" y2="353.80" stroke="#1e8c1e" stroke-width="1.1"/>
<line x1="139.30" y1="343.20" x2="143.30" y2="343.20" stroke="#1e8c1e" stroke-width="1.3"/>
<line x1="139.30" y1="353.80" x2="143.30" y2="353.80" stroke="#1e8c1e" stroke-width="1.3"/>
<circle cx="156.02" cy="349.30" r="3.25" fill="none" stroke="#1e8c1e" stroke-width="1.05"/>
<line x1="156.02" y1="343.80" x2="156.02" y2="354.80" stroke="#1e8c1e" stroke-width="1.1"/>
<line x1="154.02" y1="343.80" x2="158.02" y2="343.80" stroke="#1e8c1e" stroke-width="1.3"/>
<line x1="154.02" y1="354.80" x2="158.02" y2="354.80" stroke="#1e8c1e" stroke-width="1.3"/>
<circle cx="170.74" cy="350.10" r="3.25" fill="none" stroke="#1e8c1e" stroke-width="1.05"/>
<line x1="170.74" y1="344.10" x2="170.74" y2="356.10" stroke="#1e8c1e" stroke-width="1.1"/>
<line x1="168.74" y1="344.10" x2="172.74" y2="344.10" stroke="#1e8c1e" stroke-width="1.3"/>
<line x1="168.74" y1="356.10" x2="172.74" y2="356.10" stroke="#1e8c1e" stroke-width="1.3"/>
<circle cx="185.46" cy="351.00" r="3.25" fill="none" stroke="#1e8c1e" stroke-width="1.05"/>
<line x1="185.46" y1="344.60" x2="185.46" y2="357.40" stroke="#1e8c1e" stroke-width="1.1"/>
<line x1="183.46" y1="344.60" x2="187.46" y2="344.60" stroke="#1e8c1e" stroke-width="1.3"/>
<line x1="183.46" y1="357.40" x2="187.46" y2="357.40" stroke="#1e8c1e" stroke-width="1.3"/>
<circle cx="200.18" cy="352.00" r="3.25" fill="none" stroke="#1e8c1e" stroke-width="1.05"/>
<line x1="200.18" y1="345.00" x2="200.18" y2="359.00" stroke="#1e8c1e" stroke-width="1.1"/>
<line x1="198.18" y1="345.00" x2="202.18" y2="345.00" stroke="#1e8c1e" stroke-width="1.3"/>
<line x1="198.18" y1="359.00" x2="202.18" y2="359.00" stroke="#1e8c1e" stroke-width="1.3"/>
<rect x="52.50" y="331.30" width="162.90" height="35.50" fill="none" stroke="#1a1a1a" stroke-width="1.4"/>
<line x1="227.90" y1="336.37" x2="367.00" y2="336.37" stroke="#f5f5f5" stroke-width="1"/>
<line x1="227.90" y1="336.37" x2="367.00" y2="336.37" stroke="#e8e8e8" stroke-width="1" stroke-dasharray="1,2.5"/>
<line x1="227.90" y1="341.44" x2="367.00" y2="341.44" stroke="#f5f5f5" stroke-width="1"/>
<line x1="227.90" y1="341.44" x2="367.00" y2="341.44" stroke="#e8e8e8" stroke-width="1" stroke-dasharray="1,2.5"/>
<line x1="227.90" y1="346.51" x2="367.00" y2="346.51" stroke="#f5f5f5" stroke-width="1"/>
<line x1="227.90" y1="346.51" x2="367.00" y2="346.51" stroke="#e8e8e8" stroke-width="1" stroke-dasharray="1,2.5"/>
<line x1="227.90" y1="351.59" x2="367.00" y2="351.59" stroke="#f5f5f5" stroke-width="1"/>
<line x1="227.90" y1="351.59" x2="367.00" y2="351.59" stroke="#e8e8e8" stroke-width="1" stroke-dasharray="1,2.5"/>
<line x1="227.90" y1="356.66" x2="367.00" y2="356.66" stroke="#f5f5f5" stroke-width="1"/>
<line x1="227.90" y1="356.66" x2="367.00" y2="356.66" stroke="#e8e8e8" stroke-width="1" stroke-dasharray="1,2.5"/>
<line x1="227.90" y1="361.73" x2="367.00" y2="361.73" stroke="#f5f5f5" stroke-width="1"/>
<line x1="227.90" y1="361.73" x2="367.00" y2="361.73" stroke="#e8e8e8" stroke-width="1" stroke-dasharray="1,2.5"/>
<line x1="255.30" y1="331.80" x2="255.30" y2="366.30" stroke="#f5f5f5" stroke-width="1"/>
<line x1="255.30" y1="331.80" x2="255.30" y2="366.30" stroke="#e8e8e8" stroke-width="1" stroke-dasharray="1,2.5"/>
<line x1="283.40" y1="331.80" x2="283.40" y2="366.30" stroke="#f5f5f5" stroke-width="1"/>
<line x1="283.40" y1="331.80" x2="283.40" y2="366.30" stroke="#e8e8e8" stroke-width="1" stroke-dasharray="1,2.5"/>
<line x1="311.40" y1="331.80" x2="311.40" y2="366.30" stroke="#f5f5f5" stroke-width="1"/>
<line x1="311.40" y1="331.80" x2="311.40" y2="366.30" stroke="#e8e8e8" stroke-width="1" stroke-dasharray="1,2.5"/>
<line x1="339.50" y1="331.80" x2="339.50" y2="366.30" stroke="#f5f5f5" stroke-width="1"/>
<line x1="339.50" y1="331.80" x2="339.50" y2="366.30" stroke="#e8e8e8" stroke-width="1" stroke-dasharray="1,2.5"/>
<line x1="227.40" y1="336.37" x2="230.10" y2="336.37" stroke="#1a1a1a" stroke-width="1.2"/>
<line x1="364.80" y1="336.37" x2="367.50" y2="336.37" stroke="#1a1a1a" stroke-width="1.2"/>
<line x1="227.40" y1="341.44" x2="230.10" y2="341.44" stroke="#1a1a1a" stroke-width="1.2"/>
<line x1="364.80" y1="341.44" x2="367.50" y2="341.44" stroke="#1a1a1a" stroke-width="1.2"/>
<line x1="227.40" y1="346.51" x2="230.10" y2="346.51" stroke="#1a1a1a" stroke-width="1.2"/>
<line x1="364.80" y1="346.51" x2="367.50" y2="346.51" stroke="#1a1a1a" stroke-width="1.2"/>
<line x1="227.40" y1="351.59" x2="230.10" y2="351.59" stroke="#1a1a1a" stroke-width="1.2"/>
<line x1="364.80" y1="351.59" x2="367.50" y2="351.59" stroke="#1a1a1a" stroke-width="1.2"/>
<line x1="227.40" y1="356.66" x2="230.10" y2="356.66" stroke="#1a1a1a" stroke-width="1.2"/>
<line x1="364.80" y1="356.66" x2="367.50" y2="356.66" stroke="#1a1a1a" stroke-width="1.2"/>
<line x1="227.40" y1="361.73" x2="230.10" y2="361.73" stroke="#1a1a1a" stroke-width="1.2"/>
<line x1="364.80" y1="361.73" x2="367.50" y2="361.73" stroke="#1a1a1a" stroke-width="1.2"/>
<line x1="255.30" y1="331.30" x2="255.30" y2="334.40" stroke="#1a1a1a" stroke-width="1.6"/>
<line x1="255.30" y1="363.70" x2="255.30" y2="366.80" stroke="#1a1a1a" stroke-width="1.6"/>
<line x1="283.40" y1="331.30" x2="283.40" y2="334.40" stroke="#1a1a1a" stroke-width="1.6"/>
<line x1="283.40" y1="363.70" x2="283.40" y2="366.80" stroke="#1a1a1a" stroke-width="1.6"/>
<line x1="311.40" y1="331.30" x2="311.40" y2="334.40" stroke="#1a1a1a" stroke-width="1.6"/>
<line x1="311.40" y1="363.70" x2="311.40" y2="366.80" stroke="#1a1a1a" stroke-width="1.6"/>
<line x1="339.50" y1="331.30" x2="339.50" y2="334.40" stroke="#1a1a1a" stroke-width="1.6"/>
<line x1="339.50" y1="363.70" x2="339.50" y2="366.80" stroke="#1a1a1a" stroke-width="1.6"/>
<line x1="228.00" y1="338.80" x2="366.90" y2="338.80" stroke="#4a4ace" stroke-width="1.35"/>
<line x1="228.00" y1="349.70" x2="366.90" y2="349.70" stroke="#4a4ace" stroke-width="1.35"/>
<line x1="228.90" y1="344.20" x2="366.90" y2="344.20" stroke="#2525b8" stroke-width="1.6" stroke-dasharray="2.7,3.1"/>
<line x1="339.50" y1="331.90" x2="339.50" y2="366.20" stroke="#e9b9c6" stroke-width="1.0"/>
<line x1="339.50" y1="331.90" x2="339.50" y2="366.20" stroke="#b01c40" stroke-width="1.1" stroke-dasharray="1.3,1.5"/>
<polyline points="255.30,348.40 283.40,347.60 311.40,345.90 339.50,344.40" fill="none" stroke="#40a040" stroke-width="1.4" stroke-dasharray="3,3"/>
<circle cx="255.30" cy="348.40" r="3.25" fill="none" stroke="#1e8c1e" stroke-width="1.05"/>
<line x1="255.30" y1="343.70" x2="255.30" y2="353.10" stroke="#1e8c1e" stroke-width="1.1"/>
<line x1="251.80" y1="343.70" x2="258.80" y2="343.70" stroke="#1e8c1e" stroke-width="1.3"/>
<line x1="251.80" y1="353.10" x2="258.80" y2="353.10" stroke="#1e8c1e" stroke-width="1.3"/>
<circle cx="283.40" cy="347.60" r="3.25" fill="none" stroke="#1e8c1e" stroke-width="1.05"/>
<line x1="283.40" y1="343.80" x2="283.40" y2="351.40" stroke="#1e8c1e" stroke-width="1.1"/>
<line x1="279.90" y1="343.80" x2="286.90" y2="343.80" stroke="#1e8c1e" stroke-width="1.3"/>
<line x1="279.90" y1="351.40" x2="286.90" y2="351.40" stroke="#1e8c1e" stroke-width="1.3"/>
<circle cx="311.40" cy="345.90" r="3.25" fill="none" stroke="#1e8c1e" stroke-width="1.05"/>
<line x1="311.40" y1="342.10" x2="311.40" y2="349.70" stroke="#1e8c1e" stroke-width="1.1"/>
<line x1="307.90" y1="342.10" x2="314.90" y2="342.10" stroke="#1e8c1e" stroke-width="1.3"/>
<line x1="307.90" y1="349.70" x2="314.90" y2="349.70" stroke="#1e8c1e" stroke-width="1.3"/>
<circle cx="339.50" cy="344.40" r="3.25" fill="none" stroke="#1e8c1e" stroke-width="1.05"/>
<line x1="339.50" y1="339.00" x2="339.50" y2="349.80" stroke="#1e8c1e" stroke-width="1.1"/>
<line x1="336.00" y1="339.00" x2="343.00" y2="339.00" stroke="#1e8c1e" stroke-width="1.3"/>
<line x1="336.00" y1="349.80" x2="343.00" y2="349.80" stroke="#1e8c1e" stroke-width="1.3"/>
<rect x="227.40" y="331.30" width="140.10" height="35.50" fill="none" stroke="#1a1a1a" stroke-width="1.4"/>
<text x="45.60" y="336.05" text-anchor="end" font-size="13.3">45.00</text>
<text x="45.60" y="349.25" text-anchor="end" font-size="13.3">32.34</text>
<text x="45.60" y="371.75" text-anchor="end" font-size="13.3" clip-path="url(#c66)">10.00</text>
<line x1="410.10" y1="336.37" x2="563.80" y2="336.37" stroke="#f5f5f5" stroke-width="1"/>
<line x1="410.10" y1="336.37" x2="563.80" y2="336.37" stroke="#e8e8e8" stroke-width="1" stroke-dasharray="1,2.5"/>
<line x1="410.10" y1="341.44" x2="563.80" y2="341.44" stroke="#f5f5f5" stroke-width="1"/>
<line x1="410.10" y1="341.44" x2="563.80" y2="341.44" stroke="#e8e8e8" stroke-width="1" stroke-dasharray="1,2.5"/>
<line x1="410.10" y1="346.51" x2="563.80" y2="346.51" stroke="#f5f5f5" stroke-width="1"/>
<line x1="410.10" y1="346.51" x2="563.80" y2="346.51" stroke="#e8e8e8" stroke-width="1" stroke-dasharray="1,2.5"/>
<line x1="410.10" y1="351.59" x2="563.80" y2="351.59" stroke="#f5f5f5" stroke-width="1"/>
<line x1="410.10" y1="351.59" x2="563.80" y2="351.59" stroke="#e8e8e8" stroke-width="1" stroke-dasharray="1,2.5"/>
<line x1="410.10" y1="356.66" x2="563.80" y2="356.66" stroke="#f5f5f5" stroke-width="1"/>
<line x1="410.10" y1="356.66" x2="563.80" y2="356.66" stroke="#e8e8e8" stroke-width="1" stroke-dasharray="1,2.5"/>
<line x1="410.10" y1="361.73" x2="563.80" y2="361.73" stroke="#f5f5f5" stroke-width="1"/>
<line x1="410.10" y1="361.73" x2="563.80" y2="361.73" stroke="#e8e8e8" stroke-width="1" stroke-dasharray="1,2.5"/>
<line x1="438.00" y1="331.80" x2="438.00" y2="366.30" stroke="#f5f5f5" stroke-width="1"/>
<line x1="438.00" y1="331.80" x2="438.00" y2="366.30" stroke="#e8e8e8" stroke-width="1" stroke-dasharray="1,2.5"/>
<line x1="466.20" y1="331.80" x2="466.20" y2="366.30" stroke="#f5f5f5" stroke-width="1"/>
<line x1="466.20" y1="331.80" x2="466.20" y2="366.30" stroke="#e8e8e8" stroke-width="1" stroke-dasharray="1,2.5"/>
<line x1="494.40" y1="331.80" x2="494.40" y2="366.30" stroke="#f5f5f5" stroke-width="1"/>
<line x1="494.40" y1="331.80" x2="494.40" y2="366.30" stroke="#e8e8e8" stroke-width="1" stroke-dasharray="1,2.5"/>
<line x1="522.60" y1="331.80" x2="522.60" y2="366.30" stroke="#f5f5f5" stroke-width="1"/>
<line x1="522.60" y1="331.80" x2="522.60" y2="366.30" stroke="#e8e8e8" stroke-width="1" stroke-dasharray="1,2.5"/>
<line x1="550.60" y1="331.80" x2="550.60" y2="366.30" stroke="#f5f5f5" stroke-width="1"/>
<line x1="550.60" y1="331.80" x2="550.60" y2="366.30" stroke="#e8e8e8" stroke-width="1" stroke-dasharray="1,2.5"/>
<line x1="409.60" y1="336.37" x2="412.30" y2="336.37" stroke="#1a1a1a" stroke-width="1.2"/>
<line x1="561.60" y1="336.37" x2="564.30" y2="336.37" stroke="#1a1a1a" stroke-width="1.2"/>
<line x1="409.60" y1="341.44" x2="412.30" y2="341.44" stroke="#1a1a1a" stroke-width="1.2"/>
<line x1="561.60" y1="341.44" x2="564.30" y2="341.44" stroke="#1a1a1a" stroke-width="1.2"/>
<line x1="409.60" y1="346.51" x2="412.30" y2="346.51" stroke="#1a1a1a" stroke-width="1.2"/>
<line x1="561.60" y1="346.51" x2="564.30" y2="346.51" stroke="#1a1a1a" stroke-width="1.2"/>
<line x1="409.60" y1="351.59" x2="412.30" y2="351.59" stroke="#1a1a1a" stroke-width="1.2"/>
<line x1="561.60" y1="351.59" x2="564.30" y2="351.59" stroke="#1a1a1a" stroke-width="1.2"/>
<line x1="409.60" y1="356.66" x2="412.30" y2="356.66" stroke="#1a1a1a" stroke-width="1.2"/>
<line x1="561.60" y1="356.66" x2="564.30" y2="356.66" stroke="#1a1a1a" stroke-width="1.2"/>
<line x1="409.60" y1="361.73" x2="412.30" y2="361.73" stroke="#1a1a1a" stroke-width="1.2"/>
<line x1="561.60" y1="361.73" x2="564.30" y2="361.73" stroke="#1a1a1a" stroke-width="1.2"/>
<line x1="438.00" y1="331.30" x2="438.00" y2="334.40" stroke="#1a1a1a" stroke-width="1.6"/>
<line x1="438.00" y1="363.70" x2="438.00" y2="366.80" stroke="#1a1a1a" stroke-width="1.6"/>
<line x1="466.20" y1="331.30" x2="466.20" y2="334.40" stroke="#1a1a1a" stroke-width="1.6"/>
<line x1="466.20" y1="363.70" x2="466.20" y2="366.80" stroke="#1a1a1a" stroke-width="1.6"/>
<line x1="494.40" y1="331.30" x2="494.40" y2="334.40" stroke="#1a1a1a" stroke-width="1.6"/>
<line x1="494.40" y1="363.70" x2="494.40" y2="366.80" stroke="#1a1a1a" stroke-width="1.6"/>
<line x1="522.60" y1="331.30" x2="522.60" y2="334.40" stroke="#1a1a1a" stroke-width="1.6"/>
<line x1="522.60" y1="363.70" x2="522.60" y2="366.80" stroke="#1a1a1a" stroke-width="1.6"/>
<line x1="550.60" y1="331.30" x2="550.60" y2="334.40" stroke="#1a1a1a" stroke-width="1.6"/>
<line x1="550.60" y1="363.70" x2="550.60" y2="366.80" stroke="#1a1a1a" stroke-width="1.6"/>
<line x1="416.40" y1="366.30" x2="416.40" y2="358.90" stroke="#40a040" stroke-width="1.35" stroke-dasharray="3.4,2.8"/>
<line x1="416.40" y1="358.90" x2="556.70" y2="339.00" stroke="#40a040" stroke-width="1.35" stroke-dasharray="3.4,2.8"/>
<line x1="556.70" y1="339.00" x2="556.70" y2="332.30" stroke="#40a040" stroke-width="1.35" stroke-dasharray="3.4,2.8"/>
<rect x="409.60" y="331.30" width="154.70" height="35.50" fill="none" stroke="#1a1a1a" stroke-width="1.4"/>
<text x="416.80" y="355.70" text-anchor="middle" font-size="13.3">0</text>
<text x="486.50" y="345.30" text-anchor="middle" font-size="13.3">0.5</text>
<text x="556.70" y="334.90" text-anchor="middle" font-size="13.3" clip-path="url(#c69)">1</text>
<text x="571.30" y="343.45" text-anchor="start" font-size="13.3">37.80</text>
<text x="571.30" y="353.05" text-anchor="start" font-size="13.3">28.07</text>
<text x="571.30" y="363.25" text-anchor="start" font-size="13.3" clip-path="url(#c72)">18.33</text>
<text transform="translate(632.40,349.80) rotate(-90)" text-anchor="middle" font-size="13.3">Ca</text>
<text transform="translate(648.50,349.50) rotate(-90)" text-anchor="middle" font-size="13.3">(%)</text>
<line x1="53.00" y1="395.77" x2="214.90" y2="395.77" stroke="#f5f5f5" stroke-width="1"/>
<line x1="53.00" y1="395.77" x2="214.90" y2="395.77" stroke="#e8e8e8" stroke-width="1" stroke-dasharray="1,2.5"/>
<line x1="53.00" y1="400.84" x2="214.90" y2="400.84" stroke="#f5f5f5" stroke-width="1"/>
<line x1="53.00" y1="400.84" x2="214.90" y2="400.84" stroke="#e8e8e8" stroke-width="1" stroke-dasharray="1,2.5"/>
<line x1="53.00" y1="405.91" x2="214.90" y2="405.91" stroke="#f5f5f5" stroke-width="1"/>
<line x1="53.00" y1="405.91" x2="214.90" y2="405.91" stroke="#e8e8e8" stroke-width="1" stroke-dasharray="1,2.5"/>
<line x1="53.00" y1="410.99" x2="214.90" y2="410.99" stroke="#f5f5f5" stroke-width="1"/>
<line x1="53.00" y1="410.99" x2="214.90" y2="410.99" stroke="#e8e8e8" stroke-width="1" stroke-dasharray="1,2.5"/>
<line x1="53.00" y1="416.06" x2="214.90" y2="416.06" stroke="#f5f5f5" stroke-width="1"/>
<line x1="53.00" y1="416.06" x2="214.90" y2="416.06" stroke="#e8e8e8" stroke-width="1" stroke-dasharray="1,2.5"/>
<line x1="53.00" y1="421.13" x2="214.90" y2="421.13" stroke="#f5f5f5" stroke-width="1"/>
<line x1="53.00" y1="421.13" x2="214.90" y2="421.13" stroke="#e8e8e8" stroke-width="1" stroke-dasharray="1,2.5"/>
<line x1="67.70" y1="391.20" x2="67.70" y2="425.70" stroke="#f5f5f5" stroke-width="1"/>
<line x1="67.70" y1="391.20" x2="67.70" y2="425.70" stroke="#e8e8e8" stroke-width="1" stroke-dasharray="1,2.5"/>
<line x1="82.42" y1="391.20" x2="82.42" y2="425.70" stroke="#f5f5f5" stroke-width="1"/>
<line x1="82.42" y1="391.20" x2="82.42" y2="425.70" stroke="#e8e8e8" stroke-width="1" stroke-dasharray="1,2.5"/>
<line x1="97.14" y1="391.20" x2="97.14" y2="425.70" stroke="#f5f5f5" stroke-width="1"/>
<line x1="97.14" y1="391.20" x2="97.14" y2="425.70" stroke="#e8e8e8" stroke-width="1" stroke-dasharray="1,2.5"/>
<line x1="111.86" y1="391.20" x2="111.86" y2="425.70" stroke="#f5f5f5" stroke-width="1"/>
<line x1="111.86" y1="391.20" x2="111.86" y2="425.70" stroke="#e8e8e8" stroke-width="1" stroke-dasharray="1,2.5"/>
<line x1="126.58" y1="391.20" x2="126.58" y2="425.70" stroke="#f5f5f5" stroke-width="1"/>
<line x1="126.58" y1="391.20" x2="126.58" y2="425.70" stroke="#e8e8e8" stroke-width="1" stroke-dasharray="1,2.5"/>
<line x1="141.30" y1="391.20" x2="141.30" y2="425.70" stroke="#f5f5f5" stroke-width="1"/>
<line x1="141.30" y1="391.20" x2="141.30" y2="425.70" stroke="#e8e8e8" stroke-width="1" stroke-dasharray="1,2.5"/>
<line x1="156.02" y1="391.20" x2="156.02" y2="425.70" stroke="#f5f5f5" stroke-width="1"/>
<line x1="156.02" y1="391.20" x2="156.02" y2="425.70" stroke="#e8e8e8" stroke-width="1" stroke-dasharray="1,2.5"/>
<line x1="170.74" y1="391.20" x2="170.74" y2="425.70" stroke="#f5f5f5" stroke-width="1"/>
<line x1="170.74" y1="391.20" x2="170.74" y2="425.70" stroke="#e8e8e8" stroke-width="1" stroke-dasharray="1,2.5"/>
<line x1="185.46" y1="391.20" x2="185.46" y2="425.70" stroke="#f5f5f5" stroke-width="1"/>
<line x1="185.46" y1="391.20" x2="185.46" y2="425.70" stroke="#e8e8e8" stroke-width="1" stroke-dasharray="1,2.5"/>
<line x1="200.18" y1="391.20" x2="200.18" y2="425.70" stroke="#f5f5f5" stroke-width="1"/>
<line x1="200.18" y1="391.20" x2="200.18" y2="425.70" stroke="#e8e8e8" stroke-width="1" stroke-dasharray="1,2.5"/>
<line x1="52.50" y1="395.77" x2="55.20" y2="395.77" stroke="#1a1a1a" stroke-width="1.2"/>
<line x1="212.70" y1="395.77" x2="215.40" y2="395.77" stroke="#1a1a1a" stroke-width="1.2"/>
<line x1="52.50" y1="400.84" x2="55.20" y2="400.84" stroke="#1a1a1a" stroke-width="1.2"/>
<line x1="212.70" y1="400.84" x2="215.40" y2="400.84" stroke="#1a1a1a" stroke-width="1.2"/>
<line x1="52.50" y1="405.91" x2="55.20" y2="405.91" stroke="#1a1a1a" stroke-width="1.2"/>
<line x1="212.70" y1="405.91" x2="215.40" y2="405.91" stroke="#1a1a1a" stroke-width="1.2"/>
<line x1="52.50" y1="410.99" x2="55.20" y2="410.99" stroke="#1a1a1a" stroke-width="1.2"/>
<line x1="212.70" y1="410.99" x2="215.40" y2="410.99" stroke="#1a1a1a" stroke-width="1.2"/>
<line x1="52.50" y1="416.06" x2="55.20" y2="416.06" stroke="#1a1a1a" stroke-width="1.2"/>
<line x1="212.70" y1="416.06" x2="215.40" y2="416.06" stroke="#1a1a1a" stroke-width="1.2"/>
<line x1="52.50" y1="421.13" x2="55.20" y2="421.13" stroke="#1a1a1a" stroke-width="1.2"/>
<line x1="212.70" y1="421.13" x2="215.40" y2="421.13" stroke="#1a1a1a" stroke-width="1.2"/>
<line x1="67.70" y1="390.70" x2="67.70" y2="393.80" stroke="#1a1a1a" stroke-width="1.6"/>
<line x1="67.70" y1="423.10" x2="67.70" y2="426.20" stroke="#1a1a1a" stroke-width="1.6"/>
<line x1="82.42" y1="390.70" x2="82.42" y2="393.80" stroke="#1a1a1a" stroke-width="1.6"/>
<line x1="82.42" y1="423.10" x2="82.42" y2="426.20" stroke="#1a1a1a" stroke-width="1.6"/>
<line x1="97.14" y1="390.70" x2="97.14" y2="393.80" stroke="#1a1a1a" stroke-width="1.6"/>
<line x1="97.14" y1="423.10" x2="97.14" y2="426.20" stroke="#1a1a1a" stroke-width="1.6"/>
<line x1="111.86" y1="390.70" x2="111.86" y2="393.80" stroke="#1a1a1a" stroke-width="1.6"/>
<line x1="111.86" y1="423.10" x2="111.86" y2="426.20" stroke="#1a1a1a" stroke-width="1.6"/>
<line x1="126.58" y1="390.70" x2="126.58" y2="393.80" stroke="#1a1a1a" stroke-width="1.6"/>
<line x1="126.58" y1="423.10" x2="126.58" y2="426.20" stroke="#1a1a1a" stroke-width="1.6"/>
<line x1="141.30" y1="390.70" x2="141.30" y2="393.80" stroke="#1a1a1a" stroke-width="1.6"/>
<line x1="141.30" y1="423.10" x2="141.30" y2="426.20" stroke="#1a1a1a" stroke-width="1.6"/>
<line x1="156.02" y1="390.70" x2="156.02" y2="393.80" stroke="#1a1a1a" stroke-width="1.6"/>
<line x1="156.02" y1="423.10" x2="156.02" y2="426.20" stroke="#1a1a1a" stroke-width="1.6"/>
<line x1="170.74" y1="390.70" x2="170.74" y2="393.80" stroke="#1a1a1a" stroke-width="1.6"/>
<line x1="170.74" y1="423.10" x2="170.74" y2="426.20" stroke="#1a1a1a" stroke-width="1.6"/>
<line x1="185.46" y1="390.70" x2="185.46" y2="393.80" stroke="#1a1a1a" stroke-width="1.6"/>
<line x1="185.46" y1="423.10" x2="185.46" y2="426.20" stroke="#1a1a1a" stroke-width="1.6"/>
<line x1="200.18" y1="390.70" x2="200.18" y2="393.80" stroke="#1a1a1a" stroke-width="1.6"/>
<line x1="200.18" y1="423.10" x2="200.18" y2="426.20" stroke="#1a1a1a" stroke-width="1.6"/>
<line x1="53.10" y1="397.10" x2="214.80" y2="397.10" stroke="#4a4ace" stroke-width="1.35"/>
<line x1="53.10" y1="409.10" x2="214.80" y2="409.10" stroke="#4a4ace" stroke-width="1.35"/>
<line x1="54.00" y1="403.30" x2="214.80" y2="403.30" stroke="#2525b8" stroke-width="1.6" stroke-dasharray="2.7,3.1"/>
<line x1="67.70" y1="391.30" x2="67.70" y2="425.60" stroke="#e9b9c6" stroke-width="1.0"/>
<line x1="67.70" y1="391.30" x2="67.70" y2="425.60" stroke="#b01c40" stroke-width="1.1" stroke-dasharray="1.3,1.5"/>
<polyline points="67.70,403.00 82.42,403.80 97.14,404.70 111.86,405.30 126.58,405.90 141.30,406.50 156.02,407.30 170.74,407.90 185.46,408.80 200.18,409.30" fill="none" stroke="#40a040" stroke-width="1.4" stroke-dasharray="3,3"/>
<circle cx="67.70" cy="403.00" r="3.25" fill="none" stroke="#1e8c1e" stroke-width="1.05"/>
<line x1="67.70" y1="397.20" x2="67.70" y2="408.80" stroke="#1e8c1e" stroke-width="1.1"/>
<line x1="65.70" y1="397.20" x2="69.70" y2="397.20" stroke="#1e8c1e" stroke-width="1.3"/>
<line x1="65.70" y1="408.80" x2="69.70" y2="408.80" stroke="#1e8c1e" stroke-width="1.3"/>
<circle cx="82.42" cy="403.80" r="3.25" fill="none" stroke="#1e8c1e" stroke-width="1.05"/>
<line x1="82.42" y1="398.30" x2="82.42" y2="409.30" stroke="#1e8c1e" stroke-width="1.1"/>
<line x1="80.42" y1="398.30" x2="84.42" y2="398.30" stroke="#1e8c1e" stroke-width="1.3"/>
<line x1="80.42" y1="409.30" x2="84.42" y2="409.30" stroke="#1e8c1e" stroke-width="1.3"/>
<circle cx="97.14" cy="404.70" r="3.25" fill="none" stroke="#1e8c1e" stroke-width="1.05"/>
<line x1="97.14" y1="399.20" x2="97.14" y2="410.20" stroke="#1e8c1e" stroke-width="1.1"/>
<line x1="95.14" y1="399.20" x2="99.14" y2="399.20" stroke="#1e8c1e" stroke-width="1.3"/>
<line x1="95.14" y1="410.20" x2="99.14" y2="410.20" stroke="#1e8c1e" stroke-width="1.3"/>
<circle cx="111.86" cy="405.30" r="3.25" fill="none" stroke="#1e8c1e" stroke-width="1.05"/>
<line x1="111.86" y1="400.10" x2="111.86" y2="410.50" stroke="#1e8c1e" stroke-width="1.1"/>
<line x1="109.86" y1="400.10" x2="113.86" y2="400.10" stroke="#1e8c1e" stroke-width="1.3"/>
<line x1="109.86" y1="410.50" x2="113.86" y2="410.50" stroke="#1e8c1e" stroke-width="1.3"/>
<circle cx="126.58" cy="405.90" r="3.25" fill="none" stroke="#1e8c1e" stroke-width="1.05"/>
<line x1="126.58" y1="400.40" x2="126.58" y2="411.40" stroke="#1e8c1e" stroke-width="1.1"/>
<line x1="124.58" y1="400.40" x2="128.58" y2="400.40" stroke="#1e8c1e" stroke-width="1.3"/>
<line x1="124.58" y1="411.40" x2="128.58" y2="411.40" stroke="#1e8c1e" stroke-width="1.3"/>
<circle cx="141.30" cy="406.50" r="3.25" fill="none" stroke="#1e8c1e" stroke-width="1.05"/>
<line x1="141.30" y1="400.70" x2="141.30" y2="412.30" stroke="#1e8c1e" stroke-width="1.1"/>
<line x1="139.30" y1="400.70" x2="143.30" y2="400.70" stroke="#1e8c1e" stroke-width="1.3"/>
<line x1="139.30" y1="412.30" x2="143.30" y2="412.30" stroke="#1e8c1e" stroke-width="1.3"/>
<circle cx="156.02" cy="407.30" r="3.25" fill="none" stroke="#1e8c1e" stroke-width="1.05"/>
<line x1="156.02" y1="401.50" x2="156.02" y2="413.10" stroke="#1e8c1e" stroke-width="1.1"/>
<line x1="154.02" y1="401.50" x2="158.02" y2="401.50" stroke="#1e8c1e" stroke-width="1.3"/>
<line x1="154.02" y1="413.10" x2="158.02" y2="413.10" stroke="#1e8c1e" stroke-width="1.3"/>
<circle cx="170.74" cy="407.90" r="3.25" fill="none" stroke="#1e8c1e" stroke-width="1.05"/>
<line x1="170.74" y1="401.70" x2="170.74" y2="414.10" stroke="#1e8c1e" stroke-width="1.1"/>
<line x1="168.74" y1="401.70" x2="172.74" y2="401.70" stroke="#1e8c1e" stroke-width="1.3"/>
<line x1="168.74" y1="414.10" x2="172.74" y2="414.10" stroke="#1e8c1e" stroke-width="1.3"/>
<circle cx="185.46" cy="408.80" r="3.25" fill="none" stroke="#1e8c1e" stroke-width="1.05"/>
<line x1="185.46" y1="402.10" x2="185.46" y2="415.50" stroke="#1e8c1e" stroke-width="1.1"/>
<line x1="183.46" y1="402.10" x2="187.46" y2="402.10" stroke="#1e8c1e" stroke-width="1.3"/>
<line x1="183.46" y1="415.50" x2="187.46" y2="415.50" stroke="#1e8c1e" stroke-width="1.3"/>
<circle cx="200.18" cy="409.30" r="3.25" fill="none" stroke="#1e8c1e" stroke-width="1.05"/>
<line x1="200.18" y1="402.10" x2="200.18" y2="416.50" stroke="#1e8c1e" stroke-width="1.1"/>
<line x1="198.18" y1="402.10" x2="202.18" y2="402.10" stroke="#1e8c1e" stroke-width="1.3"/>
<line x1="198.18" y1="416.50" x2="202.18" y2="416.50" stroke="#1e8c1e" stroke-width="1.3"/>
<rect x="52.50" y="390.70" width="162.90" height="35.50" fill="none" stroke="#1a1a1a" stroke-width="1.4"/>
<line x1="227.90" y1="395.77" x2="367.00" y2="395.77" stroke="#f5f5f5" stroke-width="1"/>
<line x1="227.90" y1="395.77" x2="367.00" y2="395.77" stroke="#e8e8e8" stroke-width="1" stroke-dasharray="1,2.5"/>
<line x1="227.90" y1="400.84" x2="367.00" y2="400.84" stroke="#f5f5f5" stroke-width="1"/>
<line x1="227.90" y1="400.84" x2="367.00" y2="400.84" stroke="#e8e8e8" stroke-width="1" stroke-dasharray="1,2.5"/>
<line x1="227.90" y1="405.91" x2="367.00" y2="405.91" stroke="#f5f5f5" stroke-width="1"/>
<line x1="227.90" y1="405.91" x2="367.00" y2="405.91" stroke="#e8e8e8" stroke-width="1" stroke-dasharray="1,2.5"/>
<line x1="227.90" y1="410.99" x2="367.00" y2="410.99" stroke="#f5f5f5" stroke-width="1"/>
<line x1="227.90" y1="410.99" x2="367.00" y2="410.99" stroke="#e8e8e8" stroke-width="1" stroke-dasharray="1,2.5"/>
<line x1="227.90" y1="416.06" x2="367.00" y2="416.06" stroke="#f5f5f5" stroke-width="1"/>
<line x1="227.90" y1="416.06" x2="367.00" y2="416.06" stroke="#e8e8e8" stroke-width="1" stroke-dasharray="1,2.5"/>
<line x1="227.90" y1="421.13" x2="367.00" y2="421.13" stroke="#f5f5f5" stroke-width="1"/>
<line x1="227.90" y1="421.13" x2="367.00" y2="421.13" stroke="#e8e8e8" stroke-width="1" stroke-dasharray="1,2.5"/>
<line x1="255.30" y1="391.20" x2="255.30" y2="425.70" stroke="#f5f5f5" stroke-width="1"/>
<line x1="255.30" y1="391.20" x2="255.30" y2="425.70" stroke="#e8e8e8" stroke-width="1" stroke-dasharray="1,2.5"/>
<line x1="283.40" y1="391.20" x2="283.40" y2="425.70" stroke="#f5f5f5" stroke-width="1"/>
<line x1="283.40" y1="391.20" x2="283.40" y2="425.70" stroke="#e8e8e8" stroke-width="1" stroke-dasharray="1,2.5"/>
<line x1="311.40" y1="391.20" x2="311.40" y2="425.70" stroke="#f5f5f5" stroke-width="1"/>
<line x1="311.40" y1="391.20" x2="311.40" y2="425.70" stroke="#e8e8e8" stroke-width="1" stroke-dasharray="1,2.5"/>
<line x1="339.50" y1="391.20" x2="339.50" y2="425.70" stroke="#f5f5f5" stroke-width="1"/>
<line x1="339.50" y1="391.20" x2="339.50" y2="425.70" stroke="#e8e8e8" stroke-width="1" stroke-dasharray="1,2.5"/>
<line x1="227.40" y1="395.77" x2="230.10" y2="395.77" stroke="#1a1a1a" stroke-width="1.2"/>
<line x1="364.80" y1="395.77" x2="367.50" y2="395.77" stroke="#1a1a1a" stroke-width="1.2"/>
<line x1="227.40" y1="400.84" x2="230.10" y2="400.84" stroke="#1a1a1a" stroke-width="1.2"/>
<line x1="364.80" y1="400.84" x2="367.50" y2="400.84" stroke="#1a1a1a" stroke-width="1.2"/>
<line x1="227.40" y1="405.91" x2="230.10" y2="405.91" stroke="#1a1a1a" stroke-width="1.2"/>
<line x1="364.80" y1="405.91" x2="367.50" y2="405.91" stroke="#1a1a1a" stroke-width="1.2"/>
<line x1="227.40" y1="410.99" x2="230.10" y2="410.99" stroke="#1a1a1a" stroke-width="1.2"/>
<line x1="364.80" y1="410.99" x2="367.50" y2="410.99" stroke="#1a1a1a" stroke-width="1.2"/>
<line x1="227.40" y1="416.06" x2="230.10" y2="416.06" stroke="#1a1a1a" stroke-width="1.2"/>
<line x1="364.80" y1="416.06" x2="367.50" y2="416.06" stroke="#1a1a1a" stroke-width="1.2"/>
<line x1="227.40" y1="421.13" x2="230.10" y2="421.13" stroke="#1a1a1a" stroke-width="1.2"/>
<line x1="364.80" y1="421.13" x2="367.50" y2="421.13" stroke="#1a1a1a" stroke-width="1.2"/>
<line x1="255.30" y1="390.70" x2="255.30" y2="393.80" stroke="#1a1a1a" stroke-width="1.6"/>
<line x1="255.30" y1="423.10" x2="255.30" y2="426.20" stroke="#1a1a1a" stroke-width="1.6"/>
<line x1="283.40" y1="390.70" x2="283.40" y2="393.80" stroke="#1a1a1a" stroke-width="1.6"/>
<line x1="283.40" y1="423.10" x2="283.40" y2="426.20" stroke="#1a1a1a" stroke-width="1.6"/>
<line x1="311.40" y1="390.70" x2="311.40" y2="393.80" stroke="#1a1a1a" stroke-width="1.6"/>
<line x1="311.40" y1="423.10" x2="311.40" y2="426.20" stroke="#1a1a1a" stroke-width="1.6"/>
<line x1="339.50" y1="390.70" x2="339.50" y2="393.80" stroke="#1a1a1a" stroke-width="1.6"/>
<line x1="339.50" y1="423.10" x2="339.50" y2="426.20" stroke="#1a1a1a" stroke-width="1.6"/>
<line x1="228.00" y1="397.10" x2="366.90" y2="397.10" stroke="#4a4ace" stroke-width="1.35"/>
<line x1="228.00" y1="409.10" x2="366.90" y2="409.10" stroke="#4a4ace" stroke-width="1.35"/>
<line x1="228.90" y1="403.30" x2="366.90" y2="403.30" stroke="#2525b8" stroke-width="1.6" stroke-dasharray="2.7,3.1"/>
<line x1="339.50" y1="391.30" x2="339.50" y2="425.60" stroke="#e9b9c6" stroke-width="1.0"/>
<line x1="339.50" y1="391.30" x2="339.50" y2="425.60" stroke="#b01c40" stroke-width="1.1" stroke-dasharray="1.3,1.5"/>
<polyline points="255.30,408.00 283.40,406.90 311.40,405.00 339.50,403.20" fill="none" stroke="#40a040" stroke-width="1.4" stroke-dasharray="3,3"/>
<circle cx="255.30" cy="408.00" r="3.25" fill="none" stroke="#1e8c1e" stroke-width="1.05"/>
<line x1="255.30" y1="403.00" x2="255.30" y2="413.00" stroke="#1e8c1e" stroke-width="1.1"/>
<line x1="251.80" y1="403.00" x2="258.80" y2="403.00" stroke="#1e8c1e" stroke-width="1.3"/>
<line x1="251.80" y1="413.00" x2="258.80" y2="413.00" stroke="#1e8c1e" stroke-width="1.3"/>
<circle cx="283.40" cy="406.90" r="3.25" fill="none" stroke="#1e8c1e" stroke-width="1.05"/>
<line x1="283.40" y1="402.90" x2="283.40" y2="410.90" stroke="#1e8c1e" stroke-width="1.1"/>
<line x1="279.90" y1="402.90" x2="286.90" y2="402.90" stroke="#1e8c1e" stroke-width="1.3"/>
<line x1="279.90" y1="410.90" x2="286.90" y2="410.90" stroke="#1e8c1e" stroke-width="1.3"/>
<circle cx="311.40" cy="405.00" r="3.25" fill="none" stroke="#1e8c1e" stroke-width="1.05"/>
<line x1="311.40" y1="401.00" x2="311.40" y2="409.00" stroke="#1e8c1e" stroke-width="1.1"/>
<line x1="307.90" y1="401.00" x2="314.90" y2="401.00" stroke="#1e8c1e" stroke-width="1.3"/>
<line x1="307.90" y1="409.00" x2="314.90" y2="409.00" stroke="#1e8c1e" stroke-width="1.3"/>
<circle cx="339.50" cy="403.20" r="3.25" fill="none" stroke="#1e8c1e" stroke-width="1.05"/>
<line x1="339.50" y1="397.40" x2="339.50" y2="409.00" stroke="#1e8c1e" stroke-width="1.1"/>
<line x1="336.00" y1="397.40" x2="343.00" y2="397.40" stroke="#1e8c1e" stroke-width="1.3"/>
<line x1="336.00" y1="409.00" x2="343.00" y2="409.00" stroke="#1e8c1e" stroke-width="1.3"/>
<rect x="227.40" y="390.70" width="140.10" height="35.50" fill="none" stroke="#1a1a1a" stroke-width="1.4"/>
<text x="45.60" y="395.35" text-anchor="end" font-size="13.3" clip-path="url(#c75)">1.10</text>
<text x="45.60" y="407.75" text-anchor="end" font-size="13.3">0.85</text>
<text x="45.60" y="430.75" text-anchor="end" font-size="13.3">0.40</text>
<line x1="410.10" y1="395.77" x2="563.80" y2="395.77" stroke="#f5f5f5" stroke-width="1"/>
<line x1="410.10" y1="395.77" x2="563.80" y2="395.77" stroke="#e8e8e8" stroke-width="1" stroke-dasharray="1,2.5"/>
<line x1="410.10" y1="400.84" x2="563.80" y2="400.84" stroke="#f5f5f5" stroke-width="1"/>
<line x1="410.10" y1="400.84" x2="563.80" y2="400.84" stroke="#e8e8e8" stroke-width="1" stroke-dasharray="1,2.5"/>
<line x1="410.10" y1="405.91" x2="563.80" y2="405.91" stroke="#f5f5f5" stroke-width="1"/>
<line x1="410.10" y1="405.91" x2="563.80" y2="405.91" stroke="#e8e8e8" stroke-width="1" stroke-dasharray="1,2.5"/>
<line x1="410.10" y1="410.99" x2="563.80" y2="410.99" stroke="#f5f5f5" stroke-width="1"/>
<line x1="410.10" y1="410.99" x2="563.80" y2="410.99" stroke="#e8e8e8" stroke-width="1" stroke-dasharray="1,2.5"/>
<line x1="410.10" y1="416.06" x2="563.80" y2="416.06" stroke="#f5f5f5" stroke-width="1"/>
<line x1="410.10" y1="416.06" x2="563.80" y2="416.06" stroke="#e8e8e8" stroke-width="1" stroke-dasharray="1,2.5"/>
<line x1="410.10" y1="421.13" x2="563.80" y2="421.13" stroke="#f5f5f5" stroke-width="1"/>
<line x1="410.10" y1="421.13" x2="563.80" y2="421.13" stroke="#e8e8e8" stroke-width="1" stroke-dasharray="1,2.5"/>
<line x1="438.00" y1="391.20" x2="438.00" y2="425.70" stroke="#f5f5f5" stroke-width="1"/>
<line x1="438.00" y1="391.20" x2="438.00" y2="425.70" stroke="#e8e8e8" stroke-width="1" stroke-dasharray="1,2.5"/>
<line x1="466.20" y1="391.20" x2="466.20" y2="425.70" stroke="#f5f5f5" stroke-width="1"/>
<line x1="466.20" y1="391.20" x2="466.20" y2="425.70" stroke="#e8e8e8" stroke-width="1" stroke-dasharray="1,2.5"/>
<line x1="494.40" y1="391.20" x2="494.40" y2="425.70" stroke="#f5f5f5" stroke-width="1"/>
<line x1="494.40" y1="391.20" x2="494.40" y2="425.70" stroke="#e8e8e8" stroke-width="1" stroke-dasharray="1,2.5"/>
<line x1="522.60" y1="391.20" x2="522.60" y2="425.70" stroke="#f5f5f5" stroke-width="1"/>
<line x1="522.60" y1="391.20" x2="522.60" y2="425.70" stroke="#e8e8e8" stroke-width="1" stroke-dasharray="1,2.5"/>
<line x1="550.60" y1="391.20" x2="550.60" y2="425.70" stroke="#f5f5f5" stroke-width="1"/>
<line x1="550.60" y1="391.20" x2="550.60" y2="425.70" stroke="#e8e8e8" stroke-width="1" stroke-dasharray="1,2.5"/>
<line x1="409.60" y1="395.77" x2="412.30" y2="395.77" stroke="#1a1a1a" stroke-width="1.2"/>
<line x1="561.60" y1="395.77" x2="564.30" y2="395.77" stroke="#1a1a1a" stroke-width="1.2"/>
<line x1="409.60" y1="400.84" x2="412.30" y2="400.84" stroke="#1a1a1a" stroke-width="1.2"/>
<line x1="561.60" y1="400.84" x2="564.30" y2="400.84" stroke="#1a1a1a" stroke-width="1.2"/>
<line x1="409.60" y1="405.91" x2="412.30" y2="405.91" stroke="#1a1a1a" stroke-width="1.2"/>
<line x1="561.60" y1="405.91" x2="564.30" y2="405.91" stroke="#1a1a1a" stroke-width="1.2"/>
<line x1="409.60" y1="410.99" x2="412.30" y2="410.99" stroke="#1a1a1a" stroke-width="1.2"/>
<line x1="561.60" y1="410.99" x2="564.30" y2="410.99" stroke="#1a1a1a" stroke-width="1.2"/>
<line x1="409.60" y1="416.06" x2="412.30" y2="416.06" stroke="#1a1a1a" stroke-width="1.2"/>
<line x1="561.60" y1="416.06" x2="564.30" y2="416.06" stroke="#1a1a1a" stroke-width="1.2"/>
<line x1="409.60" y1="421.13" x2="412.30" y2="421.13" stroke="#1a1a1a" stroke-width="1.2"/>
<line x1="561.60" y1="421.13" x2="564.30" y2="421.13" stroke="#1a1a1a" stroke-width="1.2"/>
<line x1="438.00" y1="390.70" x2="438.00" y2="393.80" stroke="#1a1a1a" stroke-width="1.6"/>
<line x1="438.00" y1="423.10" x2="438.00" y2="426.20" stroke="#1a1a1a" stroke-width="1.6"/>
<line x1="466.20" y1="390.70" x2="466.20" y2="393.80" stroke="#1a1a1a" stroke-width="1.6"/>
<line x1="466.20" y1="423.10" x2="466.20" y2="426.20" stroke="#1a1a1a" stroke-width="1.6"/>
<line x1="494.40" y1="390.70" x2="494.40" y2="393.80" stroke="#1a1a1a" stroke-width="1.6"/>
<line x1="494.40" y1="423.10" x2="494.40" y2="426.20" stroke="#1a1a1a" stroke-width="1.6"/>
<line x1="522.60" y1="390.70" x2="522.60" y2="393.80" stroke="#1a1a1a" stroke-width="1.6"/>
<line x1="522.60" y1="423.10" x2="522.60" y2="426.20" stroke="#1a1a1a" stroke-width="1.6"/>
<line x1="550.60" y1="390.70" x2="550.60" y2="393.80" stroke="#1a1a1a" stroke-width="1.6"/>
<line x1="550.60" y1="423.10" x2="550.60" y2="426.20" stroke="#1a1a1a" stroke-width="1.6"/>
<line x1="416.40" y1="425.70" x2="416.40" y2="416.80" stroke="#40a040" stroke-width="1.35" stroke-dasharray="3.4,2.8"/>
<line x1="416.40" y1="416.80" x2="556.70" y2="398.00" stroke="#40a040" stroke-width="1.35" stroke-dasharray="3.4,2.8"/>
<line x1="556.70" y1="398.00" x2="556.70" y2="391.70" stroke="#40a040" stroke-width="1.35" stroke-dasharray="3.4,2.8"/>
<rect x="409.60" y="390.70" width="154.70" height="35.50" fill="none" stroke="#1a1a1a" stroke-width="1.4"/>
<text x="416.80" y="414.40" text-anchor="middle" font-size="13.3">0</text>
<text x="486.50" y="404.40" text-anchor="middle" font-size="13.3">0.5</text>
<text x="556.70" y="393.90" text-anchor="middle" font-size="13.3" clip-path="url(#c80)">1</text>
<text x="571.30" y="402.35" text-anchor="start" font-size="13.3">0.96</text>
<text x="571.30" y="411.35" text-anchor="start" font-size="13.3">0.77</text>
<text x="571.30" y="421.15" text-anchor="start" font-size="13.3">0.57</text>
<text transform="translate(631.80,409.50) rotate(-90)" text-anchor="middle" font-size="13.3">Mg</text>
<text transform="translate(650.00,409.60) rotate(-90)" text-anchor="middle" font-size="13.3">(%)</text>
<line x1="53.00" y1="454.00" x2="214.90" y2="454.00" stroke="#f5f5f5" stroke-width="1"/>
<line x1="53.00" y1="454.00" x2="214.90" y2="454.00" stroke="#e8e8e8" stroke-width="1" stroke-dasharray="1,2.5"/>
<line x1="53.00" y1="461.30" x2="214.90" y2="461.30" stroke="#f5f5f5" stroke-width="1"/>
<line x1="53.00" y1="461.30" x2="214.90" y2="461.30" stroke="#e8e8e8" stroke-width="1" stroke-dasharray="1,2.5"/>
<line x1="53.00" y1="468.00" x2="214.90" y2="468.00" stroke="#f5f5f5" stroke-width="1"/>
<line x1="53.00" y1="468.00" x2="214.90" y2="468.00" stroke="#e8e8e8" stroke-width="1" stroke-dasharray="1,2.5"/>
<line x1="53.00" y1="475.00" x2="214.90" y2="475.00" stroke="#f5f5f5" stroke-width="1"/>
<line x1="53.00" y1="475.00" x2="214.90" y2="475.00" stroke="#e8e8e8" stroke-width="1" stroke-dasharray="1,2.5"/>
<line x1="53.00" y1="482.30" x2="214.90" y2="482.30" stroke="#f5f5f5" stroke-width="1"/>
<line x1="53.00" y1="482.30" x2="214.90" y2="482.30" stroke="#e8e8e8" stroke-width="1" stroke-dasharray="1,2.5"/>
<line x1="53.00" y1="489.60" x2="214.90" y2="489.60" stroke="#f5f5f5" stroke-width="1"/>
<line x1="53.00" y1="489.60" x2="214.90" y2="489.60" stroke="#e8e8e8" stroke-width="1" stroke-dasharray="1,2.5"/>
<line x1="67.70" y1="450.70" x2="67.70" y2="492.90" stroke="#f5f5f5" stroke-width="1"/>
<line x1="67.70" y1="450.70" x2="67.70" y2="492.90" stroke="#e8e8e8" stroke-width="1" stroke-dasharray="1,2.5"/>
<line x1="82.42" y1="450.70" x2="82.42" y2="492.90" stroke="#f5f5f5" stroke-width="1"/>
<line x1="82.42" y1="450.70" x2="82.42" y2="492.90" stroke="#e8e8e8" stroke-width="1" stroke-dasharray="1,2.5"/>
<line x1="97.14" y1="450.70" x2="97.14" y2="492.90" stroke="#f5f5f5" stroke-width="1"/>
<line x1="97.14" y1="450.70" x2="97.14" y2="492.90" stroke="#e8e8e8" stroke-width="1" stroke-dasharray="1,2.5"/>
<line x1="111.86" y1="450.70" x2="111.86" y2="492.90" stroke="#f5f5f5" stroke-width="1"/>
<line x1="111.86" y1="450.70" x2="111.86" y2="492.90" stroke="#e8e8e8" stroke-width="1" stroke-dasharray="1,2.5"/>
<line x1="126.58" y1="450.70" x2="126.58" y2="492.90" stroke="#f5f5f5" stroke-width="1"/>
<line x1="126.58" y1="450.70" x2="126.58" y2="492.90" stroke="#e8e8e8" stroke-width="1" stroke-dasharray="1,2.5"/>
<line x1="141.30" y1="450.70" x2="141.30" y2="492.90" stroke="#f5f5f5" stroke-width="1"/>
<line x1="141.30" y1="450.70" x2="141.30" y2="492.90" stroke="#e8e8e8" stroke-width="1" stroke-dasharray="1,2.5"/>
<line x1="156.02" y1="450.70" x2="156.02" y2="492.90" stroke="#f5f5f5" stroke-width="1"/>
<line x1="156.02" y1="450.70" x2="156.02" y2="492.90" stroke="#e8e8e8" stroke-width="1" stroke-dasharray="1,2.5"/>
<line x1="170.74" y1="450.70" x2="170.74" y2="492.90" stroke="#f5f5f5" stroke-width="1"/>
<line x1="170.74" y1="450.70" x2="170.74" y2="492.90" stroke="#e8e8e8" stroke-width="1" stroke-dasharray="1,2.5"/>
<line x1="185.46" y1="450.70" x2="185.46" y2="492.90" stroke="#f5f5f5" stroke-width="1"/>
<line x1="185.46" y1="450.70" x2="185.46" y2="492.90" stroke="#e8e8e8" stroke-width="1" stroke-dasharray="1,2.5"/>
<line x1="200.18" y1="450.70" x2="200.18" y2="492.90" stroke="#f5f5f5" stroke-width="1"/>
<line x1="200.18" y1="450.70" x2="200.18" y2="492.90" stroke="#e8e8e8" stroke-width="1" stroke-dasharray="1,2.5"/>
<line x1="52.50" y1="454.00" x2="55.20" y2="454.00" stroke="#1a1a1a" stroke-width="1.2"/>
<line x1="212.70" y1="454.00" x2="215.40" y2="454.00" stroke="#1a1a1a" stroke-width="1.2"/>
<line x1="52.50" y1="461.30" x2="55.20" y2="461.30" stroke="#1a1a1a" stroke-width="1.2"/>
<line x1="212.70" y1="461.30" x2="215.40" y2="461.30" stroke="#1a1a1a" stroke-width="1.2"/>
<line x1="52.50" y1="468.00" x2="55.20" y2="468.00" stroke="#1a1a1a" stroke-width="1.2"/>
<line x1="212.70" y1="468.00" x2="215.40" y2="468.00" stroke="#1a1a1a" stroke-width="1.2"/>
<line x1="52.50" y1="475.00" x2="55.20" y2="475.00" stroke="#1a1a1a" stroke-width="1.2"/>
<line x1="212.70" y1="475.00" x2="215.40" y2="475.00" stroke="#1a1a1a" stroke-width="1.2"/>
<line x1="52.50" y1="482.30" x2="55.20" y2="482.30" stroke="#1a1a1a" stroke-width="1.2"/>
<line x1="212.70" y1="482.30" x2="215.40" y2="482.30" stroke="#1a1a1a" stroke-width="1.2"/>
<line x1="52.50" y1="489.60" x2="55.20" y2="489.60" stroke="#1a1a1a" stroke-width="1.2"/>
<line x1="212.70" y1="489.60" x2="215.40" y2="489.60" stroke="#1a1a1a" stroke-width="1.2"/>
<line x1="67.70" y1="450.20" x2="67.70" y2="453.30" stroke="#1a1a1a" stroke-width="1.6"/>
<line x1="67.70" y1="490.30" x2="67.70" y2="493.40" stroke="#1a1a1a" stroke-width="1.6"/>
<line x1="82.42" y1="450.20" x2="82.42" y2="453.30" stroke="#1a1a1a" stroke-width="1.6"/>
<line x1="82.42" y1="490.30" x2="82.42" y2="493.40" stroke="#1a1a1a" stroke-width="1.6"/>
<line x1="97.14" y1="450.20" x2="97.14" y2="453.30" stroke="#1a1a1a" stroke-width="1.6"/>
<line x1="97.14" y1="490.30" x2="97.14" y2="493.40" stroke="#1a1a1a" stroke-width="1.6"/>
<line x1="111.86" y1="450.20" x2="111.86" y2="453.30" stroke="#1a1a1a" stroke-width="1.6"/>
<line x1="111.86" y1="490.30" x2="111.86" y2="493.40" stroke="#1a1a1a" stroke-width="1.6"/>
<line x1="126.58" y1="450.20" x2="126.58" y2="453.30" stroke="#1a1a1a" stroke-width="1.6"/>
<line x1="126.58" y1="490.30" x2="126.58" y2="493.40" stroke="#1a1a1a" stroke-width="1.6"/>
<line x1="141.30" y1="450.20" x2="141.30" y2="453.30" stroke="#1a1a1a" stroke-width="1.6"/>
<line x1="141.30" y1="490.30" x2="141.30" y2="493.40" stroke="#1a1a1a" stroke-width="1.6"/>
<line x1="156.02" y1="450.20" x2="156.02" y2="453.30" stroke="#1a1a1a" stroke-width="1.6"/>
<line x1="156.02" y1="490.30" x2="156.02" y2="493.40" stroke="#1a1a1a" stroke-width="1.6"/>
<line x1="170.74" y1="450.20" x2="170.74" y2="453.30" stroke="#1a1a1a" stroke-width="1.6"/>
<line x1="170.74" y1="490.30" x2="170.74" y2="493.40" stroke="#1a1a1a" stroke-width="1.6"/>
<line x1="185.46" y1="450.20" x2="185.46" y2="453.30" stroke="#1a1a1a" stroke-width="1.6"/>
<line x1="185.46" y1="490.30" x2="185.46" y2="493.40" stroke="#1a1a1a" stroke-width="1.6"/>
<line x1="200.18" y1="450.20" x2="200.18" y2="453.30" stroke="#1a1a1a" stroke-width="1.6"/>
<line x1="200.18" y1="490.30" x2="200.18" y2="493.40" stroke="#1a1a1a" stroke-width="1.6"/>
<line x1="54.00" y1="467.50" x2="214.80" y2="467.50" stroke="#2525b8" stroke-width="1.6" stroke-dasharray="2.7,3.1"/>
<line x1="67.70" y1="450.80" x2="67.70" y2="492.80" stroke="#e9b9c6" stroke-width="1.0"/>
<line x1="67.70" y1="450.80" x2="67.70" y2="492.80" stroke="#b01c40" stroke-width="1.1" stroke-dasharray="1.3,1.5"/>
<polyline points="67.70,467.30 82.42,467.80 97.14,468.90 111.86,469.90 126.58,471.00 141.30,472.10 156.02,473.20 170.74,474.40 185.46,475.60 200.18,476.80" fill="none" stroke="#40a040" stroke-width="1.4" stroke-dasharray="3,3"/>
<rect x="64.70" y="464.30" width="6.0" height="6.0" fill="none" stroke="#1e8c1e" stroke-width="1.2"/>
<rect x="79.42" y="464.80" width="6.0" height="6.0" fill="none" stroke="#1e8c1e" stroke-width="1.2"/>
<rect x="94.14" y="465.90" width="6.0" height="6.0" fill="none" stroke="#1e8c1e" stroke-width="1.2"/>
<rect x="108.86" y="466.90" width="6.0" height="6.0" fill="none" stroke="#1e8c1e" stroke-width="1.2"/>
<rect x="123.58" y="468.00" width="6.0" height="6.0" fill="none" stroke="#1e8c1e" stroke-width="1.2"/>
<rect x="138.30" y="469.10" width="6.0" height="6.0" fill="none" stroke="#1e8c1e" stroke-width="1.2"/>
<rect x="153.02" y="470.20" width="6.0" height="6.0" fill="none" stroke="#1e8c1e" stroke-width="1.2"/>
<rect x="167.74" y="471.40" width="6.0" height="6.0" fill="none" stroke="#1e8c1e" stroke-width="1.2"/>
<rect x="182.46" y="472.60" width="6.0" height="6.0" fill="none" stroke="#1e8c1e" stroke-width="1.2"/>
<rect x="197.18" y="473.80" width="6.0" height="6.0" fill="none" stroke="#1e8c1e" stroke-width="1.2"/>
<rect x="52.50" y="450.20" width="162.90" height="43.20" fill="none" stroke="#1a1a1a" stroke-width="1.4"/>
<line x1="227.90" y1="454.00" x2="367.00" y2="454.00" stroke="#f5f5f5" stroke-width="1"/>
<line x1="227.90" y1="454.00" x2="367.00" y2="454.00" stroke="#e8e8e8" stroke-width="1" stroke-dasharray="1,2.5"/>
<line x1="227.90" y1="461.30" x2="367.00" y2="461.30" stroke="#f5f5f5" stroke-width="1"/>
<line x1="227.90" y1="461.30" x2="367.00" y2="461.30" stroke="#e8e8e8" stroke-width="1" stroke-dasharray="1,2.5"/>
<line x1="227.90" y1="468.00" x2="367.00" y2="468.00" stroke="#f5f5f5" stroke-width="1"/>
<line x1="227.90" y1="468.00" x2="367.00" y2="468.00" stroke="#e8e8e8" stroke-width="1" stroke-dasharray="1,2.5"/>
<line x1="227.90" y1="475.00" x2="367.00" y2="475.00" stroke="#f5f5f5" stroke-width="1"/>
<line x1="227.90" y1="475.00" x2="367.00" y2="475.00" stroke="#e8e8e8" stroke-width="1" stroke-dasharray="1,2.5"/>
<line x1="227.90" y1="482.30" x2="367.00" y2="482.30" stroke="#f5f5f5" stroke-width="1"/>
<line x1="227.90" y1="482.30" x2="367.00" y2="482.30" stroke="#e8e8e8" stroke-width="1" stroke-dasharray="1,2.5"/>
<line x1="227.90" y1="489.60" x2="367.00" y2="489.60" stroke="#f5f5f5" stroke-width="1"/>
<line x1="227.90" y1="489.60" x2="367.00" y2="489.60" stroke="#e8e8e8" stroke-width="1" stroke-dasharray="1,2.5"/>
<line x1="255.30" y1="450.70" x2="255.30" y2="492.90" stroke="#f5f5f5" stroke-width="1"/>
<line x1="255.30" y1="450.70" x2="255.30" y2="492.90" stroke="#e8e8e8" stroke-width="1" stroke-dasharray="1,2.5"/>
<line x1="283.40" y1="450.70" x2="283.40" y2="492.90" stroke="#f5f5f5" stroke-width="1"/>
<line x1="283.40" y1="450.70" x2="283.40" y2="492.90" stroke="#e8e8e8" stroke-width="1" stroke-dasharray="1,2.5"/>
<line x1="311.40" y1="450.70" x2="311.40" y2="492.90" stroke="#f5f5f5" stroke-width="1"/>
<line x1="311.40" y1="450.70" x2="311.40" y2="492.90" stroke="#e8e8e8" stroke-width="1" stroke-dasharray="1,2.5"/>
<line x1="339.50" y1="450.70" x2="339.50" y2="492.90" stroke="#f5f5f5" stroke-width="1"/>
<line x1="339.50" y1="450.70" x2="339.50" y2="492.90" stroke="#e8e8e8" stroke-width="1" stroke-dasharray="1,2.5"/>
<line x1="227.40" y1="454.00" x2="230.10" y2="454.00" stroke="#1a1a1a" stroke-width="1.2"/>
<line x1="364.80" y1="454.00" x2="367.50" y2="454.00" stroke="#1a1a1a" stroke-width="1.2"/>
<line x1="227.40" y1="461.30" x2="230.10" y2="461.30" stroke="#1a1a1a" stroke-width="1.2"/>
<line x1="364.80" y1="461.30" x2="367.50" y2="461.30" stroke="#1a1a1a" stroke-width="1.2"/>
<line x1="227.40" y1="468.00" x2="230.10" y2="468.00" stroke="#1a1a1a" stroke-width="1.2"/>
<line x1="364.80" y1="468.00" x2="367.50" y2="468.00" stroke="#1a1a1a" stroke-width="1.2"/>
<line x1="227.40" y1="475.00" x2="230.10" y2="475.00" stroke="#1a1a1a" stroke-width="1.2"/>
<line x1="364.80" y1="475.00" x2="367.50" y2="475.00" stroke="#1a1a1a" stroke-width="1.2"/>
<line x1="227.40" y1="482.30" x2="230.10" y2="482.30" stroke="#1a1a1a" stroke-width="1.2"/>
<line x1="364.80" y1="482.30" x2="367.50" y2="482.30" stroke="#1a1a1a" stroke-width="1.2"/>
<line x1="227.40" y1="489.60" x2="230.10" y2="489.60" stroke="#1a1a1a" stroke-width="1.2"/>
<line x1="364.80" y1="489.60" x2="367.50" y2="489.60" stroke="#1a1a1a" stroke-width="1.2"/>
<line x1="255.30" y1="450.20" x2="255.30" y2="453.30" stroke="#1a1a1a" stroke-width="1.6"/>
<line x1="255.30" y1="490.30" x2="255.30" y2="493.40" stroke="#1a1a1a" stroke-width="1.6"/>
<line x1="283.40" y1="450.20" x2="283.40" y2="453.30" stroke="#1a1a1a" stroke-width="1.6"/>
<line x1="283.40" y1="490.30" x2="283.40" y2="493.40" stroke="#1a1a1a" stroke-width="1.6"/>
<line x1="311.40" y1="450.20" x2="311.40" y2="453.30" stroke="#1a1a1a" stroke-width="1.6"/>
<line x1="311.40" y1="490.30" x2="311.40" y2="493.40" stroke="#1a1a1a" stroke-width="1.6"/>
<line x1="339.50" y1="450.20" x2="339.50" y2="453.30" stroke="#1a1a1a" stroke-width="1.6"/>
<line x1="339.50" y1="490.30" x2="339.50" y2="493.40" stroke="#1a1a1a" stroke-width="1.6"/>
<line x1="228.90" y1="467.50" x2="366.90" y2="467.50" stroke="#2525b8" stroke-width="1.6" stroke-dasharray="2.7,3.1"/>
<line x1="339.50" y1="450.80" x2="339.50" y2="492.80" stroke="#e9b9c6" stroke-width="1.0"/>
<line x1="339.50" y1="450.80" x2="339.50" y2="492.80" stroke="#b01c40" stroke-width="1.1" stroke-dasharray="1.3,1.5"/>
<polyline points="255.30,471.50 283.40,469.70 311.40,468.00 339.50,467.30" fill="none" stroke="#40a040" stroke-width="1.4" stroke-dasharray="3,3"/>
<rect x="252.30" y="468.50" width="6.0" height="6.0" fill="none" stroke="#1e8c1e" stroke-width="1.2"/>
<rect x="280.40" y="466.70" width="6.0" height="6.0" fill="none" stroke="#1e8c1e" stroke-width="1.2"/>
<rect x="308.40" y="465.00" width="6.0" height="6.0" fill="none" stroke="#1e8c1e" stroke-width="1.2"/>
<rect x="336.50" y="464.30" width="6.0" height="6.0" fill="none" stroke="#1e8c1e" stroke-width="1.2"/>
<rect x="227.40" y="450.20" width="140.10" height="43.20" fill="none" stroke="#1a1a1a" stroke-width="1.4"/>
<text x="45.60" y="471.35" text-anchor="end" font-size="13.3">0.6335</text>
<text x="67.70" y="511.80" text-anchor="middle" font-size="13.3" clip-path="url(#c87)">1</text>
<text x="82.40" y="511.80" text-anchor="middle" font-size="13.3">2</text>
<text x="200.40" y="511.80" text-anchor="middle" font-size="13.3" clip-path="url(#c89)">10</text>
<text x="255.40" y="511.80" text-anchor="middle" font-size="13.3">600</text>
<text x="339.30" y="511.80" text-anchor="middle" font-size="13.3">900</text>
<text transform="translate(390.40,472.20) rotate(-90)" text-anchor="middle" font-size="13.8">Desirability</text>
<defs><clipPath id="c8" clipPathUnits="userSpaceOnUse"><path clip-rule="evenodd" d="M-2000,-2000H3000V3000H-2000ZM553.52,58.16H556.29V60.00H553.52ZM557.57,58.16H560.33V60.00H557.57Z"/></clipPath><clipPath id="c14" clipPathUnits="userSpaceOnUse"><path clip-rule="evenodd" d="M-2000,-2000H3000V3000H-2000ZM-12.43,-1.24H-9.66V0.60H-12.43ZM-8.38,-1.24H-5.62V0.60H-8.38Z"/></clipPath><clipPath id="c16" clipPathUnits="userSpaceOnUse"><path clip-rule="evenodd" d="M-2000,-2000H3000V3000H-2000ZM12.84,98.71H15.61V100.55H12.84ZM16.89,98.71H19.66V100.55H16.89Z"/></clipPath><clipPath id="c17" clipPathUnits="userSpaceOnUse"><path clip-rule="evenodd" d="M-2000,-2000H3000V3000H-2000ZM12.84,124.41H15.61V126.25H12.84ZM16.89,124.41H19.66V126.25H16.89Z"/></clipPath><clipPath id="c21" clipPathUnits="userSpaceOnUse"><path clip-rule="evenodd" d="M-2000,-2000H3000V3000H-2000ZM553.52,120.16H556.29V122.00H553.52ZM557.57,120.16H560.33V122.00H557.57Z"/></clipPath><clipPath id="c22" clipPathUnits="userSpaceOnUse"><path clip-rule="evenodd" d="M-2000,-2000H3000V3000H-2000ZM605.09,106.51H607.86V108.35H605.09ZM609.14,106.51H611.90V108.35H609.14Z"/></clipPath><clipPath id="c24" clipPathUnits="userSpaceOnUse"><path clip-rule="evenodd" d="M-2000,-2000H3000V3000H-2000ZM576.25,127.81H579.02V129.65H576.25ZM580.29,127.81H583.06V129.65H580.29Z"/></clipPath><clipPath id="c30" clipPathUnits="userSpaceOnUse"><path clip-rule="evenodd" d="M-2000,-2000H3000V3000H-2000ZM12.84,182.91H15.61V184.75H12.84ZM16.89,182.91H19.66V184.75H16.89ZM23.94,182.91H26.71V184.75H23.94ZM27.98,182.91H30.75V184.75H27.98ZM38.72,182.91H41.49V184.75H38.72ZM42.76,182.91H45.53V184.75H42.76Z"/></clipPath><clipPath id="c34" clipPathUnits="userSpaceOnUse"><path clip-rule="evenodd" d="M-2000,-2000H3000V3000H-2000ZM553.52,178.46H556.29V180.30H553.52ZM557.57,178.46H560.33V180.30H557.57Z"/></clipPath><clipPath id="c37" clipPathUnits="userSpaceOnUse"><path clip-rule="evenodd" d="M-2000,-2000H3000V3000H-2000ZM576.25,186.51H579.02V188.35H576.25ZM580.29,186.51H583.06V188.35H580.29Z"/></clipPath><clipPath id="c40" clipPathUnits="userSpaceOnUse"><path clip-rule="evenodd" d="M-2000,-2000H3000V3000H-2000ZM-12.43,-1.24H-9.66V0.60H-12.43ZM-8.38,-1.24H-5.62V0.60H-8.38Z"/></clipPath><clipPath id="c42" clipPathUnits="userSpaceOnUse"><path clip-rule="evenodd" d="M-2000,-2000H3000V3000H-2000ZM20.23,216.81H23.00V218.65H20.23ZM24.28,216.81H27.05V218.65H24.28Z"/></clipPath><clipPath id="c47" clipPathUnits="userSpaceOnUse"><path clip-rule="evenodd" d="M-2000,-2000H3000V3000H-2000ZM553.52,214.86H556.29V216.70H553.52ZM557.57,214.86H560.33V216.70H557.57Z"/></clipPath><clipPath id="c48" clipPathUnits="userSpaceOnUse"><path clip-rule="evenodd" d="M-2000,-2000H3000V3000H-2000ZM571.82,223.31H574.59V225.15H571.82ZM575.87,223.31H578.64V225.15H575.87ZM582.90,223.31H585.67V225.15H582.90ZM586.95,223.31H589.71V225.15H586.95Z"/></clipPath><clipPath id="c54" clipPathUnits="userSpaceOnUse"><path clip-rule="evenodd" d="M-2000,-2000H3000V3000H-2000ZM20.23,290.51H23.00V292.35H20.23ZM24.28,290.51H27.05V292.35H24.28Z"/></clipPath><clipPath id="c58" clipPathUnits="userSpaceOnUse"><path clip-rule="evenodd" d="M-2000,-2000H3000V3000H-2000ZM553.52,273.96H556.29V275.80H553.52ZM557.57,273.96H560.33V275.80H557.57Z"/></clipPath><clipPath id="c59" clipPathUnits="userSpaceOnUse"><path clip-rule="evenodd" d="M-2000,-2000H3000V3000H-2000ZM571.82,282.51H574.59V284.35H571.82ZM575.87,282.51H578.64V284.35H575.87Z"/></clipPath><clipPath id="c60" clipPathUnits="userSpaceOnUse"><path clip-rule="evenodd" d="M-2000,-2000H3000V3000H-2000ZM571.82,293.61H574.59V295.45H571.82ZM575.87,293.61H578.64V295.45H575.87Z"/></clipPath><clipPath id="c61" clipPathUnits="userSpaceOnUse"><path clip-rule="evenodd" d="M-2000,-2000H3000V3000H-2000ZM571.82,304.91H574.59V306.75H571.82ZM575.87,304.91H578.64V306.75H575.87Z"/></clipPath><clipPath id="c66" clipPathUnits="userSpaceOnUse"><path clip-rule="evenodd" d="M-2000,-2000H3000V3000H-2000ZM12.84,370.51H15.61V372.35H12.84ZM16.89,370.51H19.66V372.35H16.89Z"/></clipPath><clipPath id="c69" clipPathUnits="userSpaceOnUse"><path clip-rule="evenodd" d="M-2000,-2000H3000V3000H-2000ZM553.52,333.66H556.29V335.50H553.52ZM557.57,333.66H560.33V335.50H557.57Z"/></clipPath><clipPath id="c72" clipPathUnits="userSpaceOnUse"><path clip-rule="evenodd" d="M-2000,-2000H3000V3000H-2000ZM571.82,362.01H574.59V363.85H571.82ZM575.87,362.01H578.64V363.85H575.87Z"/></clipPath><clipPath id="c75" clipPathUnits="userSpaceOnUse"><path clip-rule="evenodd" d="M-2000,-2000H3000V3000H-2000ZM20.23,394.11H23.00V395.95H20.23ZM24.28,394.11H27.05V395.95H24.28ZM31.31,394.11H34.08V395.95H31.31ZM35.36,394.11H38.12V395.95H35.36Z"/></clipPath><clipPath id="c80" clipPathUnits="userSpaceOnUse"><path clip-rule="evenodd" d="M-2000,-2000H3000V3000H-2000ZM553.52,392.66H556.29V394.50H553.52ZM557.57,392.66H560.33V394.50H557.57Z"/></clipPath><clipPath id="c87" clipPathUnits="userSpaceOnUse"><path clip-rule="evenodd" d="M-2000,-2000H3000V3000H-2000ZM64.52,510.56H67.29V512.40H64.52ZM68.57,510.56H71.33V512.40H68.57Z"/></clipPath><clipPath id="c89" clipPathUnits="userSpaceOnUse"><path clip-rule="evenodd" d="M-2000,-2000H3000V3000H-2000ZM193.53,510.56H196.30V512.40H193.53ZM197.57,510.56H200.34V512.40H197.57Z"/></clipPath></defs>
</svg>
</body></html>
